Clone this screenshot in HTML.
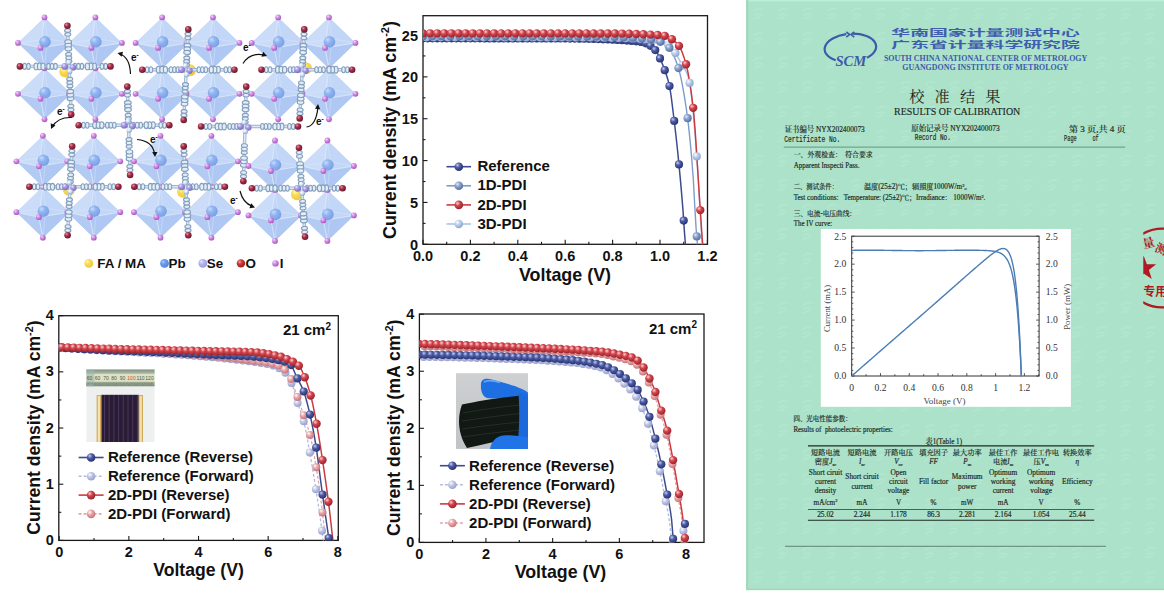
<!DOCTYPE html><html><head><meta charset="utf-8"><title>Figure</title><style>html,body{margin:0;padding:0;background:#fff;width:1164px;height:601px;overflow:hidden}svg{display:block}</style></head><body><svg width="1164" height="601" viewBox="0 0 1164 601"><defs><radialGradient id="gNavy" cx="0.38" cy="0.36" r="0.62" fx="0.34" fy="0.3"><stop offset="0" stop-color="#c9cff0"/><stop offset="0.45" stop-color="#4d5ca6"/><stop offset="1" stop-color="#2a3572"/></radialGradient><radialGradient id="g1D" cx="0.38" cy="0.36" r="0.62" fx="0.34" fy="0.3"><stop offset="0" stop-color="#e6ecf8"/><stop offset="0.45" stop-color="#8aa2cc"/><stop offset="1" stop-color="#5a73a2"/></radialGradient><radialGradient id="gRed" cx="0.38" cy="0.36" r="0.62" fx="0.34" fy="0.3"><stop offset="0" stop-color="#ffd6d6"/><stop offset="0.45" stop-color="#d4454c"/><stop offset="1" stop-color="#9c2630"/></radialGradient><radialGradient id="g3D" cx="0.38" cy="0.36" r="0.62" fx="0.34" fy="0.3"><stop offset="0" stop-color="#ffffff"/><stop offset="0.45" stop-color="#bcd0ec"/><stop offset="1" stop-color="#8fa9d2"/></radialGradient><radialGradient id="gRefF" cx="0.38" cy="0.36" r="0.62" fx="0.34" fy="0.3"><stop offset="0" stop-color="#ffffff"/><stop offset="0.45" stop-color="#c3c8e6"/><stop offset="1" stop-color="#9aa2cf"/></radialGradient><radialGradient id="g2DF" cx="0.38" cy="0.36" r="0.62" fx="0.34" fy="0.3"><stop offset="0" stop-color="#ffffff"/><stop offset="0.45" stop-color="#e7a9ab"/><stop offset="1" stop-color="#c9777c"/></radialGradient><radialGradient id="sPb" cx="0.38" cy="0.36" r="0.62" fx="0.34" fy="0.3"><stop offset="0" stop-color="#c8dcfa"/><stop offset="0.45" stop-color="#86aef0"/><stop offset="1" stop-color="#6e98e2"/></radialGradient><radialGradient id="sI" cx="0.38" cy="0.36" r="0.62" fx="0.34" fy="0.3"><stop offset="0" stop-color="#f7d8fb"/><stop offset="0.45" stop-color="#d58be6"/><stop offset="1" stop-color="#a95cc0"/></radialGradient><radialGradient id="sO" cx="0.38" cy="0.36" r="0.62" fx="0.34" fy="0.3"><stop offset="0" stop-color="#e495a8"/><stop offset="0.45" stop-color="#a8304a"/><stop offset="1" stop-color="#6c1a32"/></radialGradient><radialGradient id="sSe" cx="0.38" cy="0.36" r="0.62" fx="0.34" fy="0.3"><stop offset="0" stop-color="#ebe6fb"/><stop offset="0.45" stop-color="#a89ce4"/><stop offset="1" stop-color="#7d70c4"/></radialGradient><radialGradient id="sFA" cx="0.38" cy="0.36" r="0.62" fx="0.34" fy="0.3"><stop offset="0" stop-color="#fff8c0"/><stop offset="0.45" stop-color="#f8dc50"/><stop offset="1" stop-color="#f0c840"/></radialGradient><radialGradient id="sPbL" cx="0.38" cy="0.36" r="0.62" fx="0.34" fy="0.3"><stop offset="0" stop-color="#a8c8fa"/><stop offset="0.45" stop-color="#6a9cec"/><stop offset="1" stop-color="#4f86e0"/></radialGradient><radialGradient id="sOL" cx="0.38" cy="0.36" r="0.62" fx="0.34" fy="0.3"><stop offset="0" stop-color="#f0a0a0"/><stop offset="0.45" stop-color="#c83a3a"/><stop offset="1" stop-color="#a02020"/></radialGradient><radialGradient id="sSeL" cx="0.38" cy="0.36" r="0.62" fx="0.34" fy="0.3"><stop offset="0" stop-color="#e4e4fc"/><stop offset="0.45" stop-color="#b4b4f0"/><stop offset="1" stop-color="#9c9ce4"/></radialGradient><radialGradient id="sC" cx="0.38" cy="0.36" r="0.62" fx="0.34" fy="0.3"><stop offset="0" stop-color="#ffffff"/><stop offset="0.45" stop-color="#d9e7f6"/><stop offset="1" stop-color="#8eaacb"/></radialGradient><clipPath id="clip1"><rect x="423" y="15.7" width="284.5" height="228.6"/></clipPath><clipPath id="clip2"><rect x="58.8" y="315.7" width="279.5" height="224.7"/></clipPath><clipPath id="clip3"><rect x="419.4" y="314" width="284.6" height="228.4"/></clipPath></defs><g stroke="#1a1a1a" stroke-width="1.1"><line x1="423" y1="244.3" x2="423" y2="239.8"/><line x1="470.4" y1="244.3" x2="470.4" y2="239.8"/><line x1="517.8" y1="244.3" x2="517.8" y2="239.8"/><line x1="565.2" y1="244.3" x2="565.2" y2="239.8"/><line x1="612.6" y1="244.3" x2="612.6" y2="239.8"/><line x1="660" y1="244.3" x2="660" y2="239.8"/><line x1="707.4" y1="244.3" x2="707.4" y2="239.8"/><line x1="446.7" y1="244.3" x2="446.7" y2="241.8"/><line x1="494.1" y1="244.3" x2="494.1" y2="241.8"/><line x1="541.5" y1="244.3" x2="541.5" y2="241.8"/><line x1="588.9" y1="244.3" x2="588.9" y2="241.8"/><line x1="636.3" y1="244.3" x2="636.3" y2="241.8"/><line x1="683.7" y1="244.3" x2="683.7" y2="241.8"/><line x1="423" y1="244.3" x2="427.5" y2="244.3"/><line x1="423" y1="202.44" x2="427.5" y2="202.44"/><line x1="423" y1="160.58" x2="427.5" y2="160.58"/><line x1="423" y1="118.72" x2="427.5" y2="118.72"/><line x1="423" y1="76.86" x2="427.5" y2="76.86"/><line x1="423" y1="35" x2="427.5" y2="35"/><line x1="423" y1="223.37" x2="425.5" y2="223.37"/><line x1="423" y1="181.51" x2="425.5" y2="181.51"/><line x1="423" y1="139.65" x2="425.5" y2="139.65"/><line x1="423" y1="97.79" x2="425.5" y2="97.79"/><line x1="423" y1="55.93" x2="425.5" y2="55.93"/></g>
<rect x="423" y="15.7" width="284.5" height="228.6" fill="none" stroke="#1a1a1a" stroke-width="1.3"/>
<g font-family='"Liberation Sans", sans-serif' font-weight="bold" font-size="14.5" fill="#111"><text x="423" y="260.7" text-anchor="middle">0.0</text><text x="470.4" y="260.7" text-anchor="middle">0.2</text><text x="517.8" y="260.7" text-anchor="middle">0.4</text><text x="565.2" y="260.7" text-anchor="middle">0.6</text><text x="612.6" y="260.7" text-anchor="middle">0.8</text><text x="660" y="260.7" text-anchor="middle">1.0</text><text x="707.4" y="260.7" text-anchor="middle">1.2</text><text x="418" y="249.9" text-anchor="end">0</text><text x="418" y="208.04" text-anchor="end">5</text><text x="418" y="166.18" text-anchor="end">10</text><text x="418" y="124.32" text-anchor="end">15</text><text x="418" y="82.46" text-anchor="end">20</text><text x="418" y="40.6" text-anchor="end">25</text></g>
<text x="565" y="280.5" text-anchor="middle" font-family='"Liberation Sans", sans-serif' font-weight="bold" font-size="17.9" fill="#111">Voltage (V)</text>
<text transform="translate(395.6,130) rotate(-90)" text-anchor="middle" font-family='"Liberation Sans", sans-serif' font-weight="bold" font-size="17.9" fill="#111">Current density (mA cm<tspan dy="-6.8" font-size="11.1">-2</tspan><tspan dy="6.8">)</tspan></text>
<polyline points="423,37.34 424.42,37.34 425.83,37.34 427.25,37.34 428.67,37.34 430.09,37.34 431.5,37.34 432.92,37.34 434.34,37.34 435.76,37.34 437.17,37.35 438.59,37.35 440.01,37.35 441.42,37.35 442.84,37.35 444.26,37.35 445.68,37.35 447.09,37.35 448.51,37.35 449.93,37.35 451.34,37.35 452.76,37.35 454.18,37.35 455.6,37.35 457.01,37.35 458.43,37.35 459.85,37.35 461.27,37.35 462.68,37.35 464.1,37.35 465.52,37.35 466.93,37.35 468.35,37.35 469.77,37.35 471.19,37.36 472.6,37.36 474.02,37.36 475.44,37.36 476.85,37.36 478.27,37.36 479.69,37.36 481.11,37.36 482.52,37.36 483.94,37.36 485.36,37.36 486.78,37.36 488.19,37.37 489.61,37.37 491.03,37.37 492.44,37.37 493.86,37.37 495.28,37.37 496.7,37.37 498.11,37.37 499.53,37.37 500.95,37.38 502.37,37.38 503.78,37.38 505.2,37.38 506.62,37.38 508.03,37.38 509.45,37.38 510.87,37.39 512.29,37.39 513.7,37.39 515.12,37.39 516.54,37.39 517.95,37.39 519.37,37.39 520.79,37.4 522.21,37.4 523.62,37.4 525.04,37.4 526.46,37.4 527.88,37.4 529.29,37.41 530.71,37.41 532.13,37.41 533.54,37.41 534.96,37.41 536.38,37.42 537.8,37.42 539.21,37.42 540.63,37.42 542.05,37.42 543.47,37.43 544.88,37.43 546.3,37.43 547.72,37.43 549.13,37.43 550.55,37.44 551.97,37.44 553.39,37.44 554.8,37.44 556.22,37.45 557.64,37.45 559.05,37.45 560.47,37.45 561.89,37.46 563.31,37.46 564.72,37.46 566.14,37.46 567.56,37.47 568.98,37.47 570.39,37.47 571.81,37.48 573.23,37.48 574.64,37.48 576.06,37.48 577.48,37.49 578.9,37.49 580.31,37.49 581.73,37.5 583.15,37.5 584.56,37.5 585.98,37.51 587.4,37.51 588.82,37.51 590.23,37.52 591.65,37.52 593.07,37.53 594.49,37.54 595.9,37.55 597.32,37.56 598.74,37.58 600.15,37.59 601.57,37.61 602.99,37.63 604.41,37.65 605.82,37.67 607.24,37.7 608.66,37.72 610.08,37.75 611.49,37.78 612.91,37.81 614.33,37.85 615.74,37.88 617.16,37.92 618.58,37.96 620,38 621.41,38.04 622.83,38.09 624.25,38.13 625.66,38.18 627.08,38.23 628.5,38.28 629.92,38.33 631.33,38.39 632.75,38.45 634.17,38.5 635.59,38.57 637,38.63 638.42,38.69 639.84,38.76 641.25,38.83 642.67,38.9 644.09,38.97 645.51,39.04 646.92,39.12 648.34,39.2 649.76,39.29 651.18,39.42 652.59,39.57 654.01,39.75 655.43,39.97 656.84,40.21 658.26,40.48 659.68,40.79 661.1,41.17 662.51,41.71 663.93,42.4 665.35,43.23 666.76,44.18 668.18,45.24 669.6,46.4 671.02,47.64 672.43,48.97 673.85,50.68 675.27,52.75 676.69,55.08 678.1,57.58 679.52,60.17 680.94,62.76 682.35,65.19 683.77,67.44 685.19,69.83 686.61,72.7 688.02,76.4 689.44,81.96 690.86,91.22 692.27,103.66 693.69,118.64 695.11,135.53 696.53,153.67 697.94,172.64 699.36,197.81 700.78,223.6 702.2,244.41 703.61,259.19 705.03,269.42" fill="none" stroke="#a9c3e6" stroke-width="1.4" clip-path="url(#clip1)"/>
<polyline points="423,36.26 424.39,36.26 425.79,36.26 427.18,36.26 428.57,36.26 429.97,36.26 431.36,36.26 432.75,36.26 434.15,36.26 435.54,36.26 436.93,36.26 438.33,36.26 439.72,36.26 441.11,36.26 442.51,36.26 443.9,36.26 445.29,36.26 446.69,36.26 448.08,36.26 449.47,36.26 450.87,36.26 452.26,36.26 453.66,36.26 455.05,36.26 456.44,36.26 457.84,36.26 459.23,36.27 460.62,36.27 462.02,36.27 463.41,36.27 464.8,36.27 466.2,36.27 467.59,36.27 468.98,36.27 470.38,36.27 471.77,36.27 473.16,36.27 474.56,36.28 475.95,36.28 477.34,36.28 478.74,36.28 480.13,36.28 481.52,36.28 482.92,36.28 484.31,36.28 485.7,36.29 487.1,36.29 488.49,36.29 489.88,36.29 491.28,36.29 492.67,36.29 494.06,36.3 495.46,36.3 496.85,36.3 498.24,36.3 499.64,36.3 501.03,36.3 502.42,36.31 503.82,36.31 505.21,36.31 506.61,36.31 508,36.31 509.39,36.32 510.79,36.32 512.18,36.32 513.57,36.32 514.97,36.32 516.36,36.33 517.75,36.33 519.15,36.33 520.54,36.33 521.93,36.34 523.33,36.34 524.72,36.34 526.11,36.34 527.51,36.35 528.9,36.35 530.29,36.35 531.69,36.35 533.08,36.36 534.47,36.36 535.87,36.36 537.26,36.37 538.65,36.37 540.05,36.37 541.44,36.37 542.83,36.38 544.23,36.38 545.62,36.38 547.01,36.39 548.41,36.39 549.8,36.39 551.19,36.4 552.59,36.4 553.98,36.4 555.37,36.41 556.77,36.41 558.16,36.41 559.55,36.42 560.95,36.42 562.34,36.43 563.74,36.43 565.13,36.43 566.52,36.44 567.92,36.44 569.31,36.45 570.7,36.45 572.1,36.45 573.49,36.46 574.88,36.46 576.28,36.47 577.67,36.47 579.06,36.47 580.46,36.48 581.85,36.48 583.24,36.49 584.64,36.49 586.03,36.5 587.42,36.5 588.82,36.51 590.21,36.51 591.6,36.52 593,36.53 594.39,36.54 595.78,36.55 597.18,36.57 598.57,36.59 599.96,36.61 601.36,36.63 602.75,36.65 604.14,36.68 605.54,36.71 606.93,36.74 608.32,36.77 609.72,36.8 611.11,36.84 612.5,36.88 613.9,36.92 615.29,36.97 616.68,37.01 618.08,37.06 619.47,37.11 620.87,37.17 622.26,37.22 623.65,37.28 625.05,37.34 626.44,37.41 627.83,37.48 629.23,37.54 630.62,37.62 632.01,37.69 633.41,37.77 634.8,37.85 636.19,37.93 637.59,38.02 638.98,38.11 640.37,38.2 641.77,38.3 643.16,38.39 644.55,38.49 645.95,38.6 647.34,38.7 648.73,38.82 650.13,38.99 651.52,39.23 652.91,39.53 654.31,39.88 655.7,40.27 657.09,40.7 658.49,41.17 659.88,41.65 661.27,42.19 662.67,42.83 664.06,43.58 665.45,44.46 666.85,45.48 668.24,46.67 669.63,48.2 671.03,50.22 672.42,52.7 673.82,55.61 675.21,58.9 676.6,62.53 678,66.5 679.39,71.36 680.78,77.21 682.18,83.97 683.57,91.59 684.96,99.98 686.36,109.07 687.75,119.26 689.14,131.33 690.54,145.32 691.93,161.29 693.32,179.35 694.72,205.17 696.11,228.66 697.5,244.89 698.9,258.39 700.29,269.42" fill="none" stroke="#7f9bc9" stroke-width="1.4" clip-path="url(#clip1)"/>
<polyline points="423,38.35 424.33,38.35 425.67,38.35 427,38.35 428.34,38.35 429.67,38.35 431,38.35 432.34,38.35 433.67,38.35 435,38.35 436.34,38.35 437.67,38.35 439.01,38.35 440.34,38.35 441.67,38.35 443.01,38.35 444.34,38.35 445.68,38.35 447.01,38.35 448.34,38.35 449.68,38.35 451.01,38.35 452.35,38.35 453.68,38.36 455.01,38.36 456.35,38.36 457.68,38.36 459.01,38.36 460.35,38.36 461.68,38.36 463.02,38.36 464.35,38.36 465.68,38.36 467.02,38.36 468.35,38.36 469.69,38.36 471.02,38.37 472.35,38.37 473.69,38.37 475.02,38.37 476.35,38.37 477.69,38.37 479.02,38.37 480.36,38.37 481.69,38.37 483.02,38.38 484.36,38.38 485.69,38.38 487.03,38.38 488.36,38.38 489.69,38.38 491.03,38.38 492.36,38.39 493.7,38.39 495.03,38.39 496.36,38.39 497.7,38.39 499.03,38.39 500.36,38.39 501.7,38.4 503.03,38.4 504.37,38.4 505.7,38.4 507.03,38.4 508.37,38.41 509.7,38.41 511.04,38.41 512.37,38.41 513.7,38.41 515.04,38.41 516.37,38.42 517.7,38.42 519.04,38.42 520.37,38.42 521.71,38.43 523.04,38.43 524.37,38.43 525.71,38.43 527.04,38.43 528.38,38.44 529.71,38.44 531.04,38.44 532.38,38.44 533.71,38.45 535.05,38.45 536.38,38.45 537.71,38.45 539.05,38.46 540.38,38.46 541.71,38.46 543.05,38.47 544.38,38.47 545.72,38.47 547.05,38.47 548.38,38.48 549.72,38.48 551.05,38.48 552.39,38.49 553.72,38.49 555.05,38.49 556.39,38.49 557.72,38.5 559.05,38.5 560.39,38.5 561.72,38.51 563.06,38.51 564.39,38.51 565.72,38.52 567.06,38.52 568.39,38.53 569.73,38.54 571.06,38.55 572.39,38.56 573.73,38.57 575.06,38.58 576.39,38.6 577.73,38.62 579.06,38.64 580.4,38.66 581.73,38.68 583.06,38.71 584.4,38.73 585.73,38.76 587.07,38.79 588.4,38.82 589.73,38.86 591.07,38.89 592.4,38.93 593.74,38.97 595.07,39.01 596.4,39.05 597.74,39.1 599.07,39.14 600.4,39.19 601.74,39.24 603.07,39.3 604.41,39.35 605.74,39.41 607.07,39.46 608.41,39.53 609.74,39.59 611.08,39.65 612.41,39.72 613.74,39.79 615.08,39.86 616.41,39.93 617.74,40.01 619.08,40.08 620.41,40.16 621.75,40.24 623.08,40.33 624.41,40.41 625.75,40.5 627.08,40.59 628.42,40.69 629.75,40.78 631.08,40.88 632.42,40.98 633.75,41.08 635.09,41.18 636.42,41.29 637.75,41.43 639.09,41.63 640.42,41.89 641.75,42.19 643.09,42.54 644.42,42.93 645.76,43.36 647.09,43.88 648.42,44.54 649.76,45.34 651.09,46.28 652.43,47.36 653.76,48.56 655.09,49.89 656.43,51.6 657.76,53.91 659.09,56.57 660.43,59.34 661.76,62.36 663.1,65.68 664.43,69.29 665.76,73.06 667.1,77.03 668.43,81.66 669.77,87.47 671.1,95.9 672.43,106.31 673.77,117.22 675.1,128.24 676.44,139.99 677.77,152.52 679.1,165.88 680.44,180.12 681.77,195.4 683.1,211.9 684.44,232.09 685.77,248.57 687.11,260.81 688.44,269.42" fill="none" stroke="#3d4b8e" stroke-width="1.5" clip-path="url(#clip1)"/>
<polyline points="423,33.33 424.42,33.33 425.83,33.33 427.25,33.33 428.67,33.33 430.09,33.33 431.5,33.33 432.92,33.33 434.34,33.33 435.76,33.33 437.17,33.33 438.59,33.33 440.01,33.33 441.42,33.33 442.84,33.33 444.26,33.33 445.68,33.33 447.09,33.33 448.51,33.33 449.93,33.33 451.34,33.33 452.76,33.33 454.18,33.33 455.6,33.33 457.01,33.33 458.43,33.33 459.85,33.33 461.27,33.33 462.68,33.33 464.1,33.33 465.52,33.33 466.93,33.33 468.35,33.33 469.77,33.33 471.19,33.33 472.6,33.33 474.02,33.33 475.44,33.33 476.85,33.34 478.27,33.34 479.69,33.34 481.11,33.34 482.52,33.34 483.94,33.34 485.36,33.34 486.78,33.34 488.19,33.34 489.61,33.34 491.03,33.34 492.44,33.34 493.86,33.34 495.28,33.34 496.7,33.34 498.11,33.35 499.53,33.35 500.95,33.35 502.37,33.35 503.78,33.35 505.2,33.35 506.62,33.35 508.03,33.35 509.45,33.35 510.87,33.35 512.29,33.35 513.7,33.36 515.12,33.36 516.54,33.36 517.95,33.36 519.37,33.36 520.79,33.36 522.21,33.36 523.62,33.36 525.04,33.36 526.46,33.37 527.88,33.37 529.29,33.37 530.71,33.37 532.13,33.37 533.54,33.37 534.96,33.37 536.38,33.38 537.8,33.38 539.21,33.38 540.63,33.38 542.05,33.38 543.47,33.38 544.88,33.38 546.3,33.39 547.72,33.39 549.13,33.39 550.55,33.39 551.97,33.39 553.39,33.39 554.8,33.4 556.22,33.4 557.64,33.4 559.05,33.4 560.47,33.4 561.89,33.41 563.31,33.41 564.72,33.41 566.14,33.41 567.56,33.41 568.98,33.42 570.39,33.42 571.81,33.42 573.23,33.42 574.64,33.42 576.06,33.43 577.48,33.43 578.9,33.43 580.31,33.43 581.73,33.43 583.15,33.44 584.56,33.44 585.98,33.44 587.4,33.44 588.82,33.45 590.23,33.45 591.65,33.45 593.07,33.45 594.49,33.46 595.9,33.46 597.32,33.46 598.74,33.47 600.15,33.47 601.57,33.47 602.99,33.47 604.41,33.48 605.82,33.48 607.24,33.48 608.66,33.48 610.08,33.49 611.49,33.49 612.91,33.49 614.33,33.5 615.74,33.51 617.16,33.52 618.58,33.53 620,33.55 621.41,33.57 622.83,33.6 624.25,33.62 625.66,33.65 627.08,33.68 628.5,33.72 629.92,33.76 631.33,33.8 632.75,33.84 634.17,33.89 635.59,33.94 637,33.99 638.42,34.04 639.84,34.1 641.25,34.16 642.67,34.22 644.09,34.28 645.51,34.35 646.92,34.41 648.34,34.48 649.76,34.56 651.18,34.63 652.59,34.71 654.01,34.79 655.43,34.87 656.84,34.95 658.26,35.04 659.68,35.15 661.1,35.29 662.51,35.47 663.93,35.69 665.35,35.97 666.76,36.43 668.18,37.06 669.6,37.82 671.02,38.67 672.43,39.56 673.85,40.57 675.27,41.74 676.69,43.12 678.1,44.76 679.52,46.72 680.94,49.34 682.35,52.67 683.77,56.63 685.19,61.19 686.61,66.35 688.02,72.73 689.44,80.51 690.86,89.7 692.27,100.31 693.69,112.7 695.11,130.08 696.53,151.35 697.94,174.21 699.36,196.32 700.78,217.58 702.2,238.33 703.61,255.33 705.03,269.42" fill="none" stroke="#cc3a40" stroke-width="1.5" clip-path="url(#clip1)"/>
<g clip-path="url(#clip1)"><circle cx="423" cy="38.35" r="4.1" fill="url(#gNavy)"/><circle cx="427.74" cy="38.35" r="4.1" fill="url(#gNavy)"/><circle cx="432.48" cy="38.35" r="4.1" fill="url(#gNavy)"/><circle cx="437.22" cy="38.35" r="4.1" fill="url(#gNavy)"/><circle cx="441.96" cy="38.35" r="4.1" fill="url(#gNavy)"/><circle cx="446.7" cy="38.35" r="4.1" fill="url(#gNavy)"/><circle cx="451.44" cy="38.35" r="4.1" fill="url(#gNavy)"/><circle cx="456.18" cy="38.36" r="4.1" fill="url(#gNavy)"/><circle cx="460.92" cy="38.36" r="4.1" fill="url(#gNavy)"/><circle cx="465.66" cy="38.36" r="4.1" fill="url(#gNavy)"/><circle cx="470.4" cy="38.37" r="4.1" fill="url(#gNavy)"/><circle cx="475.14" cy="38.37" r="4.1" fill="url(#gNavy)"/><circle cx="479.88" cy="38.37" r="4.1" fill="url(#gNavy)"/><circle cx="484.62" cy="38.38" r="4.1" fill="url(#gNavy)"/><circle cx="489.36" cy="38.38" r="4.1" fill="url(#gNavy)"/><circle cx="494.1" cy="38.39" r="4.1" fill="url(#gNavy)"/><circle cx="498.84" cy="38.39" r="4.1" fill="url(#gNavy)"/><circle cx="503.58" cy="38.4" r="4.1" fill="url(#gNavy)"/><circle cx="508.32" cy="38.41" r="4.1" fill="url(#gNavy)"/><circle cx="513.06" cy="38.41" r="4.1" fill="url(#gNavy)"/><circle cx="517.8" cy="38.42" r="4.1" fill="url(#gNavy)"/><circle cx="522.54" cy="38.43" r="4.1" fill="url(#gNavy)"/><circle cx="527.28" cy="38.43" r="4.1" fill="url(#gNavy)"/><circle cx="532.02" cy="38.44" r="4.1" fill="url(#gNavy)"/><circle cx="536.76" cy="38.45" r="4.1" fill="url(#gNavy)"/><circle cx="541.5" cy="38.46" r="4.1" fill="url(#gNavy)"/><circle cx="546.24" cy="38.47" r="4.1" fill="url(#gNavy)"/><circle cx="550.98" cy="38.48" r="4.1" fill="url(#gNavy)"/><circle cx="555.72" cy="38.49" r="4.1" fill="url(#gNavy)"/><circle cx="560.46" cy="38.5" r="4.1" fill="url(#gNavy)"/><circle cx="565.2" cy="38.52" r="4.1" fill="url(#gNavy)"/><circle cx="569.94" cy="38.54" r="4.1" fill="url(#gNavy)"/><circle cx="574.68" cy="38.58" r="4.1" fill="url(#gNavy)"/><circle cx="579.42" cy="38.64" r="4.1" fill="url(#gNavy)"/><circle cx="584.16" cy="38.73" r="4.1" fill="url(#gNavy)"/><circle cx="588.9" cy="38.84" r="4.1" fill="url(#gNavy)"/><circle cx="593.64" cy="38.97" r="4.1" fill="url(#gNavy)"/><circle cx="598.38" cy="39.12" r="4.1" fill="url(#gNavy)"/><circle cx="603.12" cy="39.3" r="4.1" fill="url(#gNavy)"/><circle cx="607.86" cy="39.5" r="4.1" fill="url(#gNavy)"/><circle cx="612.6" cy="39.73" r="4.1" fill="url(#gNavy)"/><circle cx="617.34" cy="39.98" r="4.1" fill="url(#gNavy)"/><circle cx="622.08" cy="40.27" r="4.1" fill="url(#gNavy)"/><circle cx="626.82" cy="40.57" r="4.1" fill="url(#gNavy)"/><circle cx="631.56" cy="40.91" r="4.1" fill="url(#gNavy)"/><circle cx="636.3" cy="41.28" r="4.1" fill="url(#gNavy)"/><circle cx="641.04" cy="42.02" r="4.1" fill="url(#gNavy)"/><circle cx="645.78" cy="43.37" r="4.1" fill="url(#gNavy)"/><circle cx="650.52" cy="45.86" r="4.1" fill="url(#gNavy)"/><circle cx="655.26" cy="50.07" r="4.1" fill="url(#gNavy)"/><circle cx="660" cy="58.44" r="4.1" fill="url(#gNavy)"/><circle cx="664.74" cy="70.16" r="4.1" fill="url(#gNavy)"/><circle cx="669.48" cy="86.07" r="4.1" fill="url(#gNavy)"/><circle cx="674.22" cy="120.88" r="4.1" fill="url(#gNavy)"/><circle cx="678.96" cy="164.41" r="4.1" fill="url(#gNavy)"/><circle cx="683.7" cy="220.59" r="4.1" fill="url(#gNavy)"/></g>
<g clip-path="url(#clip1)"><circle cx="426.56" cy="37.34" r="4.1" fill="url(#g3D)"/><circle cx="433.67" cy="37.34" r="4.1" fill="url(#g3D)"/><circle cx="440.77" cy="37.35" r="4.1" fill="url(#g3D)"/><circle cx="447.88" cy="37.35" r="4.1" fill="url(#g3D)"/><circle cx="455" cy="37.35" r="4.1" fill="url(#g3D)"/><circle cx="462.11" cy="37.35" r="4.1" fill="url(#g3D)"/><circle cx="469.22" cy="37.35" r="4.1" fill="url(#g3D)"/><circle cx="476.32" cy="37.36" r="4.1" fill="url(#g3D)"/><circle cx="483.44" cy="37.36" r="4.1" fill="url(#g3D)"/><circle cx="490.55" cy="37.37" r="4.1" fill="url(#g3D)"/><circle cx="497.65" cy="37.37" r="4.1" fill="url(#g3D)"/><circle cx="504.76" cy="37.38" r="4.1" fill="url(#g3D)"/><circle cx="511.88" cy="37.39" r="4.1" fill="url(#g3D)"/><circle cx="518.99" cy="37.39" r="4.1" fill="url(#g3D)"/><circle cx="526.1" cy="37.4" r="4.1" fill="url(#g3D)"/><circle cx="533.21" cy="37.41" r="4.1" fill="url(#g3D)"/><circle cx="540.32" cy="37.42" r="4.1" fill="url(#g3D)"/><circle cx="547.42" cy="37.43" r="4.1" fill="url(#g3D)"/><circle cx="554.54" cy="37.44" r="4.1" fill="url(#g3D)"/><circle cx="561.64" cy="37.46" r="4.1" fill="url(#g3D)"/><circle cx="568.75" cy="37.47" r="4.1" fill="url(#g3D)"/><circle cx="575.87" cy="37.48" r="4.1" fill="url(#g3D)"/><circle cx="582.98" cy="37.5" r="4.1" fill="url(#g3D)"/><circle cx="590.09" cy="37.51" r="4.1" fill="url(#g3D)"/><circle cx="597.19" cy="37.56" r="4.1" fill="url(#g3D)"/><circle cx="604.31" cy="37.65" r="4.1" fill="url(#g3D)"/><circle cx="611.41" cy="37.78" r="4.1" fill="url(#g3D)"/><circle cx="618.52" cy="37.96" r="4.1" fill="url(#g3D)"/><circle cx="625.63" cy="38.18" r="4.1" fill="url(#g3D)"/><circle cx="632.75" cy="38.45" r="4.1" fill="url(#g3D)"/><circle cx="639.86" cy="38.76" r="4.1" fill="url(#g3D)"/><circle cx="646.96" cy="39.12" r="4.1" fill="url(#g3D)"/><circle cx="654.08" cy="39.76" r="4.1" fill="url(#g3D)"/><circle cx="661.18" cy="41.19" r="4.1" fill="url(#g3D)"/><circle cx="668.29" cy="45.33" r="4.1" fill="url(#g3D)"/><circle cx="675.4" cy="52.96" r="4.1" fill="url(#g3D)"/><circle cx="682.51" cy="65.45" r="4.1" fill="url(#g3D)"/><circle cx="689.62" cy="82.97" r="4.1" fill="url(#g3D)"/><circle cx="696.73" cy="156.4" r="4.1" fill="url(#g3D)"/><circle cx="703.85" cy="261.26" r="4.1" fill="url(#g3D)"/></g>
<g clip-path="url(#clip1)"><circle cx="423" cy="36.26" r="4.1" fill="url(#g1D)"/><circle cx="432.12" cy="36.26" r="4.1" fill="url(#g1D)"/><circle cx="441.25" cy="36.26" r="4.1" fill="url(#g1D)"/><circle cx="450.37" cy="36.26" r="4.1" fill="url(#g1D)"/><circle cx="459.5" cy="36.27" r="4.1" fill="url(#g1D)"/><circle cx="468.62" cy="36.27" r="4.1" fill="url(#g1D)"/><circle cx="477.75" cy="36.28" r="4.1" fill="url(#g1D)"/><circle cx="486.87" cy="36.29" r="4.1" fill="url(#g1D)"/><circle cx="496" cy="36.3" r="4.1" fill="url(#g1D)"/><circle cx="505.12" cy="36.31" r="4.1" fill="url(#g1D)"/><circle cx="514.25" cy="36.32" r="4.1" fill="url(#g1D)"/><circle cx="523.37" cy="36.34" r="4.1" fill="url(#g1D)"/><circle cx="532.49" cy="36.36" r="4.1" fill="url(#g1D)"/><circle cx="541.62" cy="36.37" r="4.1" fill="url(#g1D)"/><circle cx="550.74" cy="36.4" r="4.1" fill="url(#g1D)"/><circle cx="559.87" cy="36.42" r="4.1" fill="url(#g1D)"/><circle cx="568.99" cy="36.44" r="4.1" fill="url(#g1D)"/><circle cx="578.12" cy="36.47" r="4.1" fill="url(#g1D)"/><circle cx="587.24" cy="36.5" r="4.1" fill="url(#g1D)"/><circle cx="596.37" cy="36.56" r="4.1" fill="url(#g1D)"/><circle cx="605.49" cy="36.7" r="4.1" fill="url(#g1D)"/><circle cx="614.61" cy="36.94" r="4.1" fill="url(#g1D)"/><circle cx="623.74" cy="37.29" r="4.1" fill="url(#g1D)"/><circle cx="632.86" cy="37.74" r="4.1" fill="url(#g1D)"/><circle cx="641.99" cy="38.31" r="4.1" fill="url(#g1D)"/><circle cx="651.11" cy="39.16" r="4.1" fill="url(#g1D)"/><circle cx="660.24" cy="41.78" r="4.1" fill="url(#g1D)"/><circle cx="669.36" cy="47.86" r="4.1" fill="url(#g1D)"/><circle cx="678.49" cy="68.1" r="4.1" fill="url(#g1D)"/><circle cx="687.61" cy="118.17" r="4.1" fill="url(#g1D)"/><circle cx="696.74" cy="236.47" r="4.1" fill="url(#g1D)"/></g>
<g clip-path="url(#clip1)"><circle cx="423" cy="33.33" r="4.2" fill="url(#gRed)"/><circle cx="430.11" cy="33.33" r="4.2" fill="url(#gRed)"/><circle cx="437.22" cy="33.33" r="4.2" fill="url(#gRed)"/><circle cx="444.33" cy="33.33" r="4.2" fill="url(#gRed)"/><circle cx="451.44" cy="33.33" r="4.2" fill="url(#gRed)"/><circle cx="458.55" cy="33.33" r="4.2" fill="url(#gRed)"/><circle cx="465.66" cy="33.33" r="4.2" fill="url(#gRed)"/><circle cx="472.77" cy="33.33" r="4.2" fill="url(#gRed)"/><circle cx="479.88" cy="33.34" r="4.2" fill="url(#gRed)"/><circle cx="486.99" cy="33.34" r="4.2" fill="url(#gRed)"/><circle cx="494.1" cy="33.34" r="4.2" fill="url(#gRed)"/><circle cx="501.21" cy="33.35" r="4.2" fill="url(#gRed)"/><circle cx="508.32" cy="33.35" r="4.2" fill="url(#gRed)"/><circle cx="515.43" cy="33.36" r="4.2" fill="url(#gRed)"/><circle cx="522.54" cy="33.36" r="4.2" fill="url(#gRed)"/><circle cx="529.65" cy="33.37" r="4.2" fill="url(#gRed)"/><circle cx="536.76" cy="33.38" r="4.2" fill="url(#gRed)"/><circle cx="543.87" cy="33.38" r="4.2" fill="url(#gRed)"/><circle cx="550.98" cy="33.39" r="4.2" fill="url(#gRed)"/><circle cx="558.09" cy="33.4" r="4.2" fill="url(#gRed)"/><circle cx="565.2" cy="33.41" r="4.2" fill="url(#gRed)"/><circle cx="572.31" cy="33.42" r="4.2" fill="url(#gRed)"/><circle cx="579.42" cy="33.43" r="4.2" fill="url(#gRed)"/><circle cx="586.53" cy="33.44" r="4.2" fill="url(#gRed)"/><circle cx="593.64" cy="33.46" r="4.2" fill="url(#gRed)"/><circle cx="600.75" cy="33.47" r="4.2" fill="url(#gRed)"/><circle cx="607.86" cy="33.48" r="4.2" fill="url(#gRed)"/><circle cx="614.97" cy="33.5" r="4.2" fill="url(#gRed)"/><circle cx="622.08" cy="33.58" r="4.2" fill="url(#gRed)"/><circle cx="629.19" cy="33.74" r="4.2" fill="url(#gRed)"/><circle cx="636.3" cy="33.96" r="4.2" fill="url(#gRed)"/><circle cx="643.41" cy="34.25" r="4.2" fill="url(#gRed)"/><circle cx="650.52" cy="34.6" r="4.2" fill="url(#gRed)"/><circle cx="657.63" cy="35" r="4.2" fill="url(#gRed)"/><circle cx="664.74" cy="35.84" r="4.2" fill="url(#gRed)"/><circle cx="671.85" cy="39.19" r="4.2" fill="url(#gRed)"/><circle cx="678.96" cy="45.88" r="4.2" fill="url(#gRed)"/><circle cx="686.07" cy="64.3" r="4.2" fill="url(#gRed)"/><circle cx="693.18" cy="107.84" r="4.2" fill="url(#gRed)"/><circle cx="700.29" cy="210.1" r="4.2" fill="url(#gRed)"/></g>
<line x1="446.5" y1="166.7" x2="471" y2="166.7" stroke="#3d4b8e" stroke-width="1.6"/>
<circle cx="458.8" cy="166.7" r="4.3" fill="url(#gNavy)"/>
<text x="477.4" y="171.3" font-family='"Liberation Sans", sans-serif' font-weight="bold" font-size="15" fill="#111">Reference</text>
<line x1="446.5" y1="185.8" x2="471" y2="185.8" stroke="#7f9bc9" stroke-width="1.6"/>
<circle cx="458.8" cy="185.8" r="4.3" fill="url(#g1D)"/>
<text x="477.4" y="190.4" font-family='"Liberation Sans", sans-serif' font-weight="bold" font-size="15" fill="#111">1D-PDI</text>
<line x1="446.5" y1="204.9" x2="471" y2="204.9" stroke="#cc3a40" stroke-width="1.6"/>
<circle cx="458.8" cy="204.9" r="4.3" fill="url(#gRed)"/>
<text x="477.4" y="209.5" font-family='"Liberation Sans", sans-serif' font-weight="bold" font-size="15" fill="#111">2D-PDI</text>
<line x1="446.5" y1="224" x2="471" y2="224" stroke="#a9c3e6" stroke-width="1.6"/>
<circle cx="458.8" cy="224" r="4.3" fill="url(#g3D)"/>
<text x="477.4" y="228.6" font-family='"Liberation Sans", sans-serif' font-weight="bold" font-size="15" fill="#111">3D-PDI</text>
<g stroke="#1a1a1a" stroke-width="1.1"><line x1="59.2" y1="540.4" x2="59.2" y2="535.9"/><line x1="128.86" y1="540.4" x2="128.86" y2="535.9"/><line x1="198.52" y1="540.4" x2="198.52" y2="535.9"/><line x1="268.18" y1="540.4" x2="268.18" y2="535.9"/><line x1="337.84" y1="540.4" x2="337.84" y2="535.9"/><line x1="94.03" y1="540.4" x2="94.03" y2="537.9"/><line x1="163.69" y1="540.4" x2="163.69" y2="537.9"/><line x1="233.35" y1="540.4" x2="233.35" y2="537.9"/><line x1="303.01" y1="540.4" x2="303.01" y2="537.9"/><line x1="58.8" y1="540.4" x2="63.3" y2="540.4"/><line x1="58.8" y1="484.22" x2="63.3" y2="484.22"/><line x1="58.8" y1="428.04" x2="63.3" y2="428.04"/><line x1="58.8" y1="371.86" x2="63.3" y2="371.86"/><line x1="58.8" y1="315.68" x2="63.3" y2="315.68"/><line x1="58.8" y1="512.31" x2="61.3" y2="512.31"/><line x1="58.8" y1="456.13" x2="61.3" y2="456.13"/><line x1="58.8" y1="399.95" x2="61.3" y2="399.95"/><line x1="58.8" y1="343.77" x2="61.3" y2="343.77"/></g>
<rect x="58.8" y="315.7" width="279.5" height="224.7" fill="none" stroke="#1a1a1a" stroke-width="1.3"/>
<g font-family='"Liberation Sans", sans-serif' font-weight="bold" font-size="14.5" fill="#111"><text x="59.2" y="556.8" text-anchor="middle">0</text><text x="128.86" y="556.8" text-anchor="middle">2</text><text x="198.52" y="556.8" text-anchor="middle">4</text><text x="268.18" y="556.8" text-anchor="middle">6</text><text x="337.84" y="556.8" text-anchor="middle">8</text><text x="53.8" y="544.9" text-anchor="end">0</text><text x="53.8" y="488.72" text-anchor="end">1</text><text x="53.8" y="432.54" text-anchor="end">2</text><text x="53.8" y="376.36" text-anchor="end">3</text><text x="53.8" y="320.18" text-anchor="end">4</text></g>
<text x="198.5" y="576" text-anchor="middle" font-family='"Liberation Sans", sans-serif' font-weight="bold" font-size="17.6" fill="#111">Voltage (V)</text>
<text transform="translate(39.5,427.5) rotate(-90)" text-anchor="middle" font-family='"Liberation Sans", sans-serif' font-weight="bold" font-size="17.6" fill="#111">Current density (mA cm<tspan dy="-6.69" font-size="10.91">-2</tspan><tspan dy="6.69">)</tspan></text>
<text x="331" y="335" text-anchor="end" font-family='"Liberation Sans", sans-serif' font-weight="bold" font-size="15" fill="#111">21 cm<tspan dy="-5.5" font-size="10">2</tspan></text>
<polyline points="59.2,347.7 60.55,347.8 61.9,347.9 63.24,348 64.59,348.09 65.94,348.19 67.29,348.28 68.63,348.38 69.98,348.47 71.33,348.57 72.68,348.66 74.02,348.75 75.37,348.85 76.72,348.94 78.07,349.03 79.42,349.12 80.76,349.21 82.11,349.3 83.46,349.39 84.81,349.47 86.15,349.56 87.5,349.65 88.85,349.73 90.2,349.82 91.54,349.9 92.89,349.99 94.24,350.07 95.59,350.15 96.94,350.23 98.28,350.32 99.63,350.4 100.98,350.48 102.33,350.56 103.67,350.63 105.02,350.71 106.37,350.79 107.72,350.87 109.06,350.94 110.41,351.02 111.76,351.09 113.11,351.16 114.46,351.23 115.8,351.3 117.15,351.37 118.5,351.44 119.85,351.51 121.19,351.57 122.54,351.63 123.89,351.7 125.24,351.76 126.58,351.82 127.93,351.88 129.28,351.94 130.63,352 131.98,352.06 133.32,352.12 134.67,352.18 136.02,352.24 137.37,352.3 138.71,352.36 140.06,352.42 141.41,352.48 142.76,352.54 144.1,352.6 145.45,352.67 146.8,352.73 148.15,352.79 149.5,352.86 150.84,352.93 152.19,353 153.54,353.07 154.89,353.14 156.23,353.21 157.58,353.29 158.93,353.37 160.28,353.45 161.62,353.53 162.97,353.61 164.32,353.69 165.67,353.77 167.02,353.85 168.36,353.94 169.71,354.02 171.06,354.11 172.41,354.2 173.75,354.29 175.1,354.38 176.45,354.47 177.8,354.56 179.14,354.65 180.49,354.75 181.84,354.84 183.19,354.94 184.54,355.03 185.88,355.13 187.23,355.23 188.58,355.33 189.93,355.44 191.27,355.54 192.62,355.64 193.97,355.75 195.32,355.85 196.66,355.96 198.01,356.07 199.36,356.18 200.71,356.29 202.06,356.4 203.4,356.51 204.75,356.63 206.1,356.74 207.45,356.86 208.79,356.98 210.14,357.1 211.49,357.22 212.84,357.34 214.18,357.46 215.53,357.58 216.88,357.71 218.23,357.84 219.58,357.96 220.92,358.09 222.27,358.23 223.62,358.36 224.97,358.5 226.31,358.63 227.66,358.77 229.01,358.91 230.36,359.06 231.7,359.2 233.05,359.35 234.4,359.5 235.75,359.65 237.1,359.8 238.44,359.96 239.79,360.12 241.14,360.28 242.49,360.44 243.83,360.61 245.18,360.78 246.53,360.95 247.88,361.13 249.22,361.3 250.57,361.48 251.92,361.67 253.27,361.85 254.62,362.04 255.96,362.22 257.31,362.4 258.66,362.59 260.01,362.79 261.35,363 262.7,363.21 264.05,363.44 265.4,363.69 266.74,363.96 268.09,364.24 269.44,364.55 270.79,364.89 272.14,365.25 273.48,365.67 274.83,366.14 276.18,366.69 277.53,367.3 278.87,368 280.22,368.77 281.57,369.63 282.92,370.58 284.26,371.63 285.61,372.88 286.96,374.55 288.31,376.61 289.66,379.02 291,381.76 292.35,384.89 293.7,389.35 295.05,394.53 296.39,399.39 297.74,403.48 299.09,407.21 300.44,410.88 301.78,414.77 303.13,419.19 304.48,424.46 305.83,430.83 307.18,437.96 308.52,445.47 309.87,452.98 311.22,460.64 312.57,468.58 313.91,476.79 315.26,485.21 316.61,493.8 317.96,502.54 319.3,511.55 320.65,520.91 322,530.73 323.35,541.42 324.7,551.2 326.04,560.32 327.39,568.49" fill="none" stroke="#b3bce0" stroke-width="1.3" stroke-dasharray="3,2" clip-path="url(#clip2)"/>
<polyline points="59.2,347.7 60.56,347.76 61.91,347.81 63.27,347.87 64.63,347.92 65.98,347.98 67.34,348.03 68.7,348.09 70.05,348.15 71.41,348.2 72.76,348.26 74.12,348.32 75.48,348.37 76.83,348.43 78.19,348.49 79.55,348.55 80.9,348.6 82.26,348.66 83.62,348.72 84.97,348.78 86.33,348.84 87.69,348.89 89.04,348.95 90.4,349.01 91.75,349.07 93.11,349.13 94.47,349.19 95.82,349.25 97.18,349.31 98.54,349.37 99.89,349.43 101.25,349.49 102.61,349.55 103.96,349.61 105.32,349.67 106.68,349.73 108.03,349.8 109.39,349.86 110.74,349.92 112.1,349.98 113.46,350.04 114.81,350.1 116.17,350.16 117.53,350.22 118.88,350.28 120.24,350.35 121.6,350.41 122.95,350.47 124.31,350.53 125.67,350.59 127.02,350.65 128.38,350.71 129.74,350.77 131.09,350.83 132.45,350.9 133.8,350.96 135.16,351.02 136.52,351.08 137.87,351.15 139.23,351.21 140.59,351.28 141.94,351.34 143.3,351.41 144.66,351.48 146.01,351.55 147.37,351.62 148.73,351.69 150.08,351.76 151.44,351.83 152.79,351.9 154.15,351.97 155.51,352.05 156.86,352.13 158.22,352.2 159.58,352.28 160.93,352.36 162.29,352.44 163.65,352.52 165,352.61 166.36,352.69 167.72,352.77 169.07,352.86 170.43,352.95 171.78,353.03 173.14,353.12 174.5,353.21 175.85,353.3 177.21,353.4 178.57,353.49 179.92,353.58 181.28,353.68 182.64,353.77 183.99,353.87 185.35,353.97 186.71,354.07 188.06,354.17 189.42,354.27 190.78,354.38 192.13,354.48 193.49,354.59 194.84,354.69 196.2,354.8 197.56,354.91 198.91,355.02 200.27,355.13 201.63,355.24 202.98,355.36 204.34,355.47 205.7,355.59 207.05,355.7 208.41,355.82 209.77,355.94 211.12,356.06 212.48,356.18 213.83,356.31 215.19,356.43 216.55,356.56 217.9,356.69 219.26,356.82 220.62,356.95 221.97,357.09 223.33,357.22 224.69,357.36 226.04,357.5 227.4,357.64 228.76,357.78 230.11,357.93 231.47,358.07 232.82,358.22 234.18,358.37 235.54,358.53 236.89,358.68 238.25,358.84 239.61,359 240.96,359.16 242.32,359.32 243.68,359.49 245.03,359.66 246.39,359.83 247.75,360 249.1,360.17 250.46,360.35 251.82,360.53 253.17,360.71 254.53,360.89 255.88,361.06 257.24,361.23 258.6,361.4 259.95,361.57 261.31,361.75 262.67,361.94 264.02,362.13 265.38,362.33 266.74,362.55 268.09,362.79 269.45,363.04 270.81,363.32 272.16,363.62 273.52,363.94 274.87,364.29 276.23,364.67 277.59,365.14 278.94,365.71 280.3,366.39 281.66,367.18 283.01,368.1 284.37,369.13 285.73,370.3 287.08,371.6 288.44,373.31 289.8,375.86 291.15,379.07 292.51,382.74 293.86,386.69 295.22,390.71 296.58,394.62 297.93,398.32 299.29,402.15 300.65,406.1 302,410.13 303.36,414.21 304.72,418.3 306.07,422.24 307.43,426.22 308.79,430.6 310.14,435.7 311.5,441.65 312.86,448.33 314.21,455.62 315.57,463.37 316.92,471.52 318.28,480.44 319.64,490.07 320.99,500.29 322.35,511 323.71,523.52 325.06,535.96 326.42,545.54 327.78,553.98 329.13,561.3" fill="none" stroke="#e6a4a8" stroke-width="1.3" stroke-dasharray="3,2" clip-path="url(#clip2)"/>
<polyline points="59.2,347.7 60.58,347.79 61.97,347.88 63.35,347.96 64.73,348.05 66.11,348.13 67.5,348.22 68.88,348.3 70.26,348.38 71.64,348.46 73.03,348.54 74.41,348.63 75.79,348.71 77.18,348.78 78.56,348.86 79.94,348.94 81.32,349.02 82.71,349.1 84.09,349.17 85.47,349.25 86.85,349.32 88.24,349.39 89.62,349.47 91,349.54 92.38,349.61 93.77,349.68 95.15,349.75 96.53,349.82 97.92,349.89 99.3,349.96 100.68,350.02 102.06,350.09 103.45,350.15 104.83,350.22 106.21,350.28 107.59,350.34 108.98,350.4 110.36,350.46 111.74,350.52 113.13,350.58 114.51,350.64 115.89,350.7 117.27,350.75 118.66,350.8 120.04,350.86 121.42,350.91 122.8,350.96 124.19,351.01 125.57,351.05 126.95,351.1 128.33,351.15 129.72,351.2 131.1,351.24 132.48,351.29 133.87,351.34 135.25,351.38 136.63,351.43 138.01,351.47 139.4,351.52 140.78,351.57 142.16,351.61 143.54,351.66 144.93,351.71 146.31,351.75 147.69,351.8 149.08,351.85 150.46,351.9 151.84,351.95 153.22,352 154.61,352.06 155.99,352.11 157.37,352.17 158.75,352.22 160.14,352.28 161.52,352.34 162.9,352.4 164.29,352.46 165.67,352.52 167.05,352.58 168.43,352.65 169.82,352.71 171.2,352.77 172.58,352.84 173.96,352.9 175.35,352.97 176.73,353.03 178.11,353.1 179.49,353.17 180.88,353.24 182.26,353.3 183.64,353.37 185.03,353.44 186.41,353.51 187.79,353.58 189.17,353.65 190.56,353.71 191.94,353.78 193.32,353.85 194.7,353.92 196.09,353.99 197.47,354.06 198.85,354.12 200.24,354.19 201.62,354.26 203,354.33 204.38,354.39 205.77,354.46 207.15,354.52 208.53,354.58 209.91,354.65 211.3,354.71 212.68,354.76 214.06,354.82 215.44,354.88 216.83,354.93 218.21,354.99 219.59,355.04 220.98,355.1 222.36,355.15 223.74,355.21 225.12,355.26 226.51,355.32 227.89,355.37 229.27,355.43 230.65,355.49 232.04,355.55 233.42,355.61 234.8,355.67 236.19,355.74 237.57,355.8 238.95,355.87 240.33,355.94 241.72,356.02 243.1,356.09 244.48,356.17 245.86,356.25 247.25,356.34 248.63,356.42 250.01,356.52 251.4,356.61 252.78,356.71 254.16,356.82 255.54,356.93 256.93,357.05 258.31,357.18 259.69,357.32 261.07,357.47 262.46,357.63 263.84,357.79 265.22,357.97 266.6,358.15 267.99,358.34 269.37,358.55 270.75,358.76 272.14,358.98 273.52,359.21 274.9,359.46 276.28,359.7 277.67,359.95 279.05,360.21 280.43,360.49 281.81,360.8 283.2,361.15 284.58,361.56 285.96,362.04 287.35,362.6 288.73,363.24 290.11,363.99 291.49,365.52 292.88,368.18 294.26,371.44 295.64,374.74 297.02,377.61 298.41,380.24 299.79,382.84 301.17,385.59 302.55,388.64 303.94,392.15 305.32,396.36 306.7,401.23 308.09,406.62 309.47,412.38 310.85,418.45 312.23,425.06 313.62,432.26 315,440.06 316.38,448.55 317.76,458.41 319.15,469.16 320.53,480 321.91,490.22 323.3,500.1 324.68,509.87 326.06,519.5 327.44,529 328.83,538.35 330.21,547.54 331.59,556.55 332.97,565.4 334.36,574.11" fill="none" stroke="#3d4b8e" stroke-width="1.5" clip-path="url(#clip2)"/>
<polyline points="59.2,347.14 60.6,347.19 62,347.24 63.4,347.29 64.8,347.34 66.2,347.39 67.6,347.44 69,347.49 70.4,347.54 71.8,347.59 73.2,347.64 74.6,347.69 76,347.73 77.4,347.78 78.8,347.83 80.2,347.87 81.6,347.92 83,347.97 84.4,348.01 85.8,348.06 87.2,348.1 88.6,348.15 90,348.19 91.4,348.24 92.8,348.28 94.21,348.32 95.61,348.37 97.01,348.41 98.41,348.45 99.81,348.49 101.21,348.53 102.61,348.58 104.01,348.62 105.41,348.66 106.81,348.7 108.21,348.74 109.61,348.78 111.01,348.81 112.41,348.85 113.81,348.89 115.21,348.93 116.61,348.96 118.01,349 119.41,349.04 120.81,349.07 122.21,349.11 123.61,349.14 125.01,349.18 126.41,349.21 127.81,349.24 129.21,349.28 130.61,349.31 132.01,349.34 133.41,349.38 134.81,349.41 136.21,349.44 137.61,349.47 139.01,349.51 140.41,349.54 141.81,349.57 143.21,349.6 144.61,349.64 146.01,349.67 147.41,349.7 148.81,349.73 150.21,349.76 151.61,349.8 153.01,349.83 154.41,349.86 155.81,349.9 157.21,349.93 158.61,349.96 160.01,350 161.41,350.03 162.81,350.06 164.22,350.1 165.62,350.13 167.02,350.16 168.42,350.2 169.82,350.23 171.22,350.26 172.62,350.29 174.02,350.33 175.42,350.36 176.82,350.39 178.22,350.43 179.62,350.46 181.02,350.49 182.42,350.53 183.82,350.56 185.22,350.59 186.62,350.63 188.02,350.66 189.42,350.69 190.82,350.73 192.22,350.76 193.62,350.79 195.02,350.82 196.42,350.86 197.82,350.89 199.22,350.92 200.62,350.96 202.02,350.99 203.42,351.02 204.82,351.06 206.22,351.09 207.62,351.12 209.02,351.15 210.42,351.18 211.82,351.21 213.22,351.24 214.62,351.26 216.02,351.29 217.42,351.31 218.82,351.34 220.22,351.36 221.62,351.38 223.02,351.41 224.42,351.43 225.82,351.46 227.22,351.48 228.62,351.51 230.02,351.53 231.42,351.56 232.82,351.59 234.23,351.62 235.63,351.65 237.03,351.68 238.43,351.72 239.83,351.76 241.23,351.79 242.63,351.83 244.03,351.88 245.43,351.92 246.83,351.97 248.23,352.02 249.63,352.08 251.03,352.13 252.43,352.19 253.83,352.26 255.23,352.35 256.63,352.46 258.03,352.59 259.43,352.74 260.83,352.9 262.23,353.08 263.63,353.27 265.03,353.48 266.43,353.7 267.83,353.93 269.23,354.18 270.63,354.44 272.03,354.71 273.43,355 274.83,355.29 276.23,355.59 277.63,355.9 279.03,356.23 280.43,356.61 281.83,357.05 283.23,357.56 284.63,358.11 286.03,358.7 287.43,359.32 288.83,359.95 290.23,360.58 291.63,361.19 293.03,361.83 294.43,362.55 295.83,363.37 297.23,364.34 298.63,365.5 300.03,367.17 301.43,369.67 302.83,372.69 304.24,375.96 305.64,379.42 307.04,383.32 308.44,387.65 309.84,392.41 311.24,397.63 312.64,403.67 314.04,410.39 315.44,417.59 316.84,425.07 318.24,433.1 319.64,441.62 321.04,450.5 322.44,459.59 323.84,468.86 325.24,478.41 326.64,488.33 328.04,498.71 329.44,509.78 330.84,522.17 332.24,534.54 333.64,545.53 335.04,555.74 336.44,565.3 337.84,574.11" fill="none" stroke="#cc3a40" stroke-width="1.5" clip-path="url(#clip2)"/>
<g clip-path="url(#clip2)"><circle cx="59.9" cy="347.75" r="4" fill="url(#gRefF)"/><circle cx="65.99" cy="348.19" r="4" fill="url(#gRefF)"/><circle cx="72.09" cy="348.62" r="4" fill="url(#gRefF)"/><circle cx="78.18" cy="349.04" r="4" fill="url(#gRefF)"/><circle cx="84.28" cy="349.44" r="4" fill="url(#gRefF)"/><circle cx="90.37" cy="349.83" r="4" fill="url(#gRefF)"/><circle cx="96.47" cy="350.21" r="4" fill="url(#gRefF)"/><circle cx="102.56" cy="350.57" r="4" fill="url(#gRefF)"/><circle cx="108.66" cy="350.92" r="4" fill="url(#gRefF)"/><circle cx="114.75" cy="351.25" r="4" fill="url(#gRefF)"/><circle cx="120.85" cy="351.55" r="4" fill="url(#gRefF)"/><circle cx="126.94" cy="351.84" r="4" fill="url(#gRefF)"/><circle cx="133.04" cy="352.11" r="4" fill="url(#gRefF)"/><circle cx="139.13" cy="352.38" r="4" fill="url(#gRefF)"/><circle cx="145.23" cy="352.66" r="4" fill="url(#gRefF)"/><circle cx="151.33" cy="352.95" r="4" fill="url(#gRefF)"/><circle cx="157.42" cy="353.28" r="4" fill="url(#gRefF)"/><circle cx="163.52" cy="353.64" r="4" fill="url(#gRefF)"/><circle cx="169.61" cy="354.02" r="4" fill="url(#gRefF)"/><circle cx="175.71" cy="354.42" r="4" fill="url(#gRefF)"/><circle cx="181.8" cy="354.84" r="4" fill="url(#gRefF)"/><circle cx="187.9" cy="355.28" r="4" fill="url(#gRefF)"/><circle cx="193.99" cy="355.75" r="4" fill="url(#gRefF)"/><circle cx="200.09" cy="356.24" r="4" fill="url(#gRefF)"/><circle cx="206.18" cy="356.75" r="4" fill="url(#gRefF)"/><circle cx="212.28" cy="357.29" r="4" fill="url(#gRefF)"/><circle cx="218.37" cy="357.85" r="4" fill="url(#gRefF)"/><circle cx="224.47" cy="358.45" r="4" fill="url(#gRefF)"/><circle cx="230.56" cy="359.08" r="4" fill="url(#gRefF)"/><circle cx="236.66" cy="359.75" r="4" fill="url(#gRefF)"/><circle cx="242.75" cy="360.48" r="4" fill="url(#gRefF)"/><circle cx="248.85" cy="361.25" r="4" fill="url(#gRefF)"/><circle cx="254.94" cy="362.08" r="4" fill="url(#gRefF)"/><circle cx="261.04" cy="362.95" r="4" fill="url(#gRefF)"/><circle cx="267.14" cy="364.04" r="4" fill="url(#gRefF)"/><circle cx="273.23" cy="365.58" r="4" fill="url(#gRefF)"/><circle cx="279.33" cy="368.25" r="4" fill="url(#gRefF)"/><circle cx="285.42" cy="372.67" r="4" fill="url(#gRefF)"/><circle cx="291.52" cy="382.88" r="4" fill="url(#gRefF)"/><circle cx="297.61" cy="403.1" r="4" fill="url(#gRefF)"/><circle cx="303.71" cy="421.3" r="4" fill="url(#gRefF)"/><circle cx="309.8" cy="452.6" r="4" fill="url(#gRefF)"/><circle cx="315.9" cy="489.24" r="4" fill="url(#gRefF)"/><circle cx="321.99" cy="530.67" r="4" fill="url(#gRefF)"/><circle cx="328.09" cy="572.25" r="4" fill="url(#gRefF)"/></g>
<g clip-path="url(#clip2)"><circle cx="59.2" cy="347.7" r="4" fill="url(#g2DF)"/><circle cx="65.47" cy="347.96" r="4" fill="url(#g2DF)"/><circle cx="71.74" cy="348.22" r="4" fill="url(#g2DF)"/><circle cx="78.01" cy="348.48" r="4" fill="url(#g2DF)"/><circle cx="84.28" cy="348.75" r="4" fill="url(#g2DF)"/><circle cx="90.55" cy="349.02" r="4" fill="url(#g2DF)"/><circle cx="96.82" cy="349.29" r="4" fill="url(#g2DF)"/><circle cx="103.09" cy="349.57" r="4" fill="url(#g2DF)"/><circle cx="109.36" cy="349.85" r="4" fill="url(#g2DF)"/><circle cx="115.62" cy="350.14" r="4" fill="url(#g2DF)"/><circle cx="121.89" cy="350.42" r="4" fill="url(#g2DF)"/><circle cx="128.16" cy="350.7" r="4" fill="url(#g2DF)"/><circle cx="134.43" cy="350.99" r="4" fill="url(#g2DF)"/><circle cx="140.7" cy="351.28" r="4" fill="url(#g2DF)"/><circle cx="146.97" cy="351.6" r="4" fill="url(#g2DF)"/><circle cx="153.24" cy="351.92" r="4" fill="url(#g2DF)"/><circle cx="159.51" cy="352.28" r="4" fill="url(#g2DF)"/><circle cx="165.78" cy="352.65" r="4" fill="url(#g2DF)"/><circle cx="172.05" cy="353.05" r="4" fill="url(#g2DF)"/><circle cx="178.32" cy="353.47" r="4" fill="url(#g2DF)"/><circle cx="184.59" cy="353.92" r="4" fill="url(#g2DF)"/><circle cx="190.86" cy="354.38" r="4" fill="url(#g2DF)"/><circle cx="197.13" cy="354.87" r="4" fill="url(#g2DF)"/><circle cx="203.4" cy="355.39" r="4" fill="url(#g2DF)"/><circle cx="209.67" cy="355.93" r="4" fill="url(#g2DF)"/><circle cx="215.94" cy="356.5" r="4" fill="url(#g2DF)"/><circle cx="222.2" cy="357.11" r="4" fill="url(#g2DF)"/><circle cx="228.47" cy="357.75" r="4" fill="url(#g2DF)"/><circle cx="234.74" cy="358.44" r="4" fill="url(#g2DF)"/><circle cx="241.01" cy="359.16" r="4" fill="url(#g2DF)"/><circle cx="247.28" cy="359.94" r="4" fill="url(#g2DF)"/><circle cx="253.55" cy="360.76" r="4" fill="url(#g2DF)"/><circle cx="259.82" cy="361.56" r="4" fill="url(#g2DF)"/><circle cx="266.09" cy="362.45" r="4" fill="url(#g2DF)"/><circle cx="272.36" cy="363.66" r="4" fill="url(#g2DF)"/><circle cx="278.63" cy="365.57" r="4" fill="url(#g2DF)"/><circle cx="284.9" cy="369.57" r="4" fill="url(#g2DF)"/><circle cx="291.17" cy="379.11" r="4" fill="url(#g2DF)"/><circle cx="297.44" cy="396.96" r="4" fill="url(#g2DF)"/><circle cx="303.71" cy="415.26" r="4" fill="url(#g2DF)"/><circle cx="309.98" cy="435.02" r="4" fill="url(#g2DF)"/><circle cx="316.25" cy="467.37" r="4" fill="url(#g2DF)"/><circle cx="322.51" cy="512.4" r="4" fill="url(#g2DF)"/><circle cx="328.78" cy="559.55" r="4" fill="url(#g2DF)"/></g>
<g clip-path="url(#clip2)"><circle cx="59.2" cy="347.7" r="4.1" fill="url(#gNavy)"/><circle cx="65.47" cy="348.09" r="4.1" fill="url(#gNavy)"/><circle cx="71.74" cy="348.47" r="4.1" fill="url(#gNavy)"/><circle cx="78.01" cy="348.83" r="4.1" fill="url(#gNavy)"/><circle cx="84.28" cy="349.18" r="4.1" fill="url(#gNavy)"/><circle cx="90.55" cy="349.52" r="4.1" fill="url(#gNavy)"/><circle cx="96.82" cy="349.83" r="4.1" fill="url(#gNavy)"/><circle cx="103.09" cy="350.14" r="4.1" fill="url(#gNavy)"/><circle cx="109.36" cy="350.42" r="4.1" fill="url(#gNavy)"/><circle cx="115.62" cy="350.68" r="4.1" fill="url(#gNavy)"/><circle cx="121.89" cy="350.92" r="4.1" fill="url(#gNavy)"/><circle cx="128.16" cy="351.14" r="4.1" fill="url(#gNavy)"/><circle cx="134.43" cy="351.35" r="4.1" fill="url(#gNavy)"/><circle cx="140.7" cy="351.56" r="4.1" fill="url(#gNavy)"/><circle cx="146.97" cy="351.78" r="4.1" fill="url(#gNavy)"/><circle cx="153.24" cy="352" r="4.1" fill="url(#gNavy)"/><circle cx="159.51" cy="352.25" r="4.1" fill="url(#gNavy)"/><circle cx="165.78" cy="352.53" r="4.1" fill="url(#gNavy)"/><circle cx="172.05" cy="352.81" r="4.1" fill="url(#gNavy)"/><circle cx="178.32" cy="353.11" r="4.1" fill="url(#gNavy)"/><circle cx="184.59" cy="353.42" r="4.1" fill="url(#gNavy)"/><circle cx="190.86" cy="353.73" r="4.1" fill="url(#gNavy)"/><circle cx="197.13" cy="354.04" r="4.1" fill="url(#gNavy)"/><circle cx="203.4" cy="354.34" r="4.1" fill="url(#gNavy)"/><circle cx="209.67" cy="354.63" r="4.1" fill="url(#gNavy)"/><circle cx="215.94" cy="354.9" r="4.1" fill="url(#gNavy)"/><circle cx="222.2" cy="355.15" r="4.1" fill="url(#gNavy)"/><circle cx="228.47" cy="355.4" r="4.1" fill="url(#gNavy)"/><circle cx="234.74" cy="355.67" r="4.1" fill="url(#gNavy)"/><circle cx="241.01" cy="355.98" r="4.1" fill="url(#gNavy)"/><circle cx="247.28" cy="356.34" r="4.1" fill="url(#gNavy)"/><circle cx="253.55" cy="356.77" r="4.1" fill="url(#gNavy)"/><circle cx="259.82" cy="357.34" r="4.1" fill="url(#gNavy)"/><circle cx="266.09" cy="358.08" r="4.1" fill="url(#gNavy)"/><circle cx="272.36" cy="359.02" r="4.1" fill="url(#gNavy)"/><circle cx="278.63" cy="360.13" r="4.1" fill="url(#gNavy)"/><circle cx="284.9" cy="361.67" r="4.1" fill="url(#gNavy)"/><circle cx="291.17" cy="365.04" r="4.1" fill="url(#gNavy)"/><circle cx="297.44" cy="378.4" r="4.1" fill="url(#gNavy)"/><circle cx="303.71" cy="391.52" r="4.1" fill="url(#gNavy)"/><circle cx="309.98" cy="414.56" r="4.1" fill="url(#gNavy)"/><circle cx="316.25" cy="447.66" r="4.1" fill="url(#gNavy)"/><circle cx="322.51" cy="494.54" r="4.1" fill="url(#gNavy)"/><circle cx="328.78" cy="538.07" r="4.1" fill="url(#gNavy)"/></g>
<g clip-path="url(#clip2)"><circle cx="61.99" cy="347.24" r="4.2" fill="url(#gRed)"/><circle cx="67.91" cy="347.45" r="4.2" fill="url(#gRed)"/><circle cx="73.83" cy="347.66" r="4.2" fill="url(#gRed)"/><circle cx="79.75" cy="347.86" r="4.2" fill="url(#gRed)"/><circle cx="85.67" cy="348.05" r="4.2" fill="url(#gRed)"/><circle cx="91.59" cy="348.24" r="4.2" fill="url(#gRed)"/><circle cx="97.51" cy="348.42" r="4.2" fill="url(#gRed)"/><circle cx="103.43" cy="348.6" r="4.2" fill="url(#gRed)"/><circle cx="109.36" cy="348.77" r="4.2" fill="url(#gRed)"/><circle cx="115.28" cy="348.93" r="4.2" fill="url(#gRed)"/><circle cx="121.2" cy="349.08" r="4.2" fill="url(#gRed)"/><circle cx="127.12" cy="349.23" r="4.2" fill="url(#gRed)"/><circle cx="133.04" cy="349.37" r="4.2" fill="url(#gRed)"/><circle cx="138.96" cy="349.51" r="4.2" fill="url(#gRed)"/><circle cx="144.88" cy="349.64" r="4.2" fill="url(#gRed)"/><circle cx="150.8" cy="349.78" r="4.2" fill="url(#gRed)"/><circle cx="156.72" cy="349.92" r="4.2" fill="url(#gRed)"/><circle cx="162.65" cy="350.06" r="4.2" fill="url(#gRed)"/><circle cx="168.57" cy="350.2" r="4.2" fill="url(#gRed)"/><circle cx="174.49" cy="350.34" r="4.2" fill="url(#gRed)"/><circle cx="180.41" cy="350.48" r="4.2" fill="url(#gRed)"/><circle cx="186.33" cy="350.62" r="4.2" fill="url(#gRed)"/><circle cx="192.25" cy="350.76" r="4.2" fill="url(#gRed)"/><circle cx="198.17" cy="350.9" r="4.2" fill="url(#gRed)"/><circle cx="204.09" cy="351.04" r="4.2" fill="url(#gRed)"/><circle cx="210.01" cy="351.17" r="4.2" fill="url(#gRed)"/><circle cx="215.94" cy="351.29" r="4.2" fill="url(#gRed)"/><circle cx="221.86" cy="351.39" r="4.2" fill="url(#gRed)"/><circle cx="227.78" cy="351.49" r="4.2" fill="url(#gRed)"/><circle cx="233.7" cy="351.61" r="4.2" fill="url(#gRed)"/><circle cx="239.62" cy="351.75" r="4.2" fill="url(#gRed)"/><circle cx="245.54" cy="351.93" r="4.2" fill="url(#gRed)"/><circle cx="251.46" cy="352.15" r="4.2" fill="url(#gRed)"/><circle cx="257.38" cy="352.53" r="4.2" fill="url(#gRed)"/><circle cx="263.3" cy="353.22" r="4.2" fill="url(#gRed)"/><circle cx="269.22" cy="354.18" r="4.2" fill="url(#gRed)"/><circle cx="275.15" cy="355.36" r="4.2" fill="url(#gRed)"/><circle cx="281.07" cy="356.8" r="4.2" fill="url(#gRed)"/><circle cx="286.99" cy="359.12" r="4.2" fill="url(#gRed)"/><circle cx="292.91" cy="361.78" r="4.2" fill="url(#gRed)"/><circle cx="298.83" cy="365.68" r="4.2" fill="url(#gRed)"/><circle cx="304.75" cy="377.18" r="4.2" fill="url(#gRed)"/><circle cx="310.67" cy="395.46" r="4.2" fill="url(#gRed)"/><circle cx="316.59" cy="423.73" r="4.2" fill="url(#gRed)"/><circle cx="322.51" cy="460.09" r="4.2" fill="url(#gRed)"/><circle cx="328.44" cy="501.74" r="4.2" fill="url(#gRed)"/><circle cx="334.36" cy="550.84" r="4.2" fill="url(#gRed)"/></g>
<line x1="78.6" y1="457.5" x2="103.6" y2="457.5" stroke="#3d4b8e" stroke-width="1.6"/>
<circle cx="91.1" cy="457.5" r="4.3" fill="url(#gNavy)"/>
<text x="107.9" y="462.3" font-family='"Liberation Sans", sans-serif' font-weight="bold" font-size="15" fill="#111">Reference (Reverse)</text>
<line x1="78.6" y1="476.3" x2="103.6" y2="476.3" stroke="#b3bce0" stroke-width="1.6" stroke-dasharray="3,2"/>
<circle cx="91.1" cy="476.3" r="4.3" fill="url(#gRefF)"/>
<text x="107.9" y="481.1" font-family='"Liberation Sans", sans-serif' font-weight="bold" font-size="15" fill="#111">Reference (Forward)</text>
<line x1="78.6" y1="495.1" x2="103.6" y2="495.1" stroke="#cc3a40" stroke-width="1.6"/>
<circle cx="91.1" cy="495.1" r="4.3" fill="url(#gRed)"/>
<text x="107.9" y="499.9" font-family='"Liberation Sans", sans-serif' font-weight="bold" font-size="15" fill="#111">2D-PDI (Reverse)</text>
<line x1="78.6" y1="513.9" x2="103.6" y2="513.9" stroke="#e6a4a8" stroke-width="1.6" stroke-dasharray="3,2"/>
<circle cx="91.1" cy="513.9" r="4.3" fill="url(#g2DF)"/>
<text x="107.9" y="518.7" font-family='"Liberation Sans", sans-serif' font-weight="bold" font-size="15" fill="#111">2D-PDI (Forward)</text>
<g stroke="#1a1a1a" stroke-width="1.1"><line x1="419.2" y1="542.4" x2="419.2" y2="537.9"/><line x1="485.92" y1="542.4" x2="485.92" y2="537.9"/><line x1="552.64" y1="542.4" x2="552.64" y2="537.9"/><line x1="619.36" y1="542.4" x2="619.36" y2="537.9"/><line x1="686.08" y1="542.4" x2="686.08" y2="537.9"/><line x1="452.56" y1="542.4" x2="452.56" y2="539.9"/><line x1="519.28" y1="542.4" x2="519.28" y2="539.9"/><line x1="586" y1="542.4" x2="586" y2="539.9"/><line x1="652.72" y1="542.4" x2="652.72" y2="539.9"/><line x1="419.4" y1="542.4" x2="423.9" y2="542.4"/><line x1="419.4" y1="485.35" x2="423.9" y2="485.35"/><line x1="419.4" y1="428.3" x2="423.9" y2="428.3"/><line x1="419.4" y1="371.25" x2="423.9" y2="371.25"/><line x1="419.4" y1="314.2" x2="423.9" y2="314.2"/><line x1="419.4" y1="513.88" x2="421.9" y2="513.88"/><line x1="419.4" y1="456.82" x2="421.9" y2="456.82"/><line x1="419.4" y1="399.77" x2="421.9" y2="399.77"/><line x1="419.4" y1="342.73" x2="421.9" y2="342.73"/></g>
<rect x="419.4" y="314" width="284.6" height="228.4" fill="none" stroke="#1a1a1a" stroke-width="1.3"/>
<g font-family='"Liberation Sans", sans-serif' font-weight="bold" font-size="14.5" fill="#111"><text x="419.2" y="558.8" text-anchor="middle">0</text><text x="485.92" y="558.8" text-anchor="middle">2</text><text x="552.64" y="558.8" text-anchor="middle">4</text><text x="619.36" y="558.8" text-anchor="middle">6</text><text x="686.08" y="558.8" text-anchor="middle">8</text><text x="414.4" y="546.9" text-anchor="end">0</text><text x="414.4" y="489.85" text-anchor="end">1</text><text x="414.4" y="432.8" text-anchor="end">2</text><text x="414.4" y="375.75" text-anchor="end">3</text><text x="414.4" y="318.7" text-anchor="end">4</text></g>
<text x="560.5" y="577.5" text-anchor="middle" font-family='"Liberation Sans", sans-serif' font-weight="bold" font-size="17.8" fill="#111">Voltage (V)</text>
<text transform="translate(399.8,427.8) rotate(-90)" text-anchor="middle" font-family='"Liberation Sans", sans-serif' font-weight="bold" font-size="17.8" fill="#111">Current density (mA cm<tspan dy="-6.76" font-size="11.04">-2</tspan><tspan dy="6.76">)</tspan></text>
<text x="697" y="333.5" text-anchor="end" font-family='"Liberation Sans", sans-serif' font-weight="bold" font-size="15" fill="#111">21 cm<tspan dy="-5.5" font-size="10">2</tspan></text>
<polyline points="419.2,356.99 420.49,356.99 421.78,356.99 423.07,357 424.36,357 425.65,357.01 426.94,357.02 428.24,357.02 429.53,357.03 430.82,357.04 432.11,357.06 433.4,357.07 434.69,357.08 435.98,357.09 437.27,357.11 438.56,357.13 439.85,357.14 441.14,357.16 442.43,357.18 443.73,357.2 445.02,357.22 446.31,357.24 447.6,357.26 448.89,357.29 450.18,357.31 451.47,357.33 452.76,357.36 454.05,357.38 455.34,357.41 456.63,357.44 457.92,357.47 459.22,357.5 460.51,357.52 461.8,357.55 463.09,357.59 464.38,357.62 465.67,357.65 466.96,357.68 468.25,357.71 469.54,357.75 470.83,357.78 472.12,357.82 473.41,357.85 474.71,357.89 476,357.92 477.29,357.96 478.58,358 479.87,358.03 481.16,358.07 482.45,358.11 483.74,358.15 485.03,358.19 486.32,358.23 487.61,358.27 488.9,358.31 490.19,358.35 491.49,358.39 492.78,358.43 494.07,358.47 495.36,358.52 496.65,358.56 497.94,358.6 499.23,358.64 500.52,358.69 501.81,358.73 503.1,358.77 504.39,358.81 505.68,358.86 506.98,358.9 508.27,358.95 509.56,358.99 510.85,359.03 512.14,359.08 513.43,359.12 514.72,359.16 516.01,359.21 517.3,359.25 518.59,359.3 519.88,359.34 521.17,359.39 522.47,359.44 523.76,359.49 525.05,359.54 526.34,359.59 527.63,359.64 528.92,359.69 530.21,359.75 531.5,359.81 532.79,359.86 534.08,359.92 535.37,359.98 536.66,360.05 537.95,360.11 539.25,360.18 540.54,360.24 541.83,360.31 543.12,360.38 544.41,360.46 545.7,360.53 546.99,360.61 548.28,360.69 549.57,360.77 550.86,360.85 552.15,360.93 553.44,361.02 554.74,361.11 556.03,361.2 557.32,361.29 558.61,361.38 559.9,361.48 561.19,361.58 562.48,361.68 563.77,361.78 565.06,361.89 566.35,362 567.64,362.11 568.93,362.22 570.23,362.34 571.52,362.47 572.81,362.6 574.1,362.74 575.39,362.88 576.68,363.04 577.97,363.19 579.26,363.36 580.55,363.54 581.84,363.72 583.13,363.91 584.42,364.1 585.72,364.31 587.01,364.53 588.3,364.75 589.59,364.98 590.88,365.22 592.17,365.47 593.46,365.74 594.75,366.01 596.04,366.29 597.33,366.58 598.62,366.88 599.91,367.19 601.2,367.53 602.5,367.94 603.79,368.56 605.08,369.25 606.37,369.99 607.66,370.76 608.95,371.56 610.24,372.38 611.53,373.21 612.82,374.08 614.11,375.01 615.4,375.98 616.69,376.99 617.99,378.05 619.28,379.13 620.57,380.25 621.86,381.4 623.15,382.57 624.44,383.75 625.73,384.93 627.02,386.14 628.31,387.38 629.6,388.68 630.89,390.05 632.18,391.51 633.48,393.08 634.77,394.77 636.06,396.6 637.35,398.63 638.64,401.04 639.93,403.71 641.22,406.49 642.51,409.31 643.8,412.27 645.09,415.45 646.38,418.9 647.67,422.7 648.96,426.98 650.26,431.6 651.55,436.44 652.84,441.37 654.13,446.44 655.42,451.7 656.71,457.17 658,462.86 659.29,468.78 660.58,475 661.87,481.47 663.16,488.17 664.45,495.04 665.75,501.56 667.04,507.68 668.33,514.39 669.62,522.7 670.91,534.61 672.2,551.89 673.49,562.83 674.78,572.27 676.07,579.32" fill="none" stroke="#b3bce0" stroke-width="1.3" stroke-dasharray="3,2" clip-path="url(#clip3)"/>
<polyline points="419.2,346.16 420.56,346.2 421.92,346.23 423.27,346.26 424.63,346.29 425.99,346.33 427.35,346.36 428.71,346.4 430.06,346.43 431.42,346.47 432.78,346.5 434.14,346.54 435.49,346.58 436.85,346.62 438.21,346.65 439.57,346.69 440.93,346.73 442.28,346.77 443.64,346.81 445,346.85 446.36,346.89 447.72,346.93 449.07,346.97 450.43,347.02 451.79,347.06 453.15,347.1 454.5,347.15 455.86,347.19 457.22,347.23 458.58,347.28 459.94,347.32 461.29,347.37 462.65,347.41 464.01,347.46 465.37,347.51 466.73,347.55 468.08,347.6 469.44,347.65 470.8,347.7 472.16,347.74 473.51,347.79 474.87,347.84 476.23,347.89 477.59,347.94 478.95,347.99 480.3,348.04 481.66,348.09 483.02,348.14 484.38,348.19 485.74,348.24 487.09,348.3 488.45,348.35 489.81,348.4 491.17,348.45 492.52,348.51 493.88,348.56 495.24,348.61 496.6,348.67 497.96,348.72 499.31,348.77 500.67,348.83 502.03,348.88 503.39,348.94 504.75,348.99 506.1,349.05 507.46,349.11 508.82,349.16 510.18,349.22 511.54,349.27 512.89,349.33 514.25,349.39 515.61,349.44 516.97,349.5 518.32,349.56 519.68,349.62 521.04,349.67 522.4,349.73 523.76,349.79 525.11,349.84 526.47,349.9 527.83,349.95 529.19,350.01 530.55,350.06 531.9,350.12 533.26,350.17 534.62,350.22 535.98,350.28 537.33,350.33 538.69,350.39 540.05,350.44 541.41,350.5 542.77,350.56 544.12,350.61 545.48,350.67 546.84,350.73 548.2,350.78 549.56,350.84 550.91,350.9 552.27,350.96 553.63,351.02 554.99,351.08 556.34,351.15 557.7,351.21 559.06,351.27 560.42,351.34 561.78,351.41 563.13,351.47 564.49,351.54 565.85,351.61 567.21,351.68 568.57,351.76 569.92,351.83 571.28,351.91 572.64,351.98 574,352.06 575.35,352.14 576.71,352.22 578.07,352.31 579.43,352.39 580.79,352.48 582.14,352.57 583.5,352.66 584.86,352.76 586.22,352.85 587.58,352.95 588.93,353.05 590.29,353.15 591.65,353.26 593.01,353.36 594.37,353.47 595.72,353.58 597.08,353.7 598.44,353.81 599.8,353.93 601.15,354.06 602.51,354.18 603.87,354.39 605.23,354.62 606.59,354.88 607.94,355.15 609.3,355.44 610.66,355.74 612.02,356.05 613.38,356.37 614.73,356.7 616.09,357.03 617.45,357.37 618.81,357.71 620.16,358.04 621.52,358.37 622.88,358.71 624.24,359.05 625.6,359.42 626.95,359.8 628.31,360.22 629.67,360.68 631.03,361.18 632.39,361.75 633.74,362.46 635.1,363.29 636.46,364.23 637.82,365.31 639.17,366.66 640.53,368.25 641.89,370.01 643.25,371.98 644.61,374.32 645.96,376.92 647.32,379.6 648.68,382.25 650.04,384.93 651.4,387.74 652.75,390.81 654.11,394.29 655.47,398.35 656.83,402.74 658.19,407.19 659.54,411.41 660.9,415.44 662.26,419.49 663.62,423.75 664.97,428.43 666.33,433.79 667.69,439.9 669.05,446.54 670.41,453.43 671.76,460.48 673.12,467.88 674.48,475.57 675.84,483.46 677.2,491.44 678.55,499.17 679.91,507.04 681.27,515.62 682.63,525.49 683.98,539.18 685.34,550.82 686.7,560.51 688.06,569.35 689.42,576.9" fill="none" stroke="#e6a4a8" stroke-width="1.3" stroke-dasharray="3,2" clip-path="url(#clip3)"/>
<polyline points="419.2,354.71 420.51,354.71 421.82,354.71 423.12,354.71 424.43,354.71 425.74,354.72 427.05,354.73 428.35,354.73 429.66,354.74 430.97,354.75 432.28,354.76 433.58,354.77 434.89,354.79 436.2,354.8 437.51,354.81 438.81,354.83 440.12,354.84 441.43,354.86 442.74,354.88 444.04,354.9 445.35,354.92 446.66,354.94 447.97,354.96 449.27,354.98 450.58,355.01 451.89,355.03 453.2,355.06 454.5,355.08 455.81,355.11 457.12,355.13 458.43,355.16 459.73,355.19 461.04,355.22 462.35,355.25 463.66,355.28 464.97,355.31 466.27,355.34 467.58,355.38 468.89,355.41 470.2,355.44 471.5,355.48 472.81,355.51 474.12,355.55 475.43,355.58 476.73,355.62 478.04,355.66 479.35,355.69 480.66,355.73 481.96,355.77 483.27,355.81 484.58,355.85 485.89,355.89 487.19,355.93 488.5,355.97 489.81,356.01 491.12,356.05 492.42,356.09 493.73,356.13 495.04,356.17 496.35,356.22 497.65,356.26 498.96,356.3 500.27,356.35 501.58,356.39 502.88,356.43 504.19,356.48 505.5,356.52 506.81,356.56 508.12,356.61 509.42,356.65 510.73,356.7 512.04,356.74 513.35,356.78 514.65,356.83 515.96,356.87 517.27,356.92 518.58,356.96 519.88,357.01 521.19,357.05 522.5,357.1 523.81,357.15 525.11,357.2 526.42,357.25 527.73,357.3 529.04,357.35 530.34,357.41 531.65,357.46 532.96,357.52 534.27,357.58 535.57,357.64 536.88,357.7 538.19,357.77 539.5,357.83 540.8,357.9 542.11,357.97 543.42,358.04 544.73,358.11 546.04,358.18 547.34,358.26 548.65,358.34 549.96,358.41 551.27,358.5 552.57,358.58 553.88,358.66 555.19,358.75 556.5,358.84 557.8,358.93 559.11,359.03 560.42,359.12 561.73,359.22 563.03,359.32 564.34,359.43 565.65,359.53 566.96,359.64 568.26,359.75 569.57,359.86 570.88,359.98 572.19,360.1 573.49,360.23 574.8,360.37 576.11,360.51 577.42,360.66 578.72,360.82 580.03,360.98 581.34,361.16 582.65,361.34 583.95,361.52 585.26,361.72 586.57,361.92 587.88,362.14 589.19,362.36 590.49,362.59 591.8,362.83 593.11,363.08 594.42,363.34 595.72,363.61 597.03,363.89 598.34,364.18 599.65,364.48 600.95,364.8 602.26,365.13 603.57,365.52 604.88,365.97 606.18,366.48 607.49,367.03 608.8,367.62 610.11,368.25 611.41,368.89 612.72,369.56 614.03,370.25 615.34,371 616.64,371.79 617.95,372.63 619.26,373.51 620.57,374.43 621.87,375.38 623.18,376.36 624.49,377.36 625.8,378.38 627.1,379.4 628.41,380.44 629.72,381.52 631.03,382.65 632.34,383.85 633.64,385.15 634.95,386.56 636.26,388.09 637.57,389.76 638.87,391.82 640.18,394.28 641.49,396.99 642.8,399.81 644.1,402.67 645.41,405.68 646.72,408.93 648.03,412.45 649.33,416.36 650.64,420.74 651.95,425.46 653.26,430.39 654.56,435.4 655.87,440.56 657.18,445.94 658.49,451.52 659.79,457.33 661.1,463.4 662.41,469.77 663.72,476.39 665.02,483.22 666.33,490.19 667.64,496.57 668.95,502.85 670.25,510.06 671.56,519.26 672.87,535.22 674.18,549.2 675.49,559.82 676.79,568.54 678.1,574.46 679.41,576.63" fill="none" stroke="#3d4b8e" stroke-width="1.5" clip-path="url(#clip3)"/>
<polyline points="419.2,343.87 420.57,343.9 421.95,343.93 423.32,343.96 424.7,344 426.07,344.03 427.45,344.07 428.82,344.1 430.2,344.14 431.57,344.17 432.95,344.21 434.32,344.25 435.7,344.28 437.07,344.32 438.44,344.36 439.82,344.4 441.19,344.44 442.57,344.48 443.94,344.52 445.32,344.56 446.69,344.6 448.07,344.64 449.44,344.68 450.82,344.73 452.19,344.77 453.57,344.81 454.94,344.86 456.32,344.9 457.69,344.94 459.06,344.99 460.44,345.04 461.81,345.08 463.19,345.13 464.56,345.17 465.94,345.22 467.31,345.27 468.69,345.32 470.06,345.36 471.44,345.41 472.81,345.46 474.19,345.51 475.56,345.56 476.93,345.61 478.31,345.66 479.68,345.71 481.06,345.76 482.43,345.81 483.81,345.86 485.18,345.92 486.56,345.97 487.93,346.02 489.31,346.07 490.68,346.13 492.06,346.18 493.43,346.23 494.8,346.29 496.18,346.34 497.55,346.4 498.93,346.45 500.3,346.51 501.68,346.56 503.05,346.62 504.43,346.67 505.8,346.73 507.18,346.78 508.55,346.84 509.93,346.9 511.3,346.95 512.68,347.01 514.05,347.07 515.42,347.13 516.8,347.18 518.17,347.24 519.55,347.3 520.92,347.36 522.3,347.42 523.67,347.47 525.05,347.53 526.42,347.59 527.8,347.64 529.17,347.7 530.55,347.75 531.92,347.81 533.29,347.86 534.67,347.92 536.04,347.97 537.42,348.03 538.79,348.08 540.17,348.14 541.54,348.2 542.92,348.25 544.29,348.31 545.67,348.37 547.04,348.42 548.42,348.48 549.79,348.54 551.16,348.6 552.54,348.66 553.91,348.72 555.29,348.79 556.66,348.85 558.04,348.91 559.41,348.98 560.79,349.04 562.16,349.11 563.54,349.18 564.91,349.25 566.29,349.32 567.66,349.39 569.04,349.46 570.41,349.54 571.78,349.61 573.16,349.69 574.53,349.77 575.91,349.85 577.28,349.94 578.66,350.02 580.03,350.11 581.41,350.2 582.78,350.29 584.16,350.38 585.53,350.47 586.91,350.57 588.28,350.67 589.65,350.77 591.03,350.87 592.4,350.98 593.78,351.09 595.15,351.2 596.53,351.31 597.9,351.43 599.28,351.55 600.65,351.67 602.03,351.79 603.4,351.92 604.78,352.07 606.15,352.25 607.52,352.44 608.9,352.64 610.27,352.87 611.65,353.1 613.02,353.35 614.4,353.61 615.77,353.87 617.15,354.14 618.52,354.41 619.9,354.68 621.27,354.95 622.65,355.21 624.02,355.48 625.39,355.77 626.77,356.07 628.14,356.41 629.52,356.77 630.89,357.18 632.27,357.64 633.64,358.21 635.02,358.91 636.39,359.74 637.77,360.71 639.14,361.94 640.52,363.43 641.89,365.14 643.27,367 644.64,369.19 646.01,371.73 647.39,374.42 648.76,377.13 650.14,379.81 651.51,382.58 652.89,385.57 654.26,388.9 655.64,392.8 657.01,397.17 658.39,401.68 659.76,406.05 661.14,410.18 662.51,414.24 663.88,418.47 665.26,423.07 666.63,428.27 668.01,434.28 669.38,440.89 670.76,447.83 672.13,454.91 673.51,462.33 674.88,470.05 676.26,478.01 677.63,486.1 679.01,493.96 680.38,501.87 681.75,510.42 683.13,520.22 684.5,533.57 685.88,545.86 687.25,555.73 688.63,564.76 690,572.51 691.38,578.51 692.75,582.33" fill="none" stroke="#cc3a40" stroke-width="1.5" clip-path="url(#clip3)"/>
<g clip-path="url(#clip3)"><circle cx="423.6" cy="357" r="4" fill="url(#gRefF)"/><circle cx="429.51" cy="357.03" r="4" fill="url(#gRefF)"/><circle cx="435.41" cy="357.09" r="4" fill="url(#gRefF)"/><circle cx="441.32" cy="357.16" r="4" fill="url(#gRefF)"/><circle cx="447.22" cy="357.26" r="4" fill="url(#gRefF)"/><circle cx="453.13" cy="357.37" r="4" fill="url(#gRefF)"/><circle cx="459.03" cy="357.49" r="4" fill="url(#gRefF)"/><circle cx="464.94" cy="357.63" r="4" fill="url(#gRefF)"/><circle cx="470.84" cy="357.78" r="4" fill="url(#gRefF)"/><circle cx="476.75" cy="357.94" r="4" fill="url(#gRefF)"/><circle cx="482.65" cy="358.12" r="4" fill="url(#gRefF)"/><circle cx="488.56" cy="358.3" r="4" fill="url(#gRefF)"/><circle cx="494.46" cy="358.49" r="4" fill="url(#gRefF)"/><circle cx="500.36" cy="358.68" r="4" fill="url(#gRefF)"/><circle cx="506.27" cy="358.88" r="4" fill="url(#gRefF)"/><circle cx="512.17" cy="359.08" r="4" fill="url(#gRefF)"/><circle cx="518.08" cy="359.28" r="4" fill="url(#gRefF)"/><circle cx="523.98" cy="359.49" r="4" fill="url(#gRefF)"/><circle cx="529.89" cy="359.73" r="4" fill="url(#gRefF)"/><circle cx="535.79" cy="360" r="4" fill="url(#gRefF)"/><circle cx="541.7" cy="360.31" r="4" fill="url(#gRefF)"/><circle cx="547.6" cy="360.64" r="4" fill="url(#gRefF)"/><circle cx="553.51" cy="361.02" r="4" fill="url(#gRefF)"/><circle cx="559.41" cy="361.44" r="4" fill="url(#gRefF)"/><circle cx="565.32" cy="361.91" r="4" fill="url(#gRefF)"/><circle cx="571.22" cy="362.44" r="4" fill="url(#gRefF)"/><circle cx="577.13" cy="363.09" r="4" fill="url(#gRefF)"/><circle cx="583.03" cy="363.89" r="4" fill="url(#gRefF)"/><circle cx="588.94" cy="364.86" r="4" fill="url(#gRefF)"/><circle cx="594.84" cy="366.03" r="4" fill="url(#gRefF)"/><circle cx="600.75" cy="367.4" r="4" fill="url(#gRefF)"/><circle cx="606.65" cy="370.15" r="4" fill="url(#gRefF)"/><circle cx="612.55" cy="373.9" r="4" fill="url(#gRefF)"/><circle cx="618.46" cy="378.44" r="4" fill="url(#gRefF)"/><circle cx="624.36" cy="383.68" r="4" fill="url(#gRefF)"/><circle cx="630.27" cy="389.38" r="4" fill="url(#gRefF)"/><circle cx="636.17" cy="396.76" r="4" fill="url(#gRefF)"/><circle cx="642.08" cy="408.35" r="4" fill="url(#gRefF)"/><circle cx="647.98" cy="423.69" r="4" fill="url(#gRefF)"/><circle cx="653.89" cy="445.48" r="4" fill="url(#gRefF)"/><circle cx="659.79" cy="471.16" r="4" fill="url(#gRefF)"/><circle cx="665.7" cy="501.33" r="4" fill="url(#gRefF)"/><circle cx="671.6" cy="545.68" r="4" fill="url(#gRefF)"/><circle cx="677.51" cy="583.26" r="4" fill="url(#gRefF)"/><circle cx="683.41" cy="530.75" r="4" fill="url(#gRefF)"/></g>
<g clip-path="url(#clip3)"><circle cx="424.44" cy="346.29" r="4" fill="url(#g2DF)"/><circle cx="430.34" cy="346.44" r="4" fill="url(#g2DF)"/><circle cx="436.25" cy="346.6" r="4" fill="url(#g2DF)"/><circle cx="442.15" cy="346.77" r="4" fill="url(#g2DF)"/><circle cx="448.06" cy="346.94" r="4" fill="url(#g2DF)"/><circle cx="453.96" cy="347.13" r="4" fill="url(#g2DF)"/><circle cx="459.87" cy="347.32" r="4" fill="url(#g2DF)"/><circle cx="465.77" cy="347.52" r="4" fill="url(#g2DF)"/><circle cx="471.68" cy="347.73" r="4" fill="url(#g2DF)"/><circle cx="477.58" cy="347.94" r="4" fill="url(#g2DF)"/><circle cx="483.48" cy="348.16" r="4" fill="url(#g2DF)"/><circle cx="489.39" cy="348.38" r="4" fill="url(#g2DF)"/><circle cx="495.29" cy="348.61" r="4" fill="url(#g2DF)"/><circle cx="501.2" cy="348.85" r="4" fill="url(#g2DF)"/><circle cx="507.1" cy="349.09" r="4" fill="url(#g2DF)"/><circle cx="513.01" cy="349.34" r="4" fill="url(#g2DF)"/><circle cx="518.91" cy="349.58" r="4" fill="url(#g2DF)"/><circle cx="524.82" cy="349.83" r="4" fill="url(#g2DF)"/><circle cx="530.72" cy="350.07" r="4" fill="url(#g2DF)"/><circle cx="536.63" cy="350.31" r="4" fill="url(#g2DF)"/><circle cx="542.53" cy="350.55" r="4" fill="url(#g2DF)"/><circle cx="548.44" cy="350.79" r="4" fill="url(#g2DF)"/><circle cx="554.34" cy="351.05" r="4" fill="url(#g2DF)"/><circle cx="560.25" cy="351.33" r="4" fill="url(#g2DF)"/><circle cx="566.15" cy="351.63" r="4" fill="url(#g2DF)"/><circle cx="572.06" cy="351.95" r="4" fill="url(#g2DF)"/><circle cx="577.96" cy="352.3" r="4" fill="url(#g2DF)"/><circle cx="583.86" cy="352.69" r="4" fill="url(#g2DF)"/><circle cx="589.77" cy="353.11" r="4" fill="url(#g2DF)"/><circle cx="595.67" cy="353.58" r="4" fill="url(#g2DF)"/><circle cx="601.58" cy="354.1" r="4" fill="url(#g2DF)"/><circle cx="607.48" cy="355.06" r="4" fill="url(#g2DF)"/><circle cx="613.39" cy="356.38" r="4" fill="url(#g2DF)"/><circle cx="619.29" cy="357.83" r="4" fill="url(#g2DF)"/><circle cx="625.2" cy="359.31" r="4" fill="url(#g2DF)"/><circle cx="631.1" cy="361.21" r="4" fill="url(#g2DF)"/><circle cx="637.01" cy="364.63" r="4" fill="url(#g2DF)"/><circle cx="642.91" cy="371.45" r="4" fill="url(#g2DF)"/><circle cx="648.82" cy="382.52" r="4" fill="url(#g2DF)"/><circle cx="654.72" cy="396.05" r="4" fill="url(#g2DF)"/><circle cx="660.63" cy="414.64" r="4" fill="url(#g2DF)"/><circle cx="666.53" cy="434.64" r="4" fill="url(#g2DF)"/><circle cx="672.44" cy="464.11" r="4" fill="url(#g2DF)"/><circle cx="678.34" cy="497.97" r="4" fill="url(#g2DF)"/><circle cx="684.25" cy="541.92" r="4" fill="url(#g2DF)"/><circle cx="690.15" cy="580.3" r="4" fill="url(#g2DF)"/><circle cx="696.05" cy="581.03" r="4" fill="url(#g2DF)"/></g>
<g clip-path="url(#clip3)"><circle cx="419.2" cy="354.71" r="4.1" fill="url(#gNavy)"/><circle cx="425.1" cy="354.72" r="4.1" fill="url(#gNavy)"/><circle cx="431.01" cy="354.75" r="4.1" fill="url(#gNavy)"/><circle cx="436.91" cy="354.81" r="4.1" fill="url(#gNavy)"/><circle cx="442.82" cy="354.88" r="4.1" fill="url(#gNavy)"/><circle cx="448.72" cy="354.97" r="4.1" fill="url(#gNavy)"/><circle cx="454.63" cy="355.08" r="4.1" fill="url(#gNavy)"/><circle cx="460.53" cy="355.21" r="4.1" fill="url(#gNavy)"/><circle cx="466.44" cy="355.35" r="4.1" fill="url(#gNavy)"/><circle cx="472.34" cy="355.5" r="4.1" fill="url(#gNavy)"/><circle cx="478.25" cy="355.66" r="4.1" fill="url(#gNavy)"/><circle cx="484.15" cy="355.84" r="4.1" fill="url(#gNavy)"/><circle cx="490.06" cy="356.02" r="4.1" fill="url(#gNavy)"/><circle cx="495.96" cy="356.2" r="4.1" fill="url(#gNavy)"/><circle cx="501.87" cy="356.4" r="4.1" fill="url(#gNavy)"/><circle cx="507.77" cy="356.6" r="4.1" fill="url(#gNavy)"/><circle cx="513.68" cy="356.8" r="4.1" fill="url(#gNavy)"/><circle cx="519.58" cy="357" r="4.1" fill="url(#gNavy)"/><circle cx="525.48" cy="357.21" r="4.1" fill="url(#gNavy)"/><circle cx="531.39" cy="357.45" r="4.1" fill="url(#gNavy)"/><circle cx="537.29" cy="357.72" r="4.1" fill="url(#gNavy)"/><circle cx="543.2" cy="358.02" r="4.1" fill="url(#gNavy)"/><circle cx="549.1" cy="358.36" r="4.1" fill="url(#gNavy)"/><circle cx="555.01" cy="358.74" r="4.1" fill="url(#gNavy)"/><circle cx="560.91" cy="359.16" r="4.1" fill="url(#gNavy)"/><circle cx="566.82" cy="359.63" r="4.1" fill="url(#gNavy)"/><circle cx="572.72" cy="360.16" r="4.1" fill="url(#gNavy)"/><circle cx="578.63" cy="360.81" r="4.1" fill="url(#gNavy)"/><circle cx="584.53" cy="361.61" r="4.1" fill="url(#gNavy)"/><circle cx="590.44" cy="362.58" r="4.1" fill="url(#gNavy)"/><circle cx="596.34" cy="363.74" r="4.1" fill="url(#gNavy)"/><circle cx="602.25" cy="365.12" r="4.1" fill="url(#gNavy)"/><circle cx="608.15" cy="367.33" r="4.1" fill="url(#gNavy)"/><circle cx="614.06" cy="370.26" r="4.1" fill="url(#gNavy)"/><circle cx="619.96" cy="374" r="4.1" fill="url(#gNavy)"/><circle cx="625.87" cy="378.43" r="4.1" fill="url(#gNavy)"/><circle cx="631.77" cy="383.32" r="4.1" fill="url(#gNavy)"/><circle cx="637.67" cy="389.92" r="4.1" fill="url(#gNavy)"/><circle cx="643.58" cy="401.51" r="4.1" fill="url(#gNavy)"/><circle cx="649.48" cy="416.84" r="4.1" fill="url(#gNavy)"/><circle cx="655.39" cy="438.63" r="4.1" fill="url(#gNavy)"/><circle cx="661.29" cy="464.32" r="4.1" fill="url(#gNavy)"/><circle cx="667.2" cy="494.48" r="4.1" fill="url(#gNavy)"/><circle cx="673.1" cy="538.83" r="4.1" fill="url(#gNavy)"/><circle cx="679.01" cy="576.42" r="4.1" fill="url(#gNavy)"/><circle cx="684.91" cy="523.91" r="4.1" fill="url(#gNavy)"/></g>
<g clip-path="url(#clip3)"><circle cx="419.2" cy="343.87" r="4.2" fill="url(#gRed)"/><circle cx="425.1" cy="344.01" r="4.2" fill="url(#gRed)"/><circle cx="431.01" cy="344.16" r="4.2" fill="url(#gRed)"/><circle cx="436.91" cy="344.32" r="4.2" fill="url(#gRed)"/><circle cx="442.82" cy="344.48" r="4.2" fill="url(#gRed)"/><circle cx="448.72" cy="344.66" r="4.2" fill="url(#gRed)"/><circle cx="454.63" cy="344.85" r="4.2" fill="url(#gRed)"/><circle cx="460.53" cy="345.04" r="4.2" fill="url(#gRed)"/><circle cx="466.44" cy="345.24" r="4.2" fill="url(#gRed)"/><circle cx="472.34" cy="345.44" r="4.2" fill="url(#gRed)"/><circle cx="478.25" cy="345.66" r="4.2" fill="url(#gRed)"/><circle cx="484.15" cy="345.88" r="4.2" fill="url(#gRed)"/><circle cx="490.06" cy="346.1" r="4.2" fill="url(#gRed)"/><circle cx="495.96" cy="346.33" r="4.2" fill="url(#gRed)"/><circle cx="501.87" cy="346.57" r="4.2" fill="url(#gRed)"/><circle cx="507.77" cy="346.81" r="4.2" fill="url(#gRed)"/><circle cx="513.68" cy="347.05" r="4.2" fill="url(#gRed)"/><circle cx="519.58" cy="347.3" r="4.2" fill="url(#gRed)"/><circle cx="525.48" cy="347.55" r="4.2" fill="url(#gRed)"/><circle cx="531.39" cy="347.79" r="4.2" fill="url(#gRed)"/><circle cx="537.29" cy="348.02" r="4.2" fill="url(#gRed)"/><circle cx="543.2" cy="348.26" r="4.2" fill="url(#gRed)"/><circle cx="549.1" cy="348.51" r="4.2" fill="url(#gRed)"/><circle cx="555.01" cy="348.77" r="4.2" fill="url(#gRed)"/><circle cx="560.91" cy="349.05" r="4.2" fill="url(#gRed)"/><circle cx="566.82" cy="349.35" r="4.2" fill="url(#gRed)"/><circle cx="572.72" cy="349.67" r="4.2" fill="url(#gRed)"/><circle cx="578.63" cy="350.02" r="4.2" fill="url(#gRed)"/><circle cx="584.53" cy="350.41" r="4.2" fill="url(#gRed)"/><circle cx="590.44" cy="350.83" r="4.2" fill="url(#gRed)"/><circle cx="596.34" cy="351.3" r="4.2" fill="url(#gRed)"/><circle cx="602.25" cy="351.81" r="4.2" fill="url(#gRed)"/><circle cx="608.15" cy="352.53" r="4.2" fill="url(#gRed)"/><circle cx="614.06" cy="353.54" r="4.2" fill="url(#gRed)"/><circle cx="619.96" cy="354.69" r="4.2" fill="url(#gRed)"/><circle cx="625.87" cy="355.87" r="4.2" fill="url(#gRed)"/><circle cx="631.77" cy="357.47" r="4.2" fill="url(#gRed)"/><circle cx="637.67" cy="360.63" r="4.2" fill="url(#gRed)"/><circle cx="643.58" cy="367.46" r="4.2" fill="url(#gRed)"/><circle cx="649.48" cy="378.53" r="4.2" fill="url(#gRed)"/><circle cx="655.39" cy="392.06" r="4.2" fill="url(#gRed)"/><circle cx="661.29" cy="410.64" r="4.2" fill="url(#gRed)"/><circle cx="667.2" cy="430.65" r="4.2" fill="url(#gRed)"/><circle cx="673.1" cy="460.11" r="4.2" fill="url(#gRed)"/><circle cx="679.01" cy="493.97" r="4.2" fill="url(#gRed)"/><circle cx="684.91" cy="537.93" r="4.2" fill="url(#gRed)"/><circle cx="690.82" cy="576.3" r="4.2" fill="url(#gRed)"/><circle cx="696.72" cy="577.03" r="4.2" fill="url(#gRed)"/></g>
<line x1="439.9" y1="465.7" x2="464.9" y2="465.7" stroke="#3d4b8e" stroke-width="1.6"/>
<circle cx="452.4" cy="465.7" r="4.3" fill="url(#gNavy)"/>
<text x="469.1" y="470.5" font-family='"Liberation Sans", sans-serif' font-weight="bold" font-size="15" fill="#111">Reference (Reverse)</text>
<line x1="439.9" y1="484.8" x2="464.9" y2="484.8" stroke="#b3bce0" stroke-width="1.6" stroke-dasharray="3,2"/>
<circle cx="452.4" cy="484.8" r="4.3" fill="url(#gRefF)"/>
<text x="469.1" y="489.6" font-family='"Liberation Sans", sans-serif' font-weight="bold" font-size="15" fill="#111">Reference (Forward)</text>
<line x1="439.9" y1="503.9" x2="464.9" y2="503.9" stroke="#cc3a40" stroke-width="1.6"/>
<circle cx="452.4" cy="503.9" r="4.3" fill="url(#gRed)"/>
<text x="469.1" y="508.7" font-family='"Liberation Sans", sans-serif' font-weight="bold" font-size="15" fill="#111">2D-PDI (Reverse)</text>
<line x1="439.9" y1="523" x2="464.9" y2="523" stroke="#e6a4a8" stroke-width="1.6" stroke-dasharray="3,2"/>
<circle cx="452.4" cy="523" r="4.3" fill="url(#g2DF)"/>
<text x="469.1" y="527.8" font-family='"Liberation Sans", sans-serif' font-weight="bold" font-size="15" fill="#111">2D-PDI (Forward)</text>
<g>
<rect x="86.4" y="369.5" width="68.2" height="72.6" fill="#eef0ef"/>
<linearGradient id="rulerg" x1="0" y1="0" x2="0" y2="1"><stop offset="0" stop-color="#7e8f80"/><stop offset="0.22" stop-color="#a9b5a0"/><stop offset="0.3" stop-color="#dfe2c6"/><stop offset="0.7" stop-color="#dcdfc0"/><stop offset="0.78" stop-color="#a3ae98"/><stop offset="1" stop-color="#7f8c7c"/></linearGradient>
<rect x="86.4" y="369.5" width="68.2" height="16.8" fill="url(#rulerg)"/>
<rect x="86.4" y="369.5" width="8" height="16.8" fill="#9fb8b0" opacity="0.6"/>
<text x="89.6" y="380" text-anchor="middle" font-family='"Liberation Sans", sans-serif' font-size="5" fill="#4d5a44">60</text>
<text x="97.5" y="380" text-anchor="middle" font-family='"Liberation Sans", sans-serif' font-size="5" fill="#4d5a44">60</text>
<text x="106" y="380" text-anchor="middle" font-family='"Liberation Sans", sans-serif' font-size="5" fill="#4d5a44">70</text>
<text x="114" y="380" text-anchor="middle" font-family='"Liberation Sans", sans-serif' font-size="5" fill="#4d5a44">80</text>
<text x="122.5" y="380" text-anchor="middle" font-family='"Liberation Sans", sans-serif' font-size="5" fill="#4d5a44">90</text>
<text x="131.5" y="380" text-anchor="middle" font-family='"Liberation Sans", sans-serif' font-size="5" fill="#c0542a">100</text>
<text x="140.5" y="380" text-anchor="middle" font-family='"Liberation Sans", sans-serif' font-size="5" fill="#4d5a44">110</text>
<text x="149.5" y="380" text-anchor="middle" font-family='"Liberation Sans", sans-serif' font-size="5" fill="#4d5a44">120</text>
<g stroke="#6a7868" stroke-width="0.5"><line x1="87.0" y1="382.5" x2="87.0" y2="386.0"/><line x1="88.4" y1="382.5" x2="88.4" y2="384.5"/><line x1="89.8" y1="382.5" x2="89.8" y2="384.5"/><line x1="91.2" y1="382.5" x2="91.2" y2="384.5"/><line x1="92.6" y1="382.5" x2="92.6" y2="384.5"/><line x1="94.0" y1="382.5" x2="94.0" y2="386.0"/><line x1="95.4" y1="382.5" x2="95.4" y2="384.5"/><line x1="96.8" y1="382.5" x2="96.8" y2="384.5"/><line x1="98.2" y1="382.5" x2="98.2" y2="384.5"/><line x1="99.6" y1="382.5" x2="99.6" y2="384.5"/><line x1="101.0" y1="382.5" x2="101.0" y2="386.0"/><line x1="102.4" y1="382.5" x2="102.4" y2="384.5"/><line x1="103.8" y1="382.5" x2="103.8" y2="384.5"/><line x1="105.2" y1="382.5" x2="105.2" y2="384.5"/><line x1="106.6" y1="382.5" x2="106.6" y2="384.5"/><line x1="108.0" y1="382.5" x2="108.0" y2="386.0"/><line x1="109.4" y1="382.5" x2="109.4" y2="384.5"/><line x1="110.8" y1="382.5" x2="110.8" y2="384.5"/><line x1="112.2" y1="382.5" x2="112.2" y2="384.5"/><line x1="113.6" y1="382.5" x2="113.6" y2="384.5"/><line x1="115.0" y1="382.5" x2="115.0" y2="386.0"/><line x1="116.4" y1="382.5" x2="116.4" y2="384.5"/><line x1="117.8" y1="382.5" x2="117.8" y2="384.5"/><line x1="119.2" y1="382.5" x2="119.2" y2="384.5"/><line x1="120.6" y1="382.5" x2="120.6" y2="384.5"/><line x1="122.0" y1="382.5" x2="122.0" y2="386.0"/><line x1="123.4" y1="382.5" x2="123.4" y2="384.5"/><line x1="124.8" y1="382.5" x2="124.8" y2="384.5"/><line x1="126.2" y1="382.5" x2="126.2" y2="384.5"/><line x1="127.6" y1="382.5" x2="127.6" y2="384.5"/><line x1="129.0" y1="382.5" x2="129.0" y2="386.0"/><line x1="130.4" y1="382.5" x2="130.4" y2="384.5"/><line x1="131.8" y1="382.5" x2="131.8" y2="384.5"/><line x1="133.2" y1="382.5" x2="133.2" y2="384.5"/><line x1="134.6" y1="382.5" x2="134.6" y2="384.5"/><line x1="136.0" y1="382.5" x2="136.0" y2="386.0"/><line x1="137.4" y1="382.5" x2="137.4" y2="384.5"/><line x1="138.8" y1="382.5" x2="138.8" y2="384.5"/><line x1="140.2" y1="382.5" x2="140.2" y2="384.5"/><line x1="141.6" y1="382.5" x2="141.6" y2="384.5"/><line x1="143.0" y1="382.5" x2="143.0" y2="386.0"/><line x1="144.4" y1="382.5" x2="144.4" y2="384.5"/><line x1="145.8" y1="382.5" x2="145.8" y2="384.5"/><line x1="147.2" y1="382.5" x2="147.2" y2="384.5"/><line x1="148.6" y1="382.5" x2="148.6" y2="384.5"/><line x1="150.0" y1="382.5" x2="150.0" y2="386.0"/><line x1="151.4" y1="382.5" x2="151.4" y2="384.5"/><line x1="152.8" y1="382.5" x2="152.8" y2="384.5"/></g>
<rect x="96.6" y="395" width="4.6" height="47" fill="#d4ac5c"/>
<rect x="138.4" y="395" width="4.6" height="47" fill="#d4ac5c"/>
<rect x="97.8" y="396" width="2.2" height="46" fill="#f3e2b0"/>
<rect x="139.6" y="396" width="2.2" height="46" fill="#f3e2b0"/>
<rect x="101.4" y="394.8" width="37.2" height="47.2" fill="#2b1c36"/>
<g stroke="#6b5a8a" stroke-width="0.45"><line x1="104.5" y1="395" x2="104.5" y2="442"/><line x1="109.2" y1="395" x2="109.2" y2="442"/><line x1="113.9" y1="395" x2="113.9" y2="442"/><line x1="118.6" y1="395" x2="118.6" y2="442"/><line x1="123.3" y1="395" x2="123.3" y2="442"/><line x1="128.0" y1="395" x2="128.0" y2="442"/><line x1="132.7" y1="395" x2="132.7" y2="442"/><line x1="137.4" y1="395" x2="137.4" y2="442"/></g>
</g>
<g>
<linearGradient id="bg2" x1="0" y1="0" x2="0" y2="1"><stop offset="0" stop-color="#cfd0d2"/><stop offset="1" stop-color="#c2c3c6"/></linearGradient>
<rect x="456" y="373.2" width="72" height="75.7" fill="url(#bg2)"/>
<clipPath id="clipin2"><rect x="456" y="373.2" width="72" height="75.7"/></clipPath>
<g clip-path="url(#clipin2)">
<path d="M481,384 C481,379 486,377.5 492,379.5 C502,382.5 514,385 522,389 C526,391 528,392 528,393 L528,404 L512,400 C503,398.5 493,399 487,398 C482,396 480.5,390 481,384 Z" fill="#1e6fe2"/>
<path d="M484,382 C488,379.5 494,380.5 500,382.5" fill="none" stroke="#69a6f4" stroke-width="1.8"/>
<path d="M462,404.5 C478,401 500,397.5 521,395.5 L521,436 C503,440 484,444 467,448 C458,434 457,418 462,404.5 Z" fill="#121814"/>
<g stroke="#34423d" stroke-width="0.55" fill="none"><path d="M463,413 C482,409.5 500,407 520,405"/><path d="M462,421 C482,418 501,415.5 520,413.5"/><path d="M462,429 C482,426 501,424 520,422"/><path d="M463,437 C482,434 501,432 520,430"/></g>
<path d="M518.5,393 C523,393 528,395 528,398 L528,449 L517,449 C519,435 520,415 518.5,393 Z" fill="#1b69da"/>
<path d="M490,449 C491,442 496,436.5 503,435.5 C511,434.5 520,436 528,437 L528,449 Z" fill="#2074e6"/>
</g></g>
<line x1="76.3" y1="125.2" x2="171.7" y2="125.2" stroke="#9fb5cf" stroke-width="3.4"/><line x1="76.3" y1="125.2" x2="171.7" y2="125.2" stroke="#dbe7f4" stroke-width="1.6"/><ellipse cx="83.5" cy="125.2" rx="1.8" ry="3.0" transform="rotate(0 83.5 125.2)" fill="#e3eef9" stroke="#839fbd" stroke-width="1.1"/><ellipse cx="87.3" cy="125.2" rx="1.8" ry="3.0" transform="rotate(0 87.3 125.2)" fill="#e3eef9" stroke="#839fbd" stroke-width="1.1"/><ellipse cx="94.8" cy="125.2" rx="2.1" ry="3.4" transform="rotate(0 94.8 125.2)" fill="#e3eef9" stroke="#839fbd" stroke-width="1.1"/><ellipse cx="98.3" cy="125.2" rx="2.1" ry="3.4" transform="rotate(0 98.3 125.2)" fill="#e3eef9" stroke="#839fbd" stroke-width="1.1"/><ellipse cx="101.8" cy="125.2" rx="2.1" ry="3.4" transform="rotate(0 101.8 125.2)" fill="#e3eef9" stroke="#839fbd" stroke-width="1.1"/><ellipse cx="107.3" cy="125.2" rx="1.8" ry="3.0" transform="rotate(0 107.3 125.2)" fill="#e3eef9" stroke="#839fbd" stroke-width="1.1"/><ellipse cx="110.8" cy="125.2" rx="1.8" ry="3.0" transform="rotate(0 110.8 125.2)" fill="#e3eef9" stroke="#839fbd" stroke-width="1.1"/><ellipse cx="114.3" cy="125.2" rx="1.8" ry="3.0" transform="rotate(0 114.3 125.2)" fill="#e3eef9" stroke="#839fbd" stroke-width="1.1"/><circle cx="78.7" cy="125.2" r="3.3" fill="url(#sO)"/><ellipse cx="164.5" cy="125.2" rx="1.8" ry="3.0" transform="rotate(-180 164.5 125.2)" fill="#e3eef9" stroke="#839fbd" stroke-width="1.1"/><ellipse cx="160.7" cy="125.2" rx="1.8" ry="3.0" transform="rotate(-180 160.7 125.2)" fill="#e3eef9" stroke="#839fbd" stroke-width="1.1"/><ellipse cx="153.2" cy="125.2" rx="2.1" ry="3.4" transform="rotate(-180 153.2 125.2)" fill="#e3eef9" stroke="#839fbd" stroke-width="1.1"/><ellipse cx="149.7" cy="125.2" rx="2.1" ry="3.4" transform="rotate(-180 149.7 125.2)" fill="#e3eef9" stroke="#839fbd" stroke-width="1.1"/><ellipse cx="146.2" cy="125.2" rx="2.1" ry="3.4" transform="rotate(-180 146.2 125.2)" fill="#e3eef9" stroke="#839fbd" stroke-width="1.1"/><ellipse cx="140.7" cy="125.2" rx="1.8" ry="3.0" transform="rotate(-180 140.7 125.2)" fill="#e3eef9" stroke="#839fbd" stroke-width="1.1"/><ellipse cx="137.2" cy="125.2" rx="1.8" ry="3.0" transform="rotate(-180 137.2 125.2)" fill="#e3eef9" stroke="#839fbd" stroke-width="1.1"/><ellipse cx="133.7" cy="125.2" rx="1.8" ry="3.0" transform="rotate(-180 133.7 125.2)" fill="#e3eef9" stroke="#839fbd" stroke-width="1.1"/><circle cx="169.3" cy="125.2" r="3.3" fill="url(#sO)"/><line x1="127.2" y1="84.2" x2="130.2" y2="177.4" stroke="#9fb5cf" stroke-width="3.4"/><line x1="127.2" y1="84.2" x2="130.2" y2="177.4" stroke="#dbe7f4" stroke-width="1.6"/><ellipse cx="127.43" cy="91.4" rx="1.8" ry="3.0" transform="rotate(88.16 127.43 91.4)" fill="#e3eef9" stroke="#839fbd" stroke-width="1.1"/><ellipse cx="127.55" cy="95.19" rx="1.8" ry="3.0" transform="rotate(88.16 127.55 95.19)" fill="#e3eef9" stroke="#839fbd" stroke-width="1.1"/><ellipse cx="127.8" cy="102.69" rx="2.1" ry="3.4" transform="rotate(88.16 127.8 102.69)" fill="#e3eef9" stroke="#839fbd" stroke-width="1.1"/><ellipse cx="127.91" cy="106.19" rx="2.1" ry="3.4" transform="rotate(88.16 127.91 106.19)" fill="#e3eef9" stroke="#839fbd" stroke-width="1.1"/><ellipse cx="128.02" cy="109.69" rx="2.1" ry="3.4" transform="rotate(88.16 128.02 109.69)" fill="#e3eef9" stroke="#839fbd" stroke-width="1.1"/><ellipse cx="128.2" cy="115.18" rx="1.8" ry="3.0" transform="rotate(88.16 128.2 115.18)" fill="#e3eef9" stroke="#839fbd" stroke-width="1.1"/><ellipse cx="128.31" cy="118.68" rx="1.8" ry="3.0" transform="rotate(88.16 128.31 118.68)" fill="#e3eef9" stroke="#839fbd" stroke-width="1.1"/><ellipse cx="128.42" cy="122.18" rx="1.8" ry="3.0" transform="rotate(88.16 128.42 122.18)" fill="#e3eef9" stroke="#839fbd" stroke-width="1.1"/><circle cx="127.28" cy="86.6" r="3.3" fill="url(#sO)"/><ellipse cx="129.97" cy="170.2" rx="1.8" ry="3.0" transform="rotate(-91.84 129.97 170.2)" fill="#e3eef9" stroke="#839fbd" stroke-width="1.1"/><ellipse cx="129.85" cy="166.41" rx="1.8" ry="3.0" transform="rotate(-91.84 129.85 166.41)" fill="#e3eef9" stroke="#839fbd" stroke-width="1.1"/><ellipse cx="129.6" cy="158.91" rx="2.1" ry="3.4" transform="rotate(-91.84 129.6 158.91)" fill="#e3eef9" stroke="#839fbd" stroke-width="1.1"/><ellipse cx="129.49" cy="155.41" rx="2.1" ry="3.4" transform="rotate(-91.84 129.49 155.41)" fill="#e3eef9" stroke="#839fbd" stroke-width="1.1"/><ellipse cx="129.38" cy="151.91" rx="2.1" ry="3.4" transform="rotate(-91.84 129.38 151.91)" fill="#e3eef9" stroke="#839fbd" stroke-width="1.1"/><ellipse cx="129.2" cy="146.42" rx="1.8" ry="3.0" transform="rotate(-91.84 129.2 146.42)" fill="#e3eef9" stroke="#839fbd" stroke-width="1.1"/><ellipse cx="129.09" cy="142.92" rx="1.8" ry="3.0" transform="rotate(-91.84 129.09 142.92)" fill="#e3eef9" stroke="#839fbd" stroke-width="1.1"/><ellipse cx="128.98" cy="139.42" rx="1.8" ry="3.0" transform="rotate(-91.84 128.98 139.42)" fill="#e3eef9" stroke="#839fbd" stroke-width="1.1"/><circle cx="130.12" cy="175" r="3.3" fill="url(#sO)"/><circle cx="124.2" cy="125.2" r="3.4" fill="url(#sSe)"/><circle cx="132.2" cy="126.2" r="3.2" fill="url(#sSe)"/><circle cx="128.2" cy="121.2" r="2.6" fill="url(#sC)"/><circle cx="129.2" cy="130.2" r="2.6" fill="url(#sC)"/>
<line x1="198.7" y1="126.5" x2="300.4" y2="126.5" stroke="#9fb5cf" stroke-width="3.4"/><line x1="198.7" y1="126.5" x2="300.4" y2="126.5" stroke="#dbe7f4" stroke-width="1.6"/><ellipse cx="205.9" cy="126.5" rx="1.8" ry="3.0" transform="rotate(0 205.9 126.5)" fill="#e3eef9" stroke="#839fbd" stroke-width="1.1"/><ellipse cx="209.7" cy="126.5" rx="1.8" ry="3.0" transform="rotate(0 209.7 126.5)" fill="#e3eef9" stroke="#839fbd" stroke-width="1.1"/><ellipse cx="217.2" cy="126.5" rx="2.1" ry="3.4" transform="rotate(0 217.2 126.5)" fill="#e3eef9" stroke="#839fbd" stroke-width="1.1"/><ellipse cx="220.7" cy="126.5" rx="2.1" ry="3.4" transform="rotate(0 220.7 126.5)" fill="#e3eef9" stroke="#839fbd" stroke-width="1.1"/><ellipse cx="224.2" cy="126.5" rx="2.1" ry="3.4" transform="rotate(0 224.2 126.5)" fill="#e3eef9" stroke="#839fbd" stroke-width="1.1"/><ellipse cx="229.7" cy="126.5" rx="1.8" ry="3.0" transform="rotate(0 229.7 126.5)" fill="#e3eef9" stroke="#839fbd" stroke-width="1.1"/><ellipse cx="233.2" cy="126.5" rx="1.8" ry="3.0" transform="rotate(0 233.2 126.5)" fill="#e3eef9" stroke="#839fbd" stroke-width="1.1"/><ellipse cx="236.7" cy="126.5" rx="1.8" ry="3.0" transform="rotate(0 236.7 126.5)" fill="#e3eef9" stroke="#839fbd" stroke-width="1.1"/><circle cx="201.1" cy="126.5" r="3.3" fill="url(#sO)"/><ellipse cx="293.2" cy="126.5" rx="1.8" ry="3.0" transform="rotate(-180 293.2 126.5)" fill="#e3eef9" stroke="#839fbd" stroke-width="1.1"/><ellipse cx="289.4" cy="126.5" rx="1.8" ry="3.0" transform="rotate(-180 289.4 126.5)" fill="#e3eef9" stroke="#839fbd" stroke-width="1.1"/><ellipse cx="281.9" cy="126.5" rx="2.1" ry="3.4" transform="rotate(-180 281.9 126.5)" fill="#e3eef9" stroke="#839fbd" stroke-width="1.1"/><ellipse cx="278.4" cy="126.5" rx="2.1" ry="3.4" transform="rotate(-180 278.4 126.5)" fill="#e3eef9" stroke="#839fbd" stroke-width="1.1"/><ellipse cx="274.9" cy="126.5" rx="2.1" ry="3.4" transform="rotate(-180 274.9 126.5)" fill="#e3eef9" stroke="#839fbd" stroke-width="1.1"/><ellipse cx="269.4" cy="126.5" rx="1.8" ry="3.0" transform="rotate(-180 269.4 126.5)" fill="#e3eef9" stroke="#839fbd" stroke-width="1.1"/><ellipse cx="265.9" cy="126.5" rx="1.8" ry="3.0" transform="rotate(-180 265.9 126.5)" fill="#e3eef9" stroke="#839fbd" stroke-width="1.1"/><ellipse cx="262.4" cy="126.5" rx="1.8" ry="3.0" transform="rotate(-180 262.4 126.5)" fill="#e3eef9" stroke="#839fbd" stroke-width="1.1"/><circle cx="298" cy="126.5" r="3.3" fill="url(#sO)"/><line x1="246.3" y1="84.2" x2="243.3" y2="183.6" stroke="#9fb5cf" stroke-width="3.4"/><line x1="246.3" y1="84.2" x2="243.3" y2="183.6" stroke="#dbe7f4" stroke-width="1.6"/><ellipse cx="246.08" cy="91.4" rx="1.8" ry="3.0" transform="rotate(91.73 246.08 91.4)" fill="#e3eef9" stroke="#839fbd" stroke-width="1.1"/><ellipse cx="245.97" cy="95.19" rx="1.8" ry="3.0" transform="rotate(91.73 245.97 95.19)" fill="#e3eef9" stroke="#839fbd" stroke-width="1.1"/><ellipse cx="245.74" cy="102.69" rx="2.1" ry="3.4" transform="rotate(91.73 245.74 102.69)" fill="#e3eef9" stroke="#839fbd" stroke-width="1.1"/><ellipse cx="245.64" cy="106.19" rx="2.1" ry="3.4" transform="rotate(91.73 245.64 106.19)" fill="#e3eef9" stroke="#839fbd" stroke-width="1.1"/><ellipse cx="245.53" cy="109.69" rx="2.1" ry="3.4" transform="rotate(91.73 245.53 109.69)" fill="#e3eef9" stroke="#839fbd" stroke-width="1.1"/><ellipse cx="245.36" cy="115.19" rx="1.8" ry="3.0" transform="rotate(91.73 245.36 115.19)" fill="#e3eef9" stroke="#839fbd" stroke-width="1.1"/><ellipse cx="245.26" cy="118.68" rx="1.8" ry="3.0" transform="rotate(91.73 245.26 118.68)" fill="#e3eef9" stroke="#839fbd" stroke-width="1.1"/><ellipse cx="245.15" cy="122.18" rx="1.8" ry="3.0" transform="rotate(91.73 245.15 122.18)" fill="#e3eef9" stroke="#839fbd" stroke-width="1.1"/><circle cx="246.23" cy="86.6" r="3.3" fill="url(#sO)"/><ellipse cx="243.52" cy="176.4" rx="1.8" ry="3.0" transform="rotate(-88.27 243.52 176.4)" fill="#e3eef9" stroke="#839fbd" stroke-width="1.1"/><ellipse cx="243.63" cy="172.61" rx="1.8" ry="3.0" transform="rotate(-88.27 243.63 172.61)" fill="#e3eef9" stroke="#839fbd" stroke-width="1.1"/><ellipse cx="243.86" cy="165.11" rx="2.1" ry="3.4" transform="rotate(-88.27 243.86 165.11)" fill="#e3eef9" stroke="#839fbd" stroke-width="1.1"/><ellipse cx="243.96" cy="161.61" rx="2.1" ry="3.4" transform="rotate(-88.27 243.96 161.61)" fill="#e3eef9" stroke="#839fbd" stroke-width="1.1"/><ellipse cx="244.07" cy="158.11" rx="2.1" ry="3.4" transform="rotate(-88.27 244.07 158.11)" fill="#e3eef9" stroke="#839fbd" stroke-width="1.1"/><ellipse cx="244.24" cy="152.61" rx="1.8" ry="3.0" transform="rotate(-88.27 244.24 152.61)" fill="#e3eef9" stroke="#839fbd" stroke-width="1.1"/><ellipse cx="244.34" cy="149.12" rx="1.8" ry="3.0" transform="rotate(-88.27 244.34 149.12)" fill="#e3eef9" stroke="#839fbd" stroke-width="1.1"/><ellipse cx="244.45" cy="145.62" rx="1.8" ry="3.0" transform="rotate(-88.27 244.45 145.62)" fill="#e3eef9" stroke="#839fbd" stroke-width="1.1"/><circle cx="243.37" cy="181.2" r="3.3" fill="url(#sO)"/><circle cx="240.3" cy="126.5" r="3.4" fill="url(#sSe)"/><circle cx="248.3" cy="127.5" r="3.2" fill="url(#sSe)"/><circle cx="244.3" cy="122.5" r="2.6" fill="url(#sC)"/><circle cx="245.3" cy="131.5" r="2.6" fill="url(#sC)"/>
<polygon points="44.5,17.4 18,42.9 44.5,68.4 71,42.9" fill="#bcd2f6"/><polygon points="44.5,17.4 18,42.9 40.5,47.9" fill="#cadcf8"/><polygon points="44.5,17.4 40.5,47.9 71,42.9" fill="#c2d6f7"/><polygon points="18,42.9 40.5,47.9 44.5,68.4" fill="#b3cbf3"/><polygon points="40.5,47.9 71,42.9 44.5,68.4" fill="#afc8f3"/><g stroke="#e6eefc" stroke-width="0.7" fill="none"><polyline points="44.5,17.4 40.5,47.9 44.5,68.4"/><polyline points="18,42.9 40.5,47.9 71,42.9"/><polyline points="44.5,17.4 47.5,38.9 44.5,68.4" stroke-opacity="0.5"/><polyline points="18,42.9 47.5,38.9 71,42.9" stroke-opacity="0.5"/></g><circle cx="45" cy="41.9" r="5.8" fill="url(#sPb)" fill-opacity="0.85"/><circle cx="44.5" cy="17.4" r="2.9" fill="url(#sI)"/><circle cx="18" cy="42.9" r="2.9" fill="url(#sI)"/><circle cx="71" cy="42.9" r="2.9" fill="url(#sI)"/><circle cx="44.5" cy="68.4" r="2.9" fill="url(#sI)"/><circle cx="40.5" cy="47.9" r="2.9" fill="url(#sI)"/>
<polygon points="95.4,17.4 68.9,42.9 95.4,68.4 121.9,42.9" fill="#bcd2f6"/><polygon points="95.4,17.4 68.9,42.9 91.4,47.9" fill="#cadcf8"/><polygon points="95.4,17.4 91.4,47.9 121.9,42.9" fill="#c2d6f7"/><polygon points="68.9,42.9 91.4,47.9 95.4,68.4" fill="#b3cbf3"/><polygon points="91.4,47.9 121.9,42.9 95.4,68.4" fill="#afc8f3"/><g stroke="#e6eefc" stroke-width="0.7" fill="none"><polyline points="95.4,17.4 91.4,47.9 95.4,68.4"/><polyline points="68.9,42.9 91.4,47.9 121.9,42.9"/><polyline points="95.4,17.4 98.4,38.9 95.4,68.4" stroke-opacity="0.5"/><polyline points="68.9,42.9 98.4,38.9 121.9,42.9" stroke-opacity="0.5"/></g><circle cx="95.9" cy="41.9" r="5.8" fill="url(#sPb)" fill-opacity="0.85"/><circle cx="95.4" cy="17.4" r="2.9" fill="url(#sI)"/><circle cx="68.9" cy="42.9" r="2.9" fill="url(#sI)"/><circle cx="121.9" cy="42.9" r="2.9" fill="url(#sI)"/><circle cx="95.4" cy="68.4" r="2.9" fill="url(#sI)"/><circle cx="91.4" cy="47.9" r="2.9" fill="url(#sI)"/>
<polygon points="44.5,68.3 18,93.8 44.5,119.3 71,93.8" fill="#bcd2f6"/><polygon points="44.5,68.3 18,93.8 40.5,98.8" fill="#cadcf8"/><polygon points="44.5,68.3 40.5,98.8 71,93.8" fill="#c2d6f7"/><polygon points="18,93.8 40.5,98.8 44.5,119.3" fill="#b3cbf3"/><polygon points="40.5,98.8 71,93.8 44.5,119.3" fill="#afc8f3"/><g stroke="#e6eefc" stroke-width="0.7" fill="none"><polyline points="44.5,68.3 40.5,98.8 44.5,119.3"/><polyline points="18,93.8 40.5,98.8 71,93.8"/><polyline points="44.5,68.3 47.5,89.8 44.5,119.3" stroke-opacity="0.5"/><polyline points="18,93.8 47.5,89.8 71,93.8" stroke-opacity="0.5"/></g><circle cx="45" cy="92.8" r="5.8" fill="url(#sPb)" fill-opacity="0.85"/><circle cx="44.5" cy="68.3" r="2.9" fill="url(#sI)"/><circle cx="18" cy="93.8" r="2.9" fill="url(#sI)"/><circle cx="71" cy="93.8" r="2.9" fill="url(#sI)"/><circle cx="44.5" cy="119.3" r="2.9" fill="url(#sI)"/><circle cx="40.5" cy="98.8" r="2.9" fill="url(#sI)"/>
<polygon points="95.4,68.3 68.9,93.8 95.4,119.3 121.9,93.8" fill="#bcd2f6"/><polygon points="95.4,68.3 68.9,93.8 91.4,98.8" fill="#cadcf8"/><polygon points="95.4,68.3 91.4,98.8 121.9,93.8" fill="#c2d6f7"/><polygon points="68.9,93.8 91.4,98.8 95.4,119.3" fill="#b3cbf3"/><polygon points="91.4,98.8 121.9,93.8 95.4,119.3" fill="#afc8f3"/><g stroke="#e6eefc" stroke-width="0.7" fill="none"><polyline points="95.4,68.3 91.4,98.8 95.4,119.3"/><polyline points="68.9,93.8 91.4,98.8 121.9,93.8"/><polyline points="95.4,68.3 98.4,89.8 95.4,119.3" stroke-opacity="0.5"/><polyline points="68.9,93.8 98.4,89.8 121.9,93.8" stroke-opacity="0.5"/></g><circle cx="95.9" cy="92.8" r="5.8" fill="url(#sPb)" fill-opacity="0.85"/><circle cx="95.4" cy="68.3" r="2.9" fill="url(#sI)"/><circle cx="68.9" cy="93.8" r="2.9" fill="url(#sI)"/><circle cx="121.9" cy="93.8" r="2.9" fill="url(#sI)"/><circle cx="95.4" cy="119.3" r="2.9" fill="url(#sI)"/><circle cx="91.4" cy="98.8" r="2.9" fill="url(#sI)"/>
<polygon points="162.1,17.4 135.6,42.9 162.1,68.4 188.6,42.9" fill="#bcd2f6"/><polygon points="162.1,17.4 135.6,42.9 158.1,47.9" fill="#cadcf8"/><polygon points="162.1,17.4 158.1,47.9 188.6,42.9" fill="#c2d6f7"/><polygon points="135.6,42.9 158.1,47.9 162.1,68.4" fill="#b3cbf3"/><polygon points="158.1,47.9 188.6,42.9 162.1,68.4" fill="#afc8f3"/><g stroke="#e6eefc" stroke-width="0.7" fill="none"><polyline points="162.1,17.4 158.1,47.9 162.1,68.4"/><polyline points="135.6,42.9 158.1,47.9 188.6,42.9"/><polyline points="162.1,17.4 165.1,38.9 162.1,68.4" stroke-opacity="0.5"/><polyline points="135.6,42.9 165.1,38.9 188.6,42.9" stroke-opacity="0.5"/></g><circle cx="162.6" cy="41.9" r="5.8" fill="url(#sPb)" fill-opacity="0.85"/><circle cx="162.1" cy="17.4" r="2.9" fill="url(#sI)"/><circle cx="135.6" cy="42.9" r="2.9" fill="url(#sI)"/><circle cx="188.6" cy="42.9" r="2.9" fill="url(#sI)"/><circle cx="162.1" cy="68.4" r="2.9" fill="url(#sI)"/><circle cx="158.1" cy="47.9" r="2.9" fill="url(#sI)"/>
<polygon points="213,17.4 186.5,42.9 213,68.4 239.5,42.9" fill="#bcd2f6"/><polygon points="213,17.4 186.5,42.9 209,47.9" fill="#cadcf8"/><polygon points="213,17.4 209,47.9 239.5,42.9" fill="#c2d6f7"/><polygon points="186.5,42.9 209,47.9 213,68.4" fill="#b3cbf3"/><polygon points="209,47.9 239.5,42.9 213,68.4" fill="#afc8f3"/><g stroke="#e6eefc" stroke-width="0.7" fill="none"><polyline points="213,17.4 209,47.9 213,68.4"/><polyline points="186.5,42.9 209,47.9 239.5,42.9"/><polyline points="213,17.4 216,38.9 213,68.4" stroke-opacity="0.5"/><polyline points="186.5,42.9 216,38.9 239.5,42.9" stroke-opacity="0.5"/></g><circle cx="213.5" cy="41.9" r="5.8" fill="url(#sPb)" fill-opacity="0.85"/><circle cx="213" cy="17.4" r="2.9" fill="url(#sI)"/><circle cx="186.5" cy="42.9" r="2.9" fill="url(#sI)"/><circle cx="239.5" cy="42.9" r="2.9" fill="url(#sI)"/><circle cx="213" cy="68.4" r="2.9" fill="url(#sI)"/><circle cx="209" cy="47.9" r="2.9" fill="url(#sI)"/>
<polygon points="162.1,68.3 135.6,93.8 162.1,119.3 188.6,93.8" fill="#bcd2f6"/><polygon points="162.1,68.3 135.6,93.8 158.1,98.8" fill="#cadcf8"/><polygon points="162.1,68.3 158.1,98.8 188.6,93.8" fill="#c2d6f7"/><polygon points="135.6,93.8 158.1,98.8 162.1,119.3" fill="#b3cbf3"/><polygon points="158.1,98.8 188.6,93.8 162.1,119.3" fill="#afc8f3"/><g stroke="#e6eefc" stroke-width="0.7" fill="none"><polyline points="162.1,68.3 158.1,98.8 162.1,119.3"/><polyline points="135.6,93.8 158.1,98.8 188.6,93.8"/><polyline points="162.1,68.3 165.1,89.8 162.1,119.3" stroke-opacity="0.5"/><polyline points="135.6,93.8 165.1,89.8 188.6,93.8" stroke-opacity="0.5"/></g><circle cx="162.6" cy="92.8" r="5.8" fill="url(#sPb)" fill-opacity="0.85"/><circle cx="162.1" cy="68.3" r="2.9" fill="url(#sI)"/><circle cx="135.6" cy="93.8" r="2.9" fill="url(#sI)"/><circle cx="188.6" cy="93.8" r="2.9" fill="url(#sI)"/><circle cx="162.1" cy="119.3" r="2.9" fill="url(#sI)"/><circle cx="158.1" cy="98.8" r="2.9" fill="url(#sI)"/>
<polygon points="213,68.3 186.5,93.8 213,119.3 239.5,93.8" fill="#bcd2f6"/><polygon points="213,68.3 186.5,93.8 209,98.8" fill="#cadcf8"/><polygon points="213,68.3 209,98.8 239.5,93.8" fill="#c2d6f7"/><polygon points="186.5,93.8 209,98.8 213,119.3" fill="#b3cbf3"/><polygon points="209,98.8 239.5,93.8 213,119.3" fill="#afc8f3"/><g stroke="#e6eefc" stroke-width="0.7" fill="none"><polyline points="213,68.3 209,98.8 213,119.3"/><polyline points="186.5,93.8 209,98.8 239.5,93.8"/><polyline points="213,68.3 216,89.8 213,119.3" stroke-opacity="0.5"/><polyline points="186.5,93.8 216,89.8 239.5,93.8" stroke-opacity="0.5"/></g><circle cx="213.5" cy="92.8" r="5.8" fill="url(#sPb)" fill-opacity="0.85"/><circle cx="213" cy="68.3" r="2.9" fill="url(#sI)"/><circle cx="186.5" cy="93.8" r="2.9" fill="url(#sI)"/><circle cx="239.5" cy="93.8" r="2.9" fill="url(#sI)"/><circle cx="213" cy="119.3" r="2.9" fill="url(#sI)"/><circle cx="209" cy="98.8" r="2.9" fill="url(#sI)"/>
<polygon points="278.2,17.4 251.7,42.9 278.2,68.4 304.7,42.9" fill="#bcd2f6"/><polygon points="278.2,17.4 251.7,42.9 274.2,47.9" fill="#cadcf8"/><polygon points="278.2,17.4 274.2,47.9 304.7,42.9" fill="#c2d6f7"/><polygon points="251.7,42.9 274.2,47.9 278.2,68.4" fill="#b3cbf3"/><polygon points="274.2,47.9 304.7,42.9 278.2,68.4" fill="#afc8f3"/><g stroke="#e6eefc" stroke-width="0.7" fill="none"><polyline points="278.2,17.4 274.2,47.9 278.2,68.4"/><polyline points="251.7,42.9 274.2,47.9 304.7,42.9"/><polyline points="278.2,17.4 281.2,38.9 278.2,68.4" stroke-opacity="0.5"/><polyline points="251.7,42.9 281.2,38.9 304.7,42.9" stroke-opacity="0.5"/></g><circle cx="278.7" cy="41.9" r="5.8" fill="url(#sPb)" fill-opacity="0.85"/><circle cx="278.2" cy="17.4" r="2.9" fill="url(#sI)"/><circle cx="251.7" cy="42.9" r="2.9" fill="url(#sI)"/><circle cx="304.7" cy="42.9" r="2.9" fill="url(#sI)"/><circle cx="278.2" cy="68.4" r="2.9" fill="url(#sI)"/><circle cx="274.2" cy="47.9" r="2.9" fill="url(#sI)"/>
<polygon points="329,17.4 302.5,42.9 329,68.4 355.5,42.9" fill="#bcd2f6"/><polygon points="329,17.4 302.5,42.9 325,47.9" fill="#cadcf8"/><polygon points="329,17.4 325,47.9 355.5,42.9" fill="#c2d6f7"/><polygon points="302.5,42.9 325,47.9 329,68.4" fill="#b3cbf3"/><polygon points="325,47.9 355.5,42.9 329,68.4" fill="#afc8f3"/><g stroke="#e6eefc" stroke-width="0.7" fill="none"><polyline points="329,17.4 325,47.9 329,68.4"/><polyline points="302.5,42.9 325,47.9 355.5,42.9"/><polyline points="329,17.4 332,38.9 329,68.4" stroke-opacity="0.5"/><polyline points="302.5,42.9 332,38.9 355.5,42.9" stroke-opacity="0.5"/></g><circle cx="329.5" cy="41.9" r="5.8" fill="url(#sPb)" fill-opacity="0.85"/><circle cx="329" cy="17.4" r="2.9" fill="url(#sI)"/><circle cx="302.5" cy="42.9" r="2.9" fill="url(#sI)"/><circle cx="355.5" cy="42.9" r="2.9" fill="url(#sI)"/><circle cx="329" cy="68.4" r="2.9" fill="url(#sI)"/><circle cx="325" cy="47.9" r="2.9" fill="url(#sI)"/>
<polygon points="278.2,68.3 251.7,93.8 278.2,119.3 304.7,93.8" fill="#bcd2f6"/><polygon points="278.2,68.3 251.7,93.8 274.2,98.8" fill="#cadcf8"/><polygon points="278.2,68.3 274.2,98.8 304.7,93.8" fill="#c2d6f7"/><polygon points="251.7,93.8 274.2,98.8 278.2,119.3" fill="#b3cbf3"/><polygon points="274.2,98.8 304.7,93.8 278.2,119.3" fill="#afc8f3"/><g stroke="#e6eefc" stroke-width="0.7" fill="none"><polyline points="278.2,68.3 274.2,98.8 278.2,119.3"/><polyline points="251.7,93.8 274.2,98.8 304.7,93.8"/><polyline points="278.2,68.3 281.2,89.8 278.2,119.3" stroke-opacity="0.5"/><polyline points="251.7,93.8 281.2,89.8 304.7,93.8" stroke-opacity="0.5"/></g><circle cx="278.7" cy="92.8" r="5.8" fill="url(#sPb)" fill-opacity="0.85"/><circle cx="278.2" cy="68.3" r="2.9" fill="url(#sI)"/><circle cx="251.7" cy="93.8" r="2.9" fill="url(#sI)"/><circle cx="304.7" cy="93.8" r="2.9" fill="url(#sI)"/><circle cx="278.2" cy="119.3" r="2.9" fill="url(#sI)"/><circle cx="274.2" cy="98.8" r="2.9" fill="url(#sI)"/>
<polygon points="329,68.3 302.5,93.8 329,119.3 355.5,93.8" fill="#bcd2f6"/><polygon points="329,68.3 302.5,93.8 325,98.8" fill="#cadcf8"/><polygon points="329,68.3 325,98.8 355.5,93.8" fill="#c2d6f7"/><polygon points="302.5,93.8 325,98.8 329,119.3" fill="#b3cbf3"/><polygon points="325,98.8 355.5,93.8 329,119.3" fill="#afc8f3"/><g stroke="#e6eefc" stroke-width="0.7" fill="none"><polyline points="329,68.3 325,98.8 329,119.3"/><polyline points="302.5,93.8 325,98.8 355.5,93.8"/><polyline points="329,68.3 332,89.8 329,119.3" stroke-opacity="0.5"/><polyline points="302.5,93.8 332,89.8 355.5,93.8" stroke-opacity="0.5"/></g><circle cx="329.5" cy="92.8" r="5.8" fill="url(#sPb)" fill-opacity="0.85"/><circle cx="329" cy="68.3" r="2.9" fill="url(#sI)"/><circle cx="302.5" cy="93.8" r="2.9" fill="url(#sI)"/><circle cx="355.5" cy="93.8" r="2.9" fill="url(#sI)"/><circle cx="329" cy="119.3" r="2.9" fill="url(#sI)"/><circle cx="325" cy="98.8" r="2.9" fill="url(#sI)"/>
<polygon points="42.9,135.8 16.4,161.3 42.9,186.8 69.4,161.3" fill="#bcd2f6"/><polygon points="42.9,135.8 16.4,161.3 38.9,166.3" fill="#cadcf8"/><polygon points="42.9,135.8 38.9,166.3 69.4,161.3" fill="#c2d6f7"/><polygon points="16.4,161.3 38.9,166.3 42.9,186.8" fill="#b3cbf3"/><polygon points="38.9,166.3 69.4,161.3 42.9,186.8" fill="#afc8f3"/><g stroke="#e6eefc" stroke-width="0.7" fill="none"><polyline points="42.9,135.8 38.9,166.3 42.9,186.8"/><polyline points="16.4,161.3 38.9,166.3 69.4,161.3"/><polyline points="42.9,135.8 45.9,157.3 42.9,186.8" stroke-opacity="0.5"/><polyline points="16.4,161.3 45.9,157.3 69.4,161.3" stroke-opacity="0.5"/></g><circle cx="43.4" cy="160.3" r="5.8" fill="url(#sPb)" fill-opacity="0.85"/><circle cx="42.9" cy="135.8" r="2.9" fill="url(#sI)"/><circle cx="16.4" cy="161.3" r="2.9" fill="url(#sI)"/><circle cx="69.4" cy="161.3" r="2.9" fill="url(#sI)"/><circle cx="42.9" cy="186.8" r="2.9" fill="url(#sI)"/><circle cx="38.9" cy="166.3" r="2.9" fill="url(#sI)"/>
<polygon points="93.8,135.8 67.3,161.3 93.8,186.8 120.3,161.3" fill="#bcd2f6"/><polygon points="93.8,135.8 67.3,161.3 89.8,166.3" fill="#cadcf8"/><polygon points="93.8,135.8 89.8,166.3 120.3,161.3" fill="#c2d6f7"/><polygon points="67.3,161.3 89.8,166.3 93.8,186.8" fill="#b3cbf3"/><polygon points="89.8,166.3 120.3,161.3 93.8,186.8" fill="#afc8f3"/><g stroke="#e6eefc" stroke-width="0.7" fill="none"><polyline points="93.8,135.8 89.8,166.3 93.8,186.8"/><polyline points="67.3,161.3 89.8,166.3 120.3,161.3"/><polyline points="93.8,135.8 96.8,157.3 93.8,186.8" stroke-opacity="0.5"/><polyline points="67.3,161.3 96.8,157.3 120.3,161.3" stroke-opacity="0.5"/></g><circle cx="94.3" cy="160.3" r="5.8" fill="url(#sPb)" fill-opacity="0.85"/><circle cx="93.8" cy="135.8" r="2.9" fill="url(#sI)"/><circle cx="67.3" cy="161.3" r="2.9" fill="url(#sI)"/><circle cx="120.3" cy="161.3" r="2.9" fill="url(#sI)"/><circle cx="93.8" cy="186.8" r="2.9" fill="url(#sI)"/><circle cx="89.8" cy="166.3" r="2.9" fill="url(#sI)"/>
<polygon points="42.9,186.7 16.4,212.2 42.9,237.7 69.4,212.2" fill="#bcd2f6"/><polygon points="42.9,186.7 16.4,212.2 38.9,217.2" fill="#cadcf8"/><polygon points="42.9,186.7 38.9,217.2 69.4,212.2" fill="#c2d6f7"/><polygon points="16.4,212.2 38.9,217.2 42.9,237.7" fill="#b3cbf3"/><polygon points="38.9,217.2 69.4,212.2 42.9,237.7" fill="#afc8f3"/><g stroke="#e6eefc" stroke-width="0.7" fill="none"><polyline points="42.9,186.7 38.9,217.2 42.9,237.7"/><polyline points="16.4,212.2 38.9,217.2 69.4,212.2"/><polyline points="42.9,186.7 45.9,208.2 42.9,237.7" stroke-opacity="0.5"/><polyline points="16.4,212.2 45.9,208.2 69.4,212.2" stroke-opacity="0.5"/></g><circle cx="43.4" cy="211.2" r="5.8" fill="url(#sPb)" fill-opacity="0.85"/><circle cx="42.9" cy="186.7" r="2.9" fill="url(#sI)"/><circle cx="16.4" cy="212.2" r="2.9" fill="url(#sI)"/><circle cx="69.4" cy="212.2" r="2.9" fill="url(#sI)"/><circle cx="42.9" cy="237.7" r="2.9" fill="url(#sI)"/><circle cx="38.9" cy="217.2" r="2.9" fill="url(#sI)"/>
<polygon points="93.8,186.7 67.3,212.2 93.8,237.7 120.3,212.2" fill="#bcd2f6"/><polygon points="93.8,186.7 67.3,212.2 89.8,217.2" fill="#cadcf8"/><polygon points="93.8,186.7 89.8,217.2 120.3,212.2" fill="#c2d6f7"/><polygon points="67.3,212.2 89.8,217.2 93.8,237.7" fill="#b3cbf3"/><polygon points="89.8,217.2 120.3,212.2 93.8,237.7" fill="#afc8f3"/><g stroke="#e6eefc" stroke-width="0.7" fill="none"><polyline points="93.8,186.7 89.8,217.2 93.8,237.7"/><polyline points="67.3,212.2 89.8,217.2 120.3,212.2"/><polyline points="93.8,186.7 96.8,208.2 93.8,237.7" stroke-opacity="0.5"/><polyline points="67.3,212.2 96.8,208.2 120.3,212.2" stroke-opacity="0.5"/></g><circle cx="94.3" cy="211.2" r="5.8" fill="url(#sPb)" fill-opacity="0.85"/><circle cx="93.8" cy="186.7" r="2.9" fill="url(#sI)"/><circle cx="67.3" cy="212.2" r="2.9" fill="url(#sI)"/><circle cx="120.3" cy="212.2" r="2.9" fill="url(#sI)"/><circle cx="93.8" cy="237.7" r="2.9" fill="url(#sI)"/><circle cx="89.8" cy="217.2" r="2.9" fill="url(#sI)"/>
<polygon points="160.5,135.8 134,161.3 160.5,186.8 187,161.3" fill="#bcd2f6"/><polygon points="160.5,135.8 134,161.3 156.5,166.3" fill="#cadcf8"/><polygon points="160.5,135.8 156.5,166.3 187,161.3" fill="#c2d6f7"/><polygon points="134,161.3 156.5,166.3 160.5,186.8" fill="#b3cbf3"/><polygon points="156.5,166.3 187,161.3 160.5,186.8" fill="#afc8f3"/><g stroke="#e6eefc" stroke-width="0.7" fill="none"><polyline points="160.5,135.8 156.5,166.3 160.5,186.8"/><polyline points="134,161.3 156.5,166.3 187,161.3"/><polyline points="160.5,135.8 163.5,157.3 160.5,186.8" stroke-opacity="0.5"/><polyline points="134,161.3 163.5,157.3 187,161.3" stroke-opacity="0.5"/></g><circle cx="161" cy="160.3" r="5.8" fill="url(#sPb)" fill-opacity="0.85"/><circle cx="160.5" cy="135.8" r="2.9" fill="url(#sI)"/><circle cx="134" cy="161.3" r="2.9" fill="url(#sI)"/><circle cx="187" cy="161.3" r="2.9" fill="url(#sI)"/><circle cx="160.5" cy="186.8" r="2.9" fill="url(#sI)"/><circle cx="156.5" cy="166.3" r="2.9" fill="url(#sI)"/>
<polygon points="211.4,135.8 184.9,161.3 211.4,186.8 237.9,161.3" fill="#bcd2f6"/><polygon points="211.4,135.8 184.9,161.3 207.4,166.3" fill="#cadcf8"/><polygon points="211.4,135.8 207.4,166.3 237.9,161.3" fill="#c2d6f7"/><polygon points="184.9,161.3 207.4,166.3 211.4,186.8" fill="#b3cbf3"/><polygon points="207.4,166.3 237.9,161.3 211.4,186.8" fill="#afc8f3"/><g stroke="#e6eefc" stroke-width="0.7" fill="none"><polyline points="211.4,135.8 207.4,166.3 211.4,186.8"/><polyline points="184.9,161.3 207.4,166.3 237.9,161.3"/><polyline points="211.4,135.8 214.4,157.3 211.4,186.8" stroke-opacity="0.5"/><polyline points="184.9,161.3 214.4,157.3 237.9,161.3" stroke-opacity="0.5"/></g><circle cx="211.9" cy="160.3" r="5.8" fill="url(#sPb)" fill-opacity="0.85"/><circle cx="211.4" cy="135.8" r="2.9" fill="url(#sI)"/><circle cx="184.9" cy="161.3" r="2.9" fill="url(#sI)"/><circle cx="237.9" cy="161.3" r="2.9" fill="url(#sI)"/><circle cx="211.4" cy="186.8" r="2.9" fill="url(#sI)"/><circle cx="207.4" cy="166.3" r="2.9" fill="url(#sI)"/>
<polygon points="160.5,186.7 134,212.2 160.5,237.7 187,212.2" fill="#bcd2f6"/><polygon points="160.5,186.7 134,212.2 156.5,217.2" fill="#cadcf8"/><polygon points="160.5,186.7 156.5,217.2 187,212.2" fill="#c2d6f7"/><polygon points="134,212.2 156.5,217.2 160.5,237.7" fill="#b3cbf3"/><polygon points="156.5,217.2 187,212.2 160.5,237.7" fill="#afc8f3"/><g stroke="#e6eefc" stroke-width="0.7" fill="none"><polyline points="160.5,186.7 156.5,217.2 160.5,237.7"/><polyline points="134,212.2 156.5,217.2 187,212.2"/><polyline points="160.5,186.7 163.5,208.2 160.5,237.7" stroke-opacity="0.5"/><polyline points="134,212.2 163.5,208.2 187,212.2" stroke-opacity="0.5"/></g><circle cx="161" cy="211.2" r="5.8" fill="url(#sPb)" fill-opacity="0.85"/><circle cx="160.5" cy="186.7" r="2.9" fill="url(#sI)"/><circle cx="134" cy="212.2" r="2.9" fill="url(#sI)"/><circle cx="187" cy="212.2" r="2.9" fill="url(#sI)"/><circle cx="160.5" cy="237.7" r="2.9" fill="url(#sI)"/><circle cx="156.5" cy="217.2" r="2.9" fill="url(#sI)"/>
<polygon points="211.4,186.7 184.9,212.2 211.4,237.7 237.9,212.2" fill="#bcd2f6"/><polygon points="211.4,186.7 184.9,212.2 207.4,217.2" fill="#cadcf8"/><polygon points="211.4,186.7 207.4,217.2 237.9,212.2" fill="#c2d6f7"/><polygon points="184.9,212.2 207.4,217.2 211.4,237.7" fill="#b3cbf3"/><polygon points="207.4,217.2 237.9,212.2 211.4,237.7" fill="#afc8f3"/><g stroke="#e6eefc" stroke-width="0.7" fill="none"><polyline points="211.4,186.7 207.4,217.2 211.4,237.7"/><polyline points="184.9,212.2 207.4,217.2 237.9,212.2"/><polyline points="211.4,186.7 214.4,208.2 211.4,237.7" stroke-opacity="0.5"/><polyline points="184.9,212.2 214.4,208.2 237.9,212.2" stroke-opacity="0.5"/></g><circle cx="211.9" cy="211.2" r="5.8" fill="url(#sPb)" fill-opacity="0.85"/><circle cx="211.4" cy="186.7" r="2.9" fill="url(#sI)"/><circle cx="184.9" cy="212.2" r="2.9" fill="url(#sI)"/><circle cx="237.9" cy="212.2" r="2.9" fill="url(#sI)"/><circle cx="211.4" cy="237.7" r="2.9" fill="url(#sI)"/><circle cx="207.4" cy="217.2" r="2.9" fill="url(#sI)"/>
<polygon points="275,140.5 248.5,166 275,191.5 301.5,166" fill="#bcd2f6"/><polygon points="275,140.5 248.5,166 271,171" fill="#cadcf8"/><polygon points="275,140.5 271,171 301.5,166" fill="#c2d6f7"/><polygon points="248.5,166 271,171 275,191.5" fill="#b3cbf3"/><polygon points="271,171 301.5,166 275,191.5" fill="#afc8f3"/><g stroke="#e6eefc" stroke-width="0.7" fill="none"><polyline points="275,140.5 271,171 275,191.5"/><polyline points="248.5,166 271,171 301.5,166"/><polyline points="275,140.5 278,162 275,191.5" stroke-opacity="0.5"/><polyline points="248.5,166 278,162 301.5,166" stroke-opacity="0.5"/></g><circle cx="275.5" cy="165" r="5.8" fill="url(#sPb)" fill-opacity="0.85"/><circle cx="275" cy="140.5" r="2.9" fill="url(#sI)"/><circle cx="248.5" cy="166" r="2.9" fill="url(#sI)"/><circle cx="301.5" cy="166" r="2.9" fill="url(#sI)"/><circle cx="275" cy="191.5" r="2.9" fill="url(#sI)"/><circle cx="271" cy="171" r="2.9" fill="url(#sI)"/>
<polygon points="327.4,140.5 300.9,166 327.4,191.5 353.9,166" fill="#bcd2f6"/><polygon points="327.4,140.5 300.9,166 323.4,171" fill="#cadcf8"/><polygon points="327.4,140.5 323.4,171 353.9,166" fill="#c2d6f7"/><polygon points="300.9,166 323.4,171 327.4,191.5" fill="#b3cbf3"/><polygon points="323.4,171 353.9,166 327.4,191.5" fill="#afc8f3"/><g stroke="#e6eefc" stroke-width="0.7" fill="none"><polyline points="327.4,140.5 323.4,171 327.4,191.5"/><polyline points="300.9,166 323.4,171 353.9,166"/><polyline points="327.4,140.5 330.4,162 327.4,191.5" stroke-opacity="0.5"/><polyline points="300.9,166 330.4,162 353.9,166" stroke-opacity="0.5"/></g><circle cx="327.9" cy="165" r="5.8" fill="url(#sPb)" fill-opacity="0.85"/><circle cx="327.4" cy="140.5" r="2.9" fill="url(#sI)"/><circle cx="300.9" cy="166" r="2.9" fill="url(#sI)"/><circle cx="353.9" cy="166" r="2.9" fill="url(#sI)"/><circle cx="327.4" cy="191.5" r="2.9" fill="url(#sI)"/><circle cx="323.4" cy="171" r="2.9" fill="url(#sI)"/>
<polygon points="275,189.9 248.5,215.4 275,240.9 301.5,215.4" fill="#bcd2f6"/><polygon points="275,189.9 248.5,215.4 271,220.4" fill="#cadcf8"/><polygon points="275,189.9 271,220.4 301.5,215.4" fill="#c2d6f7"/><polygon points="248.5,215.4 271,220.4 275,240.9" fill="#b3cbf3"/><polygon points="271,220.4 301.5,215.4 275,240.9" fill="#afc8f3"/><g stroke="#e6eefc" stroke-width="0.7" fill="none"><polyline points="275,189.9 271,220.4 275,240.9"/><polyline points="248.5,215.4 271,220.4 301.5,215.4"/><polyline points="275,189.9 278,211.4 275,240.9" stroke-opacity="0.5"/><polyline points="248.5,215.4 278,211.4 301.5,215.4" stroke-opacity="0.5"/></g><circle cx="275.5" cy="214.4" r="5.8" fill="url(#sPb)" fill-opacity="0.85"/><circle cx="275" cy="189.9" r="2.9" fill="url(#sI)"/><circle cx="248.5" cy="215.4" r="2.9" fill="url(#sI)"/><circle cx="301.5" cy="215.4" r="2.9" fill="url(#sI)"/><circle cx="275" cy="240.9" r="2.9" fill="url(#sI)"/><circle cx="271" cy="220.4" r="2.9" fill="url(#sI)"/>
<polygon points="327.4,189.9 300.9,215.4 327.4,240.9 353.9,215.4" fill="#bcd2f6"/><polygon points="327.4,189.9 300.9,215.4 323.4,220.4" fill="#cadcf8"/><polygon points="327.4,189.9 323.4,220.4 353.9,215.4" fill="#c2d6f7"/><polygon points="300.9,215.4 323.4,220.4 327.4,240.9" fill="#b3cbf3"/><polygon points="323.4,220.4 353.9,215.4 327.4,240.9" fill="#afc8f3"/><g stroke="#e6eefc" stroke-width="0.7" fill="none"><polyline points="327.4,189.9 323.4,220.4 327.4,240.9"/><polyline points="300.9,215.4 323.4,220.4 353.9,215.4"/><polyline points="327.4,189.9 330.4,211.4 327.4,240.9" stroke-opacity="0.5"/><polyline points="300.9,215.4 330.4,211.4 353.9,215.4" stroke-opacity="0.5"/></g><circle cx="327.9" cy="214.4" r="5.8" fill="url(#sPb)" fill-opacity="0.85"/><circle cx="327.4" cy="189.9" r="2.9" fill="url(#sI)"/><circle cx="300.9" cy="215.4" r="2.9" fill="url(#sI)"/><circle cx="353.9" cy="215.4" r="2.9" fill="url(#sI)"/><circle cx="327.4" cy="240.9" r="2.9" fill="url(#sI)"/><circle cx="323.4" cy="220.4" r="2.9" fill="url(#sI)"/>
<circle cx="65.3" cy="71.4" r="6" fill="url(#sFA)"/><line x1="17.5" y1="66.4" x2="112.9" y2="66.4" stroke="#9fb5cf" stroke-width="3.4"/><line x1="17.5" y1="66.4" x2="112.9" y2="66.4" stroke="#dbe7f4" stroke-width="1.6"/><ellipse cx="24.7" cy="66.4" rx="1.8" ry="3.0" transform="rotate(0 24.7 66.4)" fill="#e3eef9" stroke="#839fbd" stroke-width="1.1"/><ellipse cx="28.5" cy="66.4" rx="1.8" ry="3.0" transform="rotate(0 28.5 66.4)" fill="#e3eef9" stroke="#839fbd" stroke-width="1.1"/><ellipse cx="36" cy="66.4" rx="2.1" ry="3.4" transform="rotate(0 36 66.4)" fill="#e3eef9" stroke="#839fbd" stroke-width="1.1"/><ellipse cx="39.5" cy="66.4" rx="2.1" ry="3.4" transform="rotate(0 39.5 66.4)" fill="#e3eef9" stroke="#839fbd" stroke-width="1.1"/><ellipse cx="43" cy="66.4" rx="2.1" ry="3.4" transform="rotate(0 43 66.4)" fill="#e3eef9" stroke="#839fbd" stroke-width="1.1"/><ellipse cx="48.5" cy="66.4" rx="1.8" ry="3.0" transform="rotate(0 48.5 66.4)" fill="#e3eef9" stroke="#839fbd" stroke-width="1.1"/><ellipse cx="52" cy="66.4" rx="1.8" ry="3.0" transform="rotate(0 52 66.4)" fill="#e3eef9" stroke="#839fbd" stroke-width="1.1"/><ellipse cx="55.5" cy="66.4" rx="1.8" ry="3.0" transform="rotate(0 55.5 66.4)" fill="#e3eef9" stroke="#839fbd" stroke-width="1.1"/><circle cx="19.9" cy="66.4" r="3.3" fill="url(#sO)"/><ellipse cx="105.7" cy="66.4" rx="1.8" ry="3.0" transform="rotate(-180 105.7 66.4)" fill="#e3eef9" stroke="#839fbd" stroke-width="1.1"/><ellipse cx="101.9" cy="66.4" rx="1.8" ry="3.0" transform="rotate(-180 101.9 66.4)" fill="#e3eef9" stroke="#839fbd" stroke-width="1.1"/><ellipse cx="94.4" cy="66.4" rx="2.1" ry="3.4" transform="rotate(-180 94.4 66.4)" fill="#e3eef9" stroke="#839fbd" stroke-width="1.1"/><ellipse cx="90.9" cy="66.4" rx="2.1" ry="3.4" transform="rotate(-180 90.9 66.4)" fill="#e3eef9" stroke="#839fbd" stroke-width="1.1"/><ellipse cx="87.4" cy="66.4" rx="2.1" ry="3.4" transform="rotate(-180 87.4 66.4)" fill="#e3eef9" stroke="#839fbd" stroke-width="1.1"/><ellipse cx="81.9" cy="66.4" rx="1.8" ry="3.0" transform="rotate(-180 81.9 66.4)" fill="#e3eef9" stroke="#839fbd" stroke-width="1.1"/><ellipse cx="78.4" cy="66.4" rx="1.8" ry="3.0" transform="rotate(-180 78.4 66.4)" fill="#e3eef9" stroke="#839fbd" stroke-width="1.1"/><ellipse cx="74.9" cy="66.4" rx="1.8" ry="3.0" transform="rotate(-180 74.9 66.4)" fill="#e3eef9" stroke="#839fbd" stroke-width="1.1"/><circle cx="110.5" cy="66.4" r="3.3" fill="url(#sO)"/><line x1="67.3" y1="23.4" x2="71.3" y2="117" stroke="#9fb5cf" stroke-width="3.4"/><line x1="67.3" y1="23.4" x2="71.3" y2="117" stroke="#dbe7f4" stroke-width="1.6"/><ellipse cx="67.61" cy="30.59" rx="1.8" ry="3.0" transform="rotate(87.55 67.61 30.59)" fill="#e3eef9" stroke="#839fbd" stroke-width="1.1"/><ellipse cx="67.77" cy="34.39" rx="1.8" ry="3.0" transform="rotate(87.55 67.77 34.39)" fill="#e3eef9" stroke="#839fbd" stroke-width="1.1"/><ellipse cx="68.09" cy="41.88" rx="2.1" ry="3.4" transform="rotate(87.55 68.09 41.88)" fill="#e3eef9" stroke="#839fbd" stroke-width="1.1"/><ellipse cx="68.24" cy="45.38" rx="2.1" ry="3.4" transform="rotate(87.55 68.24 45.38)" fill="#e3eef9" stroke="#839fbd" stroke-width="1.1"/><ellipse cx="68.39" cy="48.88" rx="2.1" ry="3.4" transform="rotate(87.55 68.39 48.88)" fill="#e3eef9" stroke="#839fbd" stroke-width="1.1"/><ellipse cx="68.62" cy="54.37" rx="1.8" ry="3.0" transform="rotate(87.55 68.62 54.37)" fill="#e3eef9" stroke="#839fbd" stroke-width="1.1"/><ellipse cx="68.77" cy="57.87" rx="1.8" ry="3.0" transform="rotate(87.55 68.77 57.87)" fill="#e3eef9" stroke="#839fbd" stroke-width="1.1"/><ellipse cx="68.92" cy="61.37" rx="1.8" ry="3.0" transform="rotate(87.55 68.92 61.37)" fill="#e3eef9" stroke="#839fbd" stroke-width="1.1"/><circle cx="67.4" cy="25.8" r="3.3" fill="url(#sO)"/><ellipse cx="70.99" cy="109.81" rx="1.8" ry="3.0" transform="rotate(-92.45 70.99 109.81)" fill="#e3eef9" stroke="#839fbd" stroke-width="1.1"/><ellipse cx="70.83" cy="106.01" rx="1.8" ry="3.0" transform="rotate(-92.45 70.83 106.01)" fill="#e3eef9" stroke="#839fbd" stroke-width="1.1"/><ellipse cx="70.51" cy="98.52" rx="2.1" ry="3.4" transform="rotate(-92.45 70.51 98.52)" fill="#e3eef9" stroke="#839fbd" stroke-width="1.1"/><ellipse cx="70.36" cy="95.02" rx="2.1" ry="3.4" transform="rotate(-92.45 70.36 95.02)" fill="#e3eef9" stroke="#839fbd" stroke-width="1.1"/><ellipse cx="70.21" cy="91.52" rx="2.1" ry="3.4" transform="rotate(-92.45 70.21 91.52)" fill="#e3eef9" stroke="#839fbd" stroke-width="1.1"/><ellipse cx="69.98" cy="86.03" rx="1.8" ry="3.0" transform="rotate(-92.45 69.98 86.03)" fill="#e3eef9" stroke="#839fbd" stroke-width="1.1"/><ellipse cx="69.83" cy="82.53" rx="1.8" ry="3.0" transform="rotate(-92.45 69.83 82.53)" fill="#e3eef9" stroke="#839fbd" stroke-width="1.1"/><ellipse cx="69.68" cy="79.03" rx="1.8" ry="3.0" transform="rotate(-92.45 69.68 79.03)" fill="#e3eef9" stroke="#839fbd" stroke-width="1.1"/><circle cx="71.2" cy="114.6" r="3.3" fill="url(#sO)"/><circle cx="64.8" cy="66.4" r="3.4" fill="url(#sSe)"/><circle cx="72.8" cy="67.4" r="3.2" fill="url(#sSe)"/><circle cx="68.8" cy="62.4" r="2.6" fill="url(#sC)"/><circle cx="69.8" cy="71.4" r="2.6" fill="url(#sC)"/>
<circle cx="190" cy="70.2" r="6" fill="url(#sFA)"/><line x1="139.9" y1="69.7" x2="236.8" y2="69.7" stroke="#9fb5cf" stroke-width="3.4"/><line x1="139.9" y1="69.7" x2="236.8" y2="69.7" stroke="#dbe7f4" stroke-width="1.6"/><ellipse cx="147.1" cy="69.7" rx="1.8" ry="3.0" transform="rotate(0 147.1 69.7)" fill="#e3eef9" stroke="#839fbd" stroke-width="1.1"/><ellipse cx="150.9" cy="69.7" rx="1.8" ry="3.0" transform="rotate(0 150.9 69.7)" fill="#e3eef9" stroke="#839fbd" stroke-width="1.1"/><ellipse cx="158.4" cy="69.7" rx="2.1" ry="3.4" transform="rotate(0 158.4 69.7)" fill="#e3eef9" stroke="#839fbd" stroke-width="1.1"/><ellipse cx="161.9" cy="69.7" rx="2.1" ry="3.4" transform="rotate(0 161.9 69.7)" fill="#e3eef9" stroke="#839fbd" stroke-width="1.1"/><ellipse cx="165.4" cy="69.7" rx="2.1" ry="3.4" transform="rotate(0 165.4 69.7)" fill="#e3eef9" stroke="#839fbd" stroke-width="1.1"/><ellipse cx="170.9" cy="69.7" rx="1.8" ry="3.0" transform="rotate(0 170.9 69.7)" fill="#e3eef9" stroke="#839fbd" stroke-width="1.1"/><ellipse cx="174.4" cy="69.7" rx="1.8" ry="3.0" transform="rotate(0 174.4 69.7)" fill="#e3eef9" stroke="#839fbd" stroke-width="1.1"/><ellipse cx="177.9" cy="69.7" rx="1.8" ry="3.0" transform="rotate(0 177.9 69.7)" fill="#e3eef9" stroke="#839fbd" stroke-width="1.1"/><circle cx="142.3" cy="69.7" r="3.3" fill="url(#sO)"/><ellipse cx="229.6" cy="69.7" rx="1.8" ry="3.0" transform="rotate(-180 229.6 69.7)" fill="#e3eef9" stroke="#839fbd" stroke-width="1.1"/><ellipse cx="225.8" cy="69.7" rx="1.8" ry="3.0" transform="rotate(-180 225.8 69.7)" fill="#e3eef9" stroke="#839fbd" stroke-width="1.1"/><ellipse cx="218.3" cy="69.7" rx="2.1" ry="3.4" transform="rotate(-180 218.3 69.7)" fill="#e3eef9" stroke="#839fbd" stroke-width="1.1"/><ellipse cx="214.8" cy="69.7" rx="2.1" ry="3.4" transform="rotate(-180 214.8 69.7)" fill="#e3eef9" stroke="#839fbd" stroke-width="1.1"/><ellipse cx="211.3" cy="69.7" rx="2.1" ry="3.4" transform="rotate(-180 211.3 69.7)" fill="#e3eef9" stroke="#839fbd" stroke-width="1.1"/><ellipse cx="205.8" cy="69.7" rx="1.8" ry="3.0" transform="rotate(-180 205.8 69.7)" fill="#e3eef9" stroke="#839fbd" stroke-width="1.1"/><ellipse cx="202.3" cy="69.7" rx="1.8" ry="3.0" transform="rotate(-180 202.3 69.7)" fill="#e3eef9" stroke="#839fbd" stroke-width="1.1"/><ellipse cx="198.8" cy="69.7" rx="1.8" ry="3.0" transform="rotate(-180 198.8 69.7)" fill="#e3eef9" stroke="#839fbd" stroke-width="1.1"/><circle cx="234.4" cy="69.7" r="3.3" fill="url(#sO)"/><line x1="188.4" y1="27" x2="183.6" y2="122.4" stroke="#9fb5cf" stroke-width="3.4"/><line x1="188.4" y1="27" x2="183.6" y2="122.4" stroke="#dbe7f4" stroke-width="1.6"/><ellipse cx="188.04" cy="34.19" rx="1.8" ry="3.0" transform="rotate(92.88 188.04 34.19)" fill="#e3eef9" stroke="#839fbd" stroke-width="1.1"/><ellipse cx="187.85" cy="37.99" rx="1.8" ry="3.0" transform="rotate(92.88 187.85 37.99)" fill="#e3eef9" stroke="#839fbd" stroke-width="1.1"/><ellipse cx="187.47" cy="45.48" rx="2.1" ry="3.4" transform="rotate(92.88 187.47 45.48)" fill="#e3eef9" stroke="#839fbd" stroke-width="1.1"/><ellipse cx="187.29" cy="48.97" rx="2.1" ry="3.4" transform="rotate(92.88 187.29 48.97)" fill="#e3eef9" stroke="#839fbd" stroke-width="1.1"/><ellipse cx="187.12" cy="52.47" rx="2.1" ry="3.4" transform="rotate(92.88 187.12 52.47)" fill="#e3eef9" stroke="#839fbd" stroke-width="1.1"/><ellipse cx="186.84" cy="57.96" rx="1.8" ry="3.0" transform="rotate(92.88 186.84 57.96)" fill="#e3eef9" stroke="#839fbd" stroke-width="1.1"/><ellipse cx="186.67" cy="61.46" rx="1.8" ry="3.0" transform="rotate(92.88 186.67 61.46)" fill="#e3eef9" stroke="#839fbd" stroke-width="1.1"/><ellipse cx="186.49" cy="64.95" rx="1.8" ry="3.0" transform="rotate(92.88 186.49 64.95)" fill="#e3eef9" stroke="#839fbd" stroke-width="1.1"/><circle cx="188.28" cy="29.4" r="3.3" fill="url(#sO)"/><ellipse cx="183.96" cy="115.21" rx="1.8" ry="3.0" transform="rotate(-87.12 183.96 115.21)" fill="#e3eef9" stroke="#839fbd" stroke-width="1.1"/><ellipse cx="184.15" cy="111.41" rx="1.8" ry="3.0" transform="rotate(-87.12 184.15 111.41)" fill="#e3eef9" stroke="#839fbd" stroke-width="1.1"/><ellipse cx="184.53" cy="103.92" rx="2.1" ry="3.4" transform="rotate(-87.12 184.53 103.92)" fill="#e3eef9" stroke="#839fbd" stroke-width="1.1"/><ellipse cx="184.71" cy="100.43" rx="2.1" ry="3.4" transform="rotate(-87.12 184.71 100.43)" fill="#e3eef9" stroke="#839fbd" stroke-width="1.1"/><ellipse cx="184.88" cy="96.93" rx="2.1" ry="3.4" transform="rotate(-87.12 184.88 96.93)" fill="#e3eef9" stroke="#839fbd" stroke-width="1.1"/><ellipse cx="185.16" cy="91.44" rx="1.8" ry="3.0" transform="rotate(-87.12 185.16 91.44)" fill="#e3eef9" stroke="#839fbd" stroke-width="1.1"/><ellipse cx="185.33" cy="87.94" rx="1.8" ry="3.0" transform="rotate(-87.12 185.33 87.94)" fill="#e3eef9" stroke="#839fbd" stroke-width="1.1"/><ellipse cx="185.51" cy="84.45" rx="1.8" ry="3.0" transform="rotate(-87.12 185.51 84.45)" fill="#e3eef9" stroke="#839fbd" stroke-width="1.1"/><circle cx="183.72" cy="120" r="3.3" fill="url(#sO)"/><circle cx="181.5" cy="69.7" r="3.4" fill="url(#sSe)"/><circle cx="189.5" cy="70.7" r="3.2" fill="url(#sSe)"/><circle cx="185.5" cy="65.7" r="2.6" fill="url(#sC)"/><circle cx="186.5" cy="74.7" r="2.6" fill="url(#sC)"/>
<circle cx="306" cy="68.2" r="6" fill="url(#sFA)"/><line x1="259.1" y1="69.7" x2="354.5" y2="69.7" stroke="#9fb5cf" stroke-width="3.4"/><line x1="259.1" y1="69.7" x2="354.5" y2="69.7" stroke="#dbe7f4" stroke-width="1.6"/><ellipse cx="266.3" cy="69.7" rx="1.8" ry="3.0" transform="rotate(0 266.3 69.7)" fill="#e3eef9" stroke="#839fbd" stroke-width="1.1"/><ellipse cx="270.1" cy="69.7" rx="1.8" ry="3.0" transform="rotate(0 270.1 69.7)" fill="#e3eef9" stroke="#839fbd" stroke-width="1.1"/><ellipse cx="277.6" cy="69.7" rx="2.1" ry="3.4" transform="rotate(0 277.6 69.7)" fill="#e3eef9" stroke="#839fbd" stroke-width="1.1"/><ellipse cx="281.1" cy="69.7" rx="2.1" ry="3.4" transform="rotate(0 281.1 69.7)" fill="#e3eef9" stroke="#839fbd" stroke-width="1.1"/><ellipse cx="284.6" cy="69.7" rx="2.1" ry="3.4" transform="rotate(0 284.6 69.7)" fill="#e3eef9" stroke="#839fbd" stroke-width="1.1"/><ellipse cx="290.1" cy="69.7" rx="1.8" ry="3.0" transform="rotate(0 290.1 69.7)" fill="#e3eef9" stroke="#839fbd" stroke-width="1.1"/><ellipse cx="293.6" cy="69.7" rx="1.8" ry="3.0" transform="rotate(0 293.6 69.7)" fill="#e3eef9" stroke="#839fbd" stroke-width="1.1"/><ellipse cx="297.1" cy="69.7" rx="1.8" ry="3.0" transform="rotate(0 297.1 69.7)" fill="#e3eef9" stroke="#839fbd" stroke-width="1.1"/><circle cx="261.5" cy="69.7" r="3.3" fill="url(#sO)"/><ellipse cx="347.3" cy="69.7" rx="1.8" ry="3.0" transform="rotate(-180 347.3 69.7)" fill="#e3eef9" stroke="#839fbd" stroke-width="1.1"/><ellipse cx="343.5" cy="69.7" rx="1.8" ry="3.0" transform="rotate(-180 343.5 69.7)" fill="#e3eef9" stroke="#839fbd" stroke-width="1.1"/><ellipse cx="336" cy="69.7" rx="2.1" ry="3.4" transform="rotate(-180 336 69.7)" fill="#e3eef9" stroke="#839fbd" stroke-width="1.1"/><ellipse cx="332.5" cy="69.7" rx="2.1" ry="3.4" transform="rotate(-180 332.5 69.7)" fill="#e3eef9" stroke="#839fbd" stroke-width="1.1"/><ellipse cx="329" cy="69.7" rx="2.1" ry="3.4" transform="rotate(-180 329 69.7)" fill="#e3eef9" stroke="#839fbd" stroke-width="1.1"/><ellipse cx="323.5" cy="69.7" rx="1.8" ry="3.0" transform="rotate(-180 323.5 69.7)" fill="#e3eef9" stroke="#839fbd" stroke-width="1.1"/><ellipse cx="320" cy="69.7" rx="1.8" ry="3.0" transform="rotate(-180 320 69.7)" fill="#e3eef9" stroke="#839fbd" stroke-width="1.1"/><ellipse cx="316.5" cy="69.7" rx="1.8" ry="3.0" transform="rotate(-180 316.5 69.7)" fill="#e3eef9" stroke="#839fbd" stroke-width="1.1"/><circle cx="352.1" cy="69.7" r="3.3" fill="url(#sO)"/><line x1="304.4" y1="27" x2="299.6" y2="120.8" stroke="#9fb5cf" stroke-width="3.4"/><line x1="304.4" y1="27" x2="299.6" y2="120.8" stroke="#dbe7f4" stroke-width="1.6"/><ellipse cx="304.03" cy="34.19" rx="1.8" ry="3.0" transform="rotate(92.93 304.03 34.19)" fill="#e3eef9" stroke="#839fbd" stroke-width="1.1"/><ellipse cx="303.84" cy="37.99" rx="1.8" ry="3.0" transform="rotate(92.93 303.84 37.99)" fill="#e3eef9" stroke="#839fbd" stroke-width="1.1"/><ellipse cx="303.45" cy="45.48" rx="2.1" ry="3.4" transform="rotate(92.93 303.45 45.48)" fill="#e3eef9" stroke="#839fbd" stroke-width="1.1"/><ellipse cx="303.28" cy="48.97" rx="2.1" ry="3.4" transform="rotate(92.93 303.28 48.97)" fill="#e3eef9" stroke="#839fbd" stroke-width="1.1"/><ellipse cx="303.1" cy="52.47" rx="2.1" ry="3.4" transform="rotate(92.93 303.1 52.47)" fill="#e3eef9" stroke="#839fbd" stroke-width="1.1"/><ellipse cx="302.82" cy="57.96" rx="1.8" ry="3.0" transform="rotate(92.93 302.82 57.96)" fill="#e3eef9" stroke="#839fbd" stroke-width="1.1"/><ellipse cx="302.64" cy="61.45" rx="1.8" ry="3.0" transform="rotate(92.93 302.64 61.45)" fill="#e3eef9" stroke="#839fbd" stroke-width="1.1"/><ellipse cx="302.46" cy="64.95" rx="1.8" ry="3.0" transform="rotate(92.93 302.46 64.95)" fill="#e3eef9" stroke="#839fbd" stroke-width="1.1"/><circle cx="304.28" cy="29.4" r="3.3" fill="url(#sO)"/><ellipse cx="299.97" cy="113.61" rx="1.8" ry="3.0" transform="rotate(-87.07 299.97 113.61)" fill="#e3eef9" stroke="#839fbd" stroke-width="1.1"/><ellipse cx="300.16" cy="109.81" rx="1.8" ry="3.0" transform="rotate(-87.07 300.16 109.81)" fill="#e3eef9" stroke="#839fbd" stroke-width="1.1"/><ellipse cx="300.55" cy="102.32" rx="2.1" ry="3.4" transform="rotate(-87.07 300.55 102.32)" fill="#e3eef9" stroke="#839fbd" stroke-width="1.1"/><ellipse cx="300.72" cy="98.83" rx="2.1" ry="3.4" transform="rotate(-87.07 300.72 98.83)" fill="#e3eef9" stroke="#839fbd" stroke-width="1.1"/><ellipse cx="300.9" cy="95.33" rx="2.1" ry="3.4" transform="rotate(-87.07 300.9 95.33)" fill="#e3eef9" stroke="#839fbd" stroke-width="1.1"/><ellipse cx="301.18" cy="89.84" rx="1.8" ry="3.0" transform="rotate(-87.07 301.18 89.84)" fill="#e3eef9" stroke="#839fbd" stroke-width="1.1"/><ellipse cx="301.36" cy="86.35" rx="1.8" ry="3.0" transform="rotate(-87.07 301.36 86.35)" fill="#e3eef9" stroke="#839fbd" stroke-width="1.1"/><ellipse cx="301.54" cy="82.85" rx="1.8" ry="3.0" transform="rotate(-87.07 301.54 82.85)" fill="#e3eef9" stroke="#839fbd" stroke-width="1.1"/><circle cx="299.72" cy="118.4" r="3.3" fill="url(#sO)"/><circle cx="297.5" cy="69.7" r="3.4" fill="url(#sSe)"/><circle cx="305.5" cy="70.7" r="3.2" fill="url(#sSe)"/><circle cx="301.5" cy="65.7" r="2.6" fill="url(#sC)"/><circle cx="302.5" cy="74.7" r="2.6" fill="url(#sC)"/>
<circle cx="68.9" cy="189.8" r="6" fill="url(#sFA)"/><line x1="27" y1="186.8" x2="120.8" y2="186.8" stroke="#9fb5cf" stroke-width="3.4"/><line x1="27" y1="186.8" x2="120.8" y2="186.8" stroke="#dbe7f4" stroke-width="1.6"/><ellipse cx="34.2" cy="186.8" rx="1.8" ry="3.0" transform="rotate(0 34.2 186.8)" fill="#e3eef9" stroke="#839fbd" stroke-width="1.1"/><ellipse cx="38" cy="186.8" rx="1.8" ry="3.0" transform="rotate(0 38 186.8)" fill="#e3eef9" stroke="#839fbd" stroke-width="1.1"/><ellipse cx="45.5" cy="186.8" rx="2.1" ry="3.4" transform="rotate(0 45.5 186.8)" fill="#e3eef9" stroke="#839fbd" stroke-width="1.1"/><ellipse cx="49" cy="186.8" rx="2.1" ry="3.4" transform="rotate(0 49 186.8)" fill="#e3eef9" stroke="#839fbd" stroke-width="1.1"/><ellipse cx="52.5" cy="186.8" rx="2.1" ry="3.4" transform="rotate(0 52.5 186.8)" fill="#e3eef9" stroke="#839fbd" stroke-width="1.1"/><ellipse cx="58" cy="186.8" rx="1.8" ry="3.0" transform="rotate(0 58 186.8)" fill="#e3eef9" stroke="#839fbd" stroke-width="1.1"/><ellipse cx="61.5" cy="186.8" rx="1.8" ry="3.0" transform="rotate(0 61.5 186.8)" fill="#e3eef9" stroke="#839fbd" stroke-width="1.1"/><ellipse cx="65" cy="186.8" rx="1.8" ry="3.0" transform="rotate(0 65 186.8)" fill="#e3eef9" stroke="#839fbd" stroke-width="1.1"/><circle cx="29.4" cy="186.8" r="3.3" fill="url(#sO)"/><ellipse cx="113.6" cy="186.8" rx="1.8" ry="3.0" transform="rotate(-180 113.6 186.8)" fill="#e3eef9" stroke="#839fbd" stroke-width="1.1"/><ellipse cx="109.8" cy="186.8" rx="1.8" ry="3.0" transform="rotate(-180 109.8 186.8)" fill="#e3eef9" stroke="#839fbd" stroke-width="1.1"/><ellipse cx="102.3" cy="186.8" rx="2.1" ry="3.4" transform="rotate(-180 102.3 186.8)" fill="#e3eef9" stroke="#839fbd" stroke-width="1.1"/><ellipse cx="98.8" cy="186.8" rx="2.1" ry="3.4" transform="rotate(-180 98.8 186.8)" fill="#e3eef9" stroke="#839fbd" stroke-width="1.1"/><ellipse cx="95.3" cy="186.8" rx="2.1" ry="3.4" transform="rotate(-180 95.3 186.8)" fill="#e3eef9" stroke="#839fbd" stroke-width="1.1"/><ellipse cx="89.8" cy="186.8" rx="1.8" ry="3.0" transform="rotate(-180 89.8 186.8)" fill="#e3eef9" stroke="#839fbd" stroke-width="1.1"/><ellipse cx="86.3" cy="186.8" rx="1.8" ry="3.0" transform="rotate(-180 86.3 186.8)" fill="#e3eef9" stroke="#839fbd" stroke-width="1.1"/><ellipse cx="82.8" cy="186.8" rx="1.8" ry="3.0" transform="rotate(-180 82.8 186.8)" fill="#e3eef9" stroke="#839fbd" stroke-width="1.1"/><circle cx="118.4" cy="186.8" r="3.3" fill="url(#sO)"/><line x1="72.3" y1="143.8" x2="67.5" y2="237.6" stroke="#9fb5cf" stroke-width="3.4"/><line x1="72.3" y1="143.8" x2="67.5" y2="237.6" stroke="#dbe7f4" stroke-width="1.6"/><ellipse cx="71.93" cy="150.99" rx="1.8" ry="3.0" transform="rotate(92.93 71.93 150.99)" fill="#e3eef9" stroke="#839fbd" stroke-width="1.1"/><ellipse cx="71.74" cy="154.79" rx="1.8" ry="3.0" transform="rotate(92.93 71.74 154.79)" fill="#e3eef9" stroke="#839fbd" stroke-width="1.1"/><ellipse cx="71.35" cy="162.28" rx="2.1" ry="3.4" transform="rotate(92.93 71.35 162.28)" fill="#e3eef9" stroke="#839fbd" stroke-width="1.1"/><ellipse cx="71.18" cy="165.77" rx="2.1" ry="3.4" transform="rotate(92.93 71.18 165.77)" fill="#e3eef9" stroke="#839fbd" stroke-width="1.1"/><ellipse cx="71" cy="169.27" rx="2.1" ry="3.4" transform="rotate(92.93 71 169.27)" fill="#e3eef9" stroke="#839fbd" stroke-width="1.1"/><ellipse cx="70.72" cy="174.76" rx="1.8" ry="3.0" transform="rotate(92.93 70.72 174.76)" fill="#e3eef9" stroke="#839fbd" stroke-width="1.1"/><ellipse cx="70.54" cy="178.25" rx="1.8" ry="3.0" transform="rotate(92.93 70.54 178.25)" fill="#e3eef9" stroke="#839fbd" stroke-width="1.1"/><ellipse cx="70.36" cy="181.75" rx="1.8" ry="3.0" transform="rotate(92.93 70.36 181.75)" fill="#e3eef9" stroke="#839fbd" stroke-width="1.1"/><circle cx="72.18" cy="146.2" r="3.3" fill="url(#sO)"/><ellipse cx="67.87" cy="230.41" rx="1.8" ry="3.0" transform="rotate(-87.07 67.87 230.41)" fill="#e3eef9" stroke="#839fbd" stroke-width="1.1"/><ellipse cx="68.06" cy="226.61" rx="1.8" ry="3.0" transform="rotate(-87.07 68.06 226.61)" fill="#e3eef9" stroke="#839fbd" stroke-width="1.1"/><ellipse cx="68.45" cy="219.12" rx="2.1" ry="3.4" transform="rotate(-87.07 68.45 219.12)" fill="#e3eef9" stroke="#839fbd" stroke-width="1.1"/><ellipse cx="68.62" cy="215.63" rx="2.1" ry="3.4" transform="rotate(-87.07 68.62 215.63)" fill="#e3eef9" stroke="#839fbd" stroke-width="1.1"/><ellipse cx="68.8" cy="212.13" rx="2.1" ry="3.4" transform="rotate(-87.07 68.8 212.13)" fill="#e3eef9" stroke="#839fbd" stroke-width="1.1"/><ellipse cx="69.08" cy="206.64" rx="1.8" ry="3.0" transform="rotate(-87.07 69.08 206.64)" fill="#e3eef9" stroke="#839fbd" stroke-width="1.1"/><ellipse cx="69.26" cy="203.15" rx="1.8" ry="3.0" transform="rotate(-87.07 69.26 203.15)" fill="#e3eef9" stroke="#839fbd" stroke-width="1.1"/><ellipse cx="69.44" cy="199.65" rx="1.8" ry="3.0" transform="rotate(-87.07 69.44 199.65)" fill="#e3eef9" stroke="#839fbd" stroke-width="1.1"/><circle cx="67.62" cy="235.2" r="3.3" fill="url(#sO)"/><circle cx="65.4" cy="186.8" r="3.4" fill="url(#sSe)"/><circle cx="73.4" cy="187.8" r="3.2" fill="url(#sSe)"/><circle cx="69.4" cy="182.8" r="2.6" fill="url(#sC)"/><circle cx="70.4" cy="191.8" r="2.6" fill="url(#sC)"/>
<circle cx="183" cy="191.8" r="6" fill="url(#sFA)"/><line x1="131.9" y1="186.8" x2="227.3" y2="186.8" stroke="#9fb5cf" stroke-width="3.4"/><line x1="131.9" y1="186.8" x2="227.3" y2="186.8" stroke="#dbe7f4" stroke-width="1.6"/><ellipse cx="139.1" cy="186.8" rx="1.8" ry="3.0" transform="rotate(0 139.1 186.8)" fill="#e3eef9" stroke="#839fbd" stroke-width="1.1"/><ellipse cx="142.9" cy="186.8" rx="1.8" ry="3.0" transform="rotate(0 142.9 186.8)" fill="#e3eef9" stroke="#839fbd" stroke-width="1.1"/><ellipse cx="150.4" cy="186.8" rx="2.1" ry="3.4" transform="rotate(0 150.4 186.8)" fill="#e3eef9" stroke="#839fbd" stroke-width="1.1"/><ellipse cx="153.9" cy="186.8" rx="2.1" ry="3.4" transform="rotate(0 153.9 186.8)" fill="#e3eef9" stroke="#839fbd" stroke-width="1.1"/><ellipse cx="157.4" cy="186.8" rx="2.1" ry="3.4" transform="rotate(0 157.4 186.8)" fill="#e3eef9" stroke="#839fbd" stroke-width="1.1"/><ellipse cx="162.9" cy="186.8" rx="1.8" ry="3.0" transform="rotate(0 162.9 186.8)" fill="#e3eef9" stroke="#839fbd" stroke-width="1.1"/><ellipse cx="166.4" cy="186.8" rx="1.8" ry="3.0" transform="rotate(0 166.4 186.8)" fill="#e3eef9" stroke="#839fbd" stroke-width="1.1"/><ellipse cx="169.9" cy="186.8" rx="1.8" ry="3.0" transform="rotate(0 169.9 186.8)" fill="#e3eef9" stroke="#839fbd" stroke-width="1.1"/><circle cx="134.3" cy="186.8" r="3.3" fill="url(#sO)"/><ellipse cx="220.1" cy="186.8" rx="1.8" ry="3.0" transform="rotate(-180 220.1 186.8)" fill="#e3eef9" stroke="#839fbd" stroke-width="1.1"/><ellipse cx="216.3" cy="186.8" rx="1.8" ry="3.0" transform="rotate(-180 216.3 186.8)" fill="#e3eef9" stroke="#839fbd" stroke-width="1.1"/><ellipse cx="208.8" cy="186.8" rx="2.1" ry="3.4" transform="rotate(-180 208.8 186.8)" fill="#e3eef9" stroke="#839fbd" stroke-width="1.1"/><ellipse cx="205.3" cy="186.8" rx="2.1" ry="3.4" transform="rotate(-180 205.3 186.8)" fill="#e3eef9" stroke="#839fbd" stroke-width="1.1"/><ellipse cx="201.8" cy="186.8" rx="2.1" ry="3.4" transform="rotate(-180 201.8 186.8)" fill="#e3eef9" stroke="#839fbd" stroke-width="1.1"/><ellipse cx="196.3" cy="186.8" rx="1.8" ry="3.0" transform="rotate(-180 196.3 186.8)" fill="#e3eef9" stroke="#839fbd" stroke-width="1.1"/><ellipse cx="192.8" cy="186.8" rx="1.8" ry="3.0" transform="rotate(-180 192.8 186.8)" fill="#e3eef9" stroke="#839fbd" stroke-width="1.1"/><ellipse cx="189.3" cy="186.8" rx="1.8" ry="3.0" transform="rotate(-180 189.3 186.8)" fill="#e3eef9" stroke="#839fbd" stroke-width="1.1"/><circle cx="224.9" cy="186.8" r="3.3" fill="url(#sO)"/><line x1="183.6" y1="143.8" x2="188.4" y2="237.6" stroke="#9fb5cf" stroke-width="3.4"/><line x1="183.6" y1="143.8" x2="188.4" y2="237.6" stroke="#dbe7f4" stroke-width="1.6"/><ellipse cx="183.97" cy="150.99" rx="1.8" ry="3.0" transform="rotate(87.07 183.97 150.99)" fill="#e3eef9" stroke="#839fbd" stroke-width="1.1"/><ellipse cx="184.16" cy="154.79" rx="1.8" ry="3.0" transform="rotate(87.07 184.16 154.79)" fill="#e3eef9" stroke="#839fbd" stroke-width="1.1"/><ellipse cx="184.55" cy="162.28" rx="2.1" ry="3.4" transform="rotate(87.07 184.55 162.28)" fill="#e3eef9" stroke="#839fbd" stroke-width="1.1"/><ellipse cx="184.72" cy="165.77" rx="2.1" ry="3.4" transform="rotate(87.07 184.72 165.77)" fill="#e3eef9" stroke="#839fbd" stroke-width="1.1"/><ellipse cx="184.9" cy="169.27" rx="2.1" ry="3.4" transform="rotate(87.07 184.9 169.27)" fill="#e3eef9" stroke="#839fbd" stroke-width="1.1"/><ellipse cx="185.18" cy="174.76" rx="1.8" ry="3.0" transform="rotate(87.07 185.18 174.76)" fill="#e3eef9" stroke="#839fbd" stroke-width="1.1"/><ellipse cx="185.36" cy="178.25" rx="1.8" ry="3.0" transform="rotate(87.07 185.36 178.25)" fill="#e3eef9" stroke="#839fbd" stroke-width="1.1"/><ellipse cx="185.54" cy="181.75" rx="1.8" ry="3.0" transform="rotate(87.07 185.54 181.75)" fill="#e3eef9" stroke="#839fbd" stroke-width="1.1"/><circle cx="183.72" cy="146.2" r="3.3" fill="url(#sO)"/><ellipse cx="188.03" cy="230.41" rx="1.8" ry="3.0" transform="rotate(-92.93 188.03 230.41)" fill="#e3eef9" stroke="#839fbd" stroke-width="1.1"/><ellipse cx="187.84" cy="226.61" rx="1.8" ry="3.0" transform="rotate(-92.93 187.84 226.61)" fill="#e3eef9" stroke="#839fbd" stroke-width="1.1"/><ellipse cx="187.45" cy="219.12" rx="2.1" ry="3.4" transform="rotate(-92.93 187.45 219.12)" fill="#e3eef9" stroke="#839fbd" stroke-width="1.1"/><ellipse cx="187.28" cy="215.63" rx="2.1" ry="3.4" transform="rotate(-92.93 187.28 215.63)" fill="#e3eef9" stroke="#839fbd" stroke-width="1.1"/><ellipse cx="187.1" cy="212.13" rx="2.1" ry="3.4" transform="rotate(-92.93 187.1 212.13)" fill="#e3eef9" stroke="#839fbd" stroke-width="1.1"/><ellipse cx="186.82" cy="206.64" rx="1.8" ry="3.0" transform="rotate(-92.93 186.82 206.64)" fill="#e3eef9" stroke="#839fbd" stroke-width="1.1"/><ellipse cx="186.64" cy="203.15" rx="1.8" ry="3.0" transform="rotate(-92.93 186.64 203.15)" fill="#e3eef9" stroke="#839fbd" stroke-width="1.1"/><ellipse cx="186.46" cy="199.65" rx="1.8" ry="3.0" transform="rotate(-92.93 186.46 199.65)" fill="#e3eef9" stroke="#839fbd" stroke-width="1.1"/><circle cx="188.28" cy="235.2" r="3.3" fill="url(#sO)"/><circle cx="181.5" cy="186.8" r="3.4" fill="url(#sSe)"/><circle cx="189.5" cy="187.8" r="3.2" fill="url(#sSe)"/><circle cx="185.5" cy="182.8" r="2.6" fill="url(#sC)"/><circle cx="186.5" cy="191.8" r="2.6" fill="url(#sC)"/>
<circle cx="297" cy="194.3" r="6" fill="url(#sFA)"/><line x1="249.5" y1="188.3" x2="345" y2="188.3" stroke="#9fb5cf" stroke-width="3.4"/><line x1="249.5" y1="188.3" x2="345" y2="188.3" stroke="#dbe7f4" stroke-width="1.6"/><ellipse cx="256.7" cy="188.3" rx="1.8" ry="3.0" transform="rotate(0 256.7 188.3)" fill="#e3eef9" stroke="#839fbd" stroke-width="1.1"/><ellipse cx="260.5" cy="188.3" rx="1.8" ry="3.0" transform="rotate(0 260.5 188.3)" fill="#e3eef9" stroke="#839fbd" stroke-width="1.1"/><ellipse cx="268" cy="188.3" rx="2.1" ry="3.4" transform="rotate(0 268 188.3)" fill="#e3eef9" stroke="#839fbd" stroke-width="1.1"/><ellipse cx="271.5" cy="188.3" rx="2.1" ry="3.4" transform="rotate(0 271.5 188.3)" fill="#e3eef9" stroke="#839fbd" stroke-width="1.1"/><ellipse cx="275" cy="188.3" rx="2.1" ry="3.4" transform="rotate(0 275 188.3)" fill="#e3eef9" stroke="#839fbd" stroke-width="1.1"/><ellipse cx="280.5" cy="188.3" rx="1.8" ry="3.0" transform="rotate(0 280.5 188.3)" fill="#e3eef9" stroke="#839fbd" stroke-width="1.1"/><ellipse cx="284" cy="188.3" rx="1.8" ry="3.0" transform="rotate(0 284 188.3)" fill="#e3eef9" stroke="#839fbd" stroke-width="1.1"/><ellipse cx="287.5" cy="188.3" rx="1.8" ry="3.0" transform="rotate(0 287.5 188.3)" fill="#e3eef9" stroke="#839fbd" stroke-width="1.1"/><circle cx="251.9" cy="188.3" r="3.3" fill="url(#sO)"/><ellipse cx="337.8" cy="188.3" rx="1.8" ry="3.0" transform="rotate(-180 337.8 188.3)" fill="#e3eef9" stroke="#839fbd" stroke-width="1.1"/><ellipse cx="334" cy="188.3" rx="1.8" ry="3.0" transform="rotate(-180 334 188.3)" fill="#e3eef9" stroke="#839fbd" stroke-width="1.1"/><ellipse cx="326.5" cy="188.3" rx="2.1" ry="3.4" transform="rotate(-180 326.5 188.3)" fill="#e3eef9" stroke="#839fbd" stroke-width="1.1"/><ellipse cx="323" cy="188.3" rx="2.1" ry="3.4" transform="rotate(-180 323 188.3)" fill="#e3eef9" stroke="#839fbd" stroke-width="1.1"/><ellipse cx="319.5" cy="188.3" rx="2.1" ry="3.4" transform="rotate(-180 319.5 188.3)" fill="#e3eef9" stroke="#839fbd" stroke-width="1.1"/><ellipse cx="314" cy="188.3" rx="1.8" ry="3.0" transform="rotate(-180 314 188.3)" fill="#e3eef9" stroke="#839fbd" stroke-width="1.1"/><ellipse cx="310.5" cy="188.3" rx="1.8" ry="3.0" transform="rotate(-180 310.5 188.3)" fill="#e3eef9" stroke="#839fbd" stroke-width="1.1"/><ellipse cx="307" cy="188.3" rx="1.8" ry="3.0" transform="rotate(-180 307 188.3)" fill="#e3eef9" stroke="#839fbd" stroke-width="1.1"/><circle cx="342.6" cy="188.3" r="3.3" fill="url(#sO)"/><line x1="298.8" y1="145.4" x2="305.2" y2="239.2" stroke="#9fb5cf" stroke-width="3.4"/><line x1="298.8" y1="145.4" x2="305.2" y2="239.2" stroke="#dbe7f4" stroke-width="1.6"/><ellipse cx="299.29" cy="152.58" rx="1.8" ry="3.0" transform="rotate(86.1 299.29 152.58)" fill="#e3eef9" stroke="#839fbd" stroke-width="1.1"/><ellipse cx="299.55" cy="156.37" rx="1.8" ry="3.0" transform="rotate(86.1 299.55 156.37)" fill="#e3eef9" stroke="#839fbd" stroke-width="1.1"/><ellipse cx="300.06" cy="163.86" rx="2.1" ry="3.4" transform="rotate(86.1 300.06 163.86)" fill="#e3eef9" stroke="#839fbd" stroke-width="1.1"/><ellipse cx="300.3" cy="167.35" rx="2.1" ry="3.4" transform="rotate(86.1 300.3 167.35)" fill="#e3eef9" stroke="#839fbd" stroke-width="1.1"/><ellipse cx="300.54" cy="170.84" rx="2.1" ry="3.4" transform="rotate(86.1 300.54 170.84)" fill="#e3eef9" stroke="#839fbd" stroke-width="1.1"/><ellipse cx="300.91" cy="176.33" rx="1.8" ry="3.0" transform="rotate(86.1 300.91 176.33)" fill="#e3eef9" stroke="#839fbd" stroke-width="1.1"/><ellipse cx="301.15" cy="179.82" rx="1.8" ry="3.0" transform="rotate(86.1 301.15 179.82)" fill="#e3eef9" stroke="#839fbd" stroke-width="1.1"/><ellipse cx="301.39" cy="183.31" rx="1.8" ry="3.0" transform="rotate(86.1 301.39 183.31)" fill="#e3eef9" stroke="#839fbd" stroke-width="1.1"/><circle cx="298.96" cy="147.79" r="3.3" fill="url(#sO)"/><ellipse cx="304.71" cy="232.02" rx="1.8" ry="3.0" transform="rotate(-93.9 304.71 232.02)" fill="#e3eef9" stroke="#839fbd" stroke-width="1.1"/><ellipse cx="304.45" cy="228.23" rx="1.8" ry="3.0" transform="rotate(-93.9 304.45 228.23)" fill="#e3eef9" stroke="#839fbd" stroke-width="1.1"/><ellipse cx="303.94" cy="220.74" rx="2.1" ry="3.4" transform="rotate(-93.9 303.94 220.74)" fill="#e3eef9" stroke="#839fbd" stroke-width="1.1"/><ellipse cx="303.7" cy="217.25" rx="2.1" ry="3.4" transform="rotate(-93.9 303.7 217.25)" fill="#e3eef9" stroke="#839fbd" stroke-width="1.1"/><ellipse cx="303.46" cy="213.76" rx="2.1" ry="3.4" transform="rotate(-93.9 303.46 213.76)" fill="#e3eef9" stroke="#839fbd" stroke-width="1.1"/><ellipse cx="303.09" cy="208.27" rx="1.8" ry="3.0" transform="rotate(-93.9 303.09 208.27)" fill="#e3eef9" stroke="#839fbd" stroke-width="1.1"/><ellipse cx="302.85" cy="204.78" rx="1.8" ry="3.0" transform="rotate(-93.9 302.85 204.78)" fill="#e3eef9" stroke="#839fbd" stroke-width="1.1"/><ellipse cx="302.61" cy="201.29" rx="1.8" ry="3.0" transform="rotate(-93.9 302.61 201.29)" fill="#e3eef9" stroke="#839fbd" stroke-width="1.1"/><circle cx="305.04" cy="236.81" r="3.3" fill="url(#sO)"/><circle cx="297.5" cy="188.3" r="3.4" fill="url(#sSe)"/><circle cx="305.5" cy="189.3" r="3.2" fill="url(#sSe)"/><circle cx="301.5" cy="184.3" r="2.6" fill="url(#sC)"/><circle cx="302.5" cy="193.3" r="2.6" fill="url(#sC)"/>
<path d="M130.5,74 Q130,57 119,53.5" fill="none" stroke="#111" stroke-width="1.2"/><polygon points="117.5,53 121.66,56.81 123,51.78" fill="#111"/><text x="131" y="61" font-family='"Liberation Sans", sans-serif' font-weight="bold" font-size="10" fill="#111">e<tspan dy="-3.8" font-size="6.5">-</tspan></text>
<path d="M243,63.5 Q250,52 264,55" fill="none" stroke="#111" stroke-width="1.2"/><polygon points="267,56 263.19,51.85 261.41,56.73" fill="#111"/><text x="243" y="51" font-family='"Liberation Sans", sans-serif' font-weight="bold" font-size="10" fill="#111">e<tspan dy="-3.8" font-size="6.5">-</tspan></text>
<path d="M71.5,117.5 Q58,117 52,127" fill="none" stroke="#111" stroke-width="1.2"/><polygon points="51,129 55.47,125.57 50.76,123.37" fill="#111"/><text x="57" y="114.5" font-family='"Liberation Sans", sans-serif' font-weight="bold" font-size="10" fill="#111">e<tspan dy="-3.8" font-size="6.5">-</tspan></text>
<path d="M306.5,127 Q316,126 318,107" fill="none" stroke="#111" stroke-width="1.2"/><polygon points="318,104 314.97,108.75 320.15,109.21" fill="#111"/><text x="316" y="124.5" font-family='"Liberation Sans", sans-serif' font-weight="bold" font-size="10" fill="#111">e<tspan dy="-3.8" font-size="6.5">-</tspan></text>
<path d="M137,139.5 Q153,141 154.5,154" fill="none" stroke="#111" stroke-width="1.2"/><polygon points="155,157 157.42,151.91 152.23,152.09" fill="#111"/><text x="150" y="143" font-family='"Liberation Sans", sans-serif' font-weight="bold" font-size="10" fill="#111">e<tspan dy="-3.8" font-size="6.5">-</tspan></text>
<path d="M240,191 Q243,203 252,206" fill="none" stroke="#111" stroke-width="1.2"/><polygon points="255,207.5 251.19,203.35 249.41,208.23" fill="#111"/><text x="230" y="204" font-family='"Liberation Sans", sans-serif' font-weight="bold" font-size="10" fill="#111">e<tspan dy="-3.8" font-size="6.5">-</tspan></text>
<circle cx="88.8" cy="263.4" r="4.4" fill="url(#sFA)"/>
<text x="97.3" y="267.8" font-family='"Liberation Sans", sans-serif' font-weight="bold" font-size="13.4" fill="#111">FA / MA</text>
<circle cx="164.5" cy="263.4" r="4.4" fill="url(#sPbL)"/>
<text x="168.6" y="267.8" font-family='"Liberation Sans", sans-serif' font-weight="bold" font-size="13.4" fill="#111">Pb</text>
<circle cx="202.8" cy="263.4" r="4.4" fill="url(#sSeL)"/>
<text x="206.8" y="267.8" font-family='"Liberation Sans", sans-serif' font-weight="bold" font-size="13.4" fill="#111">Se</text>
<circle cx="240.9" cy="263.4" r="4.2" fill="url(#sOL)"/>
<text x="245.6" y="267.8" font-family='"Liberation Sans", sans-serif' font-weight="bold" font-size="13.4" fill="#111">O</text>
<circle cx="275.5" cy="263.4" r="3.2" fill="url(#sI)"/>
<text x="279.8" y="267.8" font-family='"Liberation Sans", sans-serif' font-weight="bold" font-size="13.4" fill="#111">I</text>
<rect x="746.1" y="0" width="418" height="590.1" fill="#abe2c9"/>
<pattern id="wm" x="750" y="2" width="24.5" height="24.5" patternUnits="userSpaceOnUse"><g fill="none" stroke="#b7e9d2" stroke-width="1.5" stroke-linecap="round" opacity="0.75"><path d="M4,9 Q8,5 13,7"/><path d="M5,13 Q9,11 12,13"/><path d="M4,17 L10,15"/></g></pattern>
<rect x="746.1" y="0" width="418" height="590.1" fill="url(#wm)"/>
<rect x="746.1" y="0" width="418" height="1.4" fill="#bdeed8"/>
<rect x="746.1" y="0" width="2.2" height="590.1" fill="#a4d6bd"/>
<rect x="746.1" y="588.4" width="418" height="1.7" fill="#a4d6bd"/>
<path d="M853.54,33.91 A25.8,14.1 0 0 1 866.28,59.01 M834.87,59.16 A25.8,14.1 0 0 1 847.26,33.91" fill="none" stroke="#3e5ba9" stroke-width="2.2" transform="rotate(-4 850.4 47.9)"/>
<path d="M846.3,32 L849.6,34.6 L846.3,37.2 M854.3,32 L851,34.6 L854.3,37.2" fill="none" stroke="#3e5ba9" stroke-width="1.6"/>
<text x="835.4" y="66.2" font-family='"Liberation Serif", serif' font-size="14.5" font-style="italic" font-weight="bold" fill="#3e5ba9" textLength="31" lengthAdjust="spacingAndGlyphs">SCM</text>
<text x="891.3" y="36" font-family='"Liberation Sans", "Noto Sans CJK SC", sans-serif' font-size="9.5" fill="#3f5eae" font-weight="bold" textLength="188.5" lengthAdjust="spacingAndGlyphs">华南国家计量测试中心</text>
<text x="891.3" y="48.4" font-family='"Liberation Sans", "Noto Sans CJK SC", sans-serif' font-size="9.5" fill="#3f5eae" font-weight="bold" textLength="188.5" lengthAdjust="spacingAndGlyphs">广东省计量科学研究院</text>
<text x="883.9" y="60.8" font-family='"Liberation Serif", serif' font-size="8.9" fill="#3e5ba9" font-weight="bold" textLength="203.4" lengthAdjust="spacingAndGlyphs">SOUTH CHINA NATIONAL CENTER OF METROLOGY</text>
<text x="902.3" y="70.4" font-family='"Liberation Serif", serif' font-size="8.9" fill="#3e5ba9" font-weight="bold" textLength="166.3" lengthAdjust="spacingAndGlyphs">GUANGDONG INSTITUTE OF METROLOGY</text>
<text x="909.2" y="101.6" font-family='"Liberation Serif", "Noto Serif CJK SC", serif' font-size="15.2" fill="#1c2420" letter-spacing="10.2">校准结果</text>
<text x="894" y="114.8" font-family='"Liberation Serif", serif' font-size="11.2" fill="#1a2620" textLength="126.3" lengthAdjust="spacingAndGlyphs" stroke="#1a2620" stroke-width="0.15">RESULTS OF CALIBRATION</text>
<text x="784.8" y="131.6" font-family='"Liberation Serif", "Noto Serif CJK SC", serif' font-size="7.6" fill="#1f2b25" textLength="80" lengthAdjust="spacingAndGlyphs" stroke="#1f2b25" stroke-width="0.18">证书编号 NYX202400073</text>
<text x="784.2" y="141.5" font-family='"Liberation Mono", "Noto Serif CJK SC", monospace' font-size="8.4" fill="#1f2b25" textLength="56" lengthAdjust="spacingAndGlyphs" stroke="#1f2b25" stroke-width="0.18">Certificate No.</text>
<text x="911.3" y="130.6" font-family='"Liberation Serif", "Noto Serif CJK SC", serif' font-size="7.6" fill="#1f2b25" textLength="88.3" lengthAdjust="spacingAndGlyphs" stroke="#1f2b25" stroke-width="0.18">原始记录号 NYX202400073</text>
<text x="914.8" y="140" font-family='"Liberation Mono", "Noto Serif CJK SC", monospace' font-size="8.4" fill="#1f2b25" textLength="36" lengthAdjust="spacingAndGlyphs" stroke="#1f2b25" stroke-width="0.18">Record No.</text>
<text x="1068.9" y="132" font-family='"Liberation Serif", "Noto Serif CJK SC", serif' font-size="7.6" fill="#1f2b25" textLength="56.8" lengthAdjust="spacingAndGlyphs" stroke="#1f2b25" stroke-width="0.18">第 3 页,共 4 页</text>
<text x="1064.1" y="141.3" font-family='"Liberation Mono", "Noto Serif CJK SC", monospace' font-size="8.4" fill="#1f2b25" textLength="34.6" lengthAdjust="spacingAndGlyphs" stroke="#1f2b25" stroke-width="0.18">Page &#160;&#160;&#160; of</text>
<line x1="783.8" y1="147.1" x2="1125.1" y2="147.1" stroke="#55776a" stroke-width="0.75"/>
<text x="793.7" y="157.3" font-family='"Liberation Serif", "Noto Serif CJK SC", serif' font-size="7.2" fill="#1f2b25" textLength="79" lengthAdjust="spacingAndGlyphs" stroke="#1f2b25" stroke-width="0.18">一、外观检查：&#160;&#160;符合要求</text>
<text x="793.7" y="168.2" font-family='"Liberation Serif", "Noto Serif CJK SC", serif' font-size="7.6" fill="#1f2b25" textLength="65.8" lengthAdjust="spacingAndGlyphs" stroke="#1f2b25" stroke-width="0.18">Apparent Inspecti Pass.</text>
<text x="793.7" y="188.9" font-family='"Liberation Serif", "Noto Serif CJK SC", serif' font-size="7.2" fill="#1f2b25" textLength="44.3" lengthAdjust="spacingAndGlyphs" stroke="#1f2b25" stroke-width="0.18">二、测试条件：</text>
<text x="863.9" y="188.9" font-family='"Liberation Serif", "Noto Serif CJK SC", serif' font-size="7.2" fill="#1f2b25" textLength="107.6" lengthAdjust="spacingAndGlyphs" stroke="#1f2b25" stroke-width="0.18">温度(25±2)℃；辐照度1000W/m²。</text>
<text x="793.7" y="199.9" font-family='"Liberation Serif", "Noto Serif CJK SC", serif' font-size="7.3" fill="#1f2b25" textLength="191.7" lengthAdjust="spacingAndGlyphs" stroke="#1f2b25" stroke-width="0.18">Test conditions:&#160;&#160;&#160;Temperature: (25±2)℃；Irradiance：&#160;1000W/m².</text>
<text x="793.8" y="216.4" font-family='"Liberation Serif", "Noto Serif CJK SC", serif' font-size="7.2" fill="#1f2b25" textLength="62.2" lengthAdjust="spacingAndGlyphs" stroke="#1f2b25" stroke-width="0.18">三、电流-电压曲线：</text>
<text x="793.8" y="226.3" font-family='"Liberation Serif", "Noto Serif CJK SC", serif' font-size="7.6" fill="#1f2b25" textLength="38.4" lengthAdjust="spacingAndGlyphs" stroke="#1f2b25" stroke-width="0.18">The IV curve:</text>
<rect x="820.8" y="229" width="250.1" height="177.8" fill="#ffffff"/>
<g stroke="#333" stroke-width="0.8"><line x1="851.7" y1="376" x2="851.7" y2="373"/><line x1="866.09" y1="376" x2="866.09" y2="374.2"/><line x1="880.48" y1="376" x2="880.48" y2="373"/><line x1="894.87" y1="376" x2="894.87" y2="374.2"/><line x1="909.26" y1="376" x2="909.26" y2="373"/><line x1="923.65" y1="376" x2="923.65" y2="374.2"/><line x1="938.04" y1="376" x2="938.04" y2="373"/><line x1="952.43" y1="376" x2="952.43" y2="374.2"/><line x1="966.82" y1="376" x2="966.82" y2="373"/><line x1="981.21" y1="376" x2="981.21" y2="374.2"/><line x1="995.6" y1="376" x2="995.6" y2="373"/><line x1="1009.99" y1="376" x2="1009.99" y2="374.2"/><line x1="1024.38" y1="376" x2="1024.38" y2="373"/><line x1="1038.77" y1="376" x2="1038.77" y2="374.2"/><line x1="851.7" y1="376" x2="854.7" y2="376"/><line x1="1039.1" y1="376" x2="1036.1" y2="376"/><line x1="851.7" y1="370.41" x2="853.3" y2="370.41"/><line x1="1039.1" y1="370.41" x2="1037.5" y2="370.41"/><line x1="851.7" y1="364.82" x2="853.3" y2="364.82"/><line x1="1039.1" y1="364.82" x2="1037.5" y2="364.82"/><line x1="851.7" y1="359.22" x2="853.3" y2="359.22"/><line x1="1039.1" y1="359.22" x2="1037.5" y2="359.22"/><line x1="851.7" y1="353.63" x2="853.3" y2="353.63"/><line x1="1039.1" y1="353.63" x2="1037.5" y2="353.63"/><line x1="851.7" y1="348.04" x2="854.7" y2="348.04"/><line x1="1039.1" y1="348.04" x2="1036.1" y2="348.04"/><line x1="851.7" y1="342.45" x2="853.3" y2="342.45"/><line x1="1039.1" y1="342.45" x2="1037.5" y2="342.45"/><line x1="851.7" y1="336.86" x2="853.3" y2="336.86"/><line x1="1039.1" y1="336.86" x2="1037.5" y2="336.86"/><line x1="851.7" y1="331.26" x2="853.3" y2="331.26"/><line x1="1039.1" y1="331.26" x2="1037.5" y2="331.26"/><line x1="851.7" y1="325.67" x2="853.3" y2="325.67"/><line x1="1039.1" y1="325.67" x2="1037.5" y2="325.67"/><line x1="851.7" y1="320.08" x2="854.7" y2="320.08"/><line x1="1039.1" y1="320.08" x2="1036.1" y2="320.08"/><line x1="851.7" y1="314.49" x2="853.3" y2="314.49"/><line x1="1039.1" y1="314.49" x2="1037.5" y2="314.49"/><line x1="851.7" y1="308.9" x2="853.3" y2="308.9"/><line x1="1039.1" y1="308.9" x2="1037.5" y2="308.9"/><line x1="851.7" y1="303.3" x2="853.3" y2="303.3"/><line x1="1039.1" y1="303.3" x2="1037.5" y2="303.3"/><line x1="851.7" y1="297.71" x2="853.3" y2="297.71"/><line x1="1039.1" y1="297.71" x2="1037.5" y2="297.71"/><line x1="851.7" y1="292.12" x2="854.7" y2="292.12"/><line x1="1039.1" y1="292.12" x2="1036.1" y2="292.12"/><line x1="851.7" y1="286.53" x2="853.3" y2="286.53"/><line x1="1039.1" y1="286.53" x2="1037.5" y2="286.53"/><line x1="851.7" y1="280.94" x2="853.3" y2="280.94"/><line x1="1039.1" y1="280.94" x2="1037.5" y2="280.94"/><line x1="851.7" y1="275.34" x2="853.3" y2="275.34"/><line x1="1039.1" y1="275.34" x2="1037.5" y2="275.34"/><line x1="851.7" y1="269.75" x2="853.3" y2="269.75"/><line x1="1039.1" y1="269.75" x2="1037.5" y2="269.75"/><line x1="851.7" y1="264.16" x2="854.7" y2="264.16"/><line x1="1039.1" y1="264.16" x2="1036.1" y2="264.16"/><line x1="851.7" y1="258.57" x2="853.3" y2="258.57"/><line x1="1039.1" y1="258.57" x2="1037.5" y2="258.57"/><line x1="851.7" y1="252.98" x2="853.3" y2="252.98"/><line x1="1039.1" y1="252.98" x2="1037.5" y2="252.98"/><line x1="851.7" y1="247.38" x2="853.3" y2="247.38"/><line x1="1039.1" y1="247.38" x2="1037.5" y2="247.38"/><line x1="851.7" y1="241.79" x2="853.3" y2="241.79"/><line x1="1039.1" y1="241.79" x2="1037.5" y2="241.79"/><line x1="851.7" y1="236.2" x2="854.7" y2="236.2"/><line x1="1039.1" y1="236.2" x2="1036.1" y2="236.2"/></g>
<rect x="851.7" y="236.2" width="187.4" height="139.8" fill="none" stroke="#333" stroke-width="1"/>
<text x="846.3" y="379.3" font-family='"Liberation Serif", "Noto Serif CJK SC", serif' font-size="9.6" fill="#333" text-anchor="end">0.0</text>
<text x="1045.8" y="379.3" font-family='"Liberation Serif", "Noto Serif CJK SC", serif' font-size="9.6" fill="#333">0.0</text>
<text x="846.3" y="351.34" font-family='"Liberation Serif", "Noto Serif CJK SC", serif' font-size="9.6" fill="#333" text-anchor="end">0.5</text>
<text x="1045.8" y="351.34" font-family='"Liberation Serif", "Noto Serif CJK SC", serif' font-size="9.6" fill="#333">0.5</text>
<text x="846.3" y="323.38" font-family='"Liberation Serif", "Noto Serif CJK SC", serif' font-size="9.6" fill="#333" text-anchor="end">1.0</text>
<text x="1045.8" y="323.38" font-family='"Liberation Serif", "Noto Serif CJK SC", serif' font-size="9.6" fill="#333">1.0</text>
<text x="846.3" y="295.42" font-family='"Liberation Serif", "Noto Serif CJK SC", serif' font-size="9.6" fill="#333" text-anchor="end">1.5</text>
<text x="1045.8" y="295.42" font-family='"Liberation Serif", "Noto Serif CJK SC", serif' font-size="9.6" fill="#333">1.5</text>
<text x="846.3" y="267.46" font-family='"Liberation Serif", "Noto Serif CJK SC", serif' font-size="9.6" fill="#333" text-anchor="end">2.0</text>
<text x="1045.8" y="267.46" font-family='"Liberation Serif", "Noto Serif CJK SC", serif' font-size="9.6" fill="#333">2.0</text>
<text x="846.3" y="239.5" font-family='"Liberation Serif", "Noto Serif CJK SC", serif' font-size="9.6" fill="#333" text-anchor="end">2.5</text>
<text x="1045.8" y="239.5" font-family='"Liberation Serif", "Noto Serif CJK SC", serif' font-size="9.6" fill="#333">2.5</text>
<text x="851.7" y="391" font-family='"Liberation Serif", "Noto Serif CJK SC", serif' font-size="9.6" fill="#333" text-anchor="middle">0</text>
<text x="880.48" y="391" font-family='"Liberation Serif", "Noto Serif CJK SC", serif' font-size="9.6" fill="#333" text-anchor="middle">0.2</text>
<text x="909.26" y="391" font-family='"Liberation Serif", "Noto Serif CJK SC", serif' font-size="9.6" fill="#333" text-anchor="middle">0.4</text>
<text x="938.04" y="391" font-family='"Liberation Serif", "Noto Serif CJK SC", serif' font-size="9.6" fill="#333" text-anchor="middle">0.6</text>
<text x="966.82" y="391" font-family='"Liberation Serif", "Noto Serif CJK SC", serif' font-size="9.6" fill="#333" text-anchor="middle">0.8</text>
<text x="995.6" y="391" font-family='"Liberation Serif", "Noto Serif CJK SC", serif' font-size="9.6" fill="#333" text-anchor="middle">1</text>
<text x="1024.38" y="391" font-family='"Liberation Serif", "Noto Serif CJK SC", serif' font-size="9.6" fill="#333" text-anchor="middle">1.2</text>
<text x="944.5" y="404.3" font-family='"Liberation Serif", "Noto Serif CJK SC", serif' font-size="9" fill="#444" text-anchor="middle">Voltage (V)</text>
<text transform="translate(830,308.5) rotate(-90)" text-anchor="middle" font-family='"Liberation Serif", "Noto Serif CJK SC", serif' font-size="8.6" fill="#444">Current (mA)</text>
<text transform="translate(1069.6,306.8) rotate(-90)" text-anchor="middle" font-family='"Liberation Serif", "Noto Serif CJK SC", serif' font-size="8.9" fill="#444">Power (mW)</text>
<polyline points="851.7,250.35 852.13,250.35 852.55,250.34 852.98,250.34 853.4,250.33 853.83,250.33 854.25,250.32 854.68,250.32 855.1,250.31 855.53,250.31 855.95,250.3 856.38,250.3 856.8,250.3 857.23,250.29 857.65,250.29 858.08,250.28 858.5,250.28 858.93,250.28 859.35,250.27 859.78,250.27 860.2,250.27 860.63,250.26 861.05,250.26 861.48,250.26 861.9,250.26 862.33,250.25 862.76,250.25 863.18,250.25 863.61,250.25 864.03,250.25 864.46,250.24 864.88,250.24 865.31,250.24 865.73,250.24 866.16,250.24 866.58,250.24 867.01,250.24 867.43,250.24 867.86,250.24 868.28,250.24 868.71,250.24 869.13,250.24 869.56,250.24 869.98,250.24 870.41,250.24 870.83,250.24 871.26,250.24 871.68,250.24 872.11,250.24 872.54,250.24 872.96,250.24 873.39,250.24 873.81,250.25 874.24,250.25 874.66,250.25 875.09,250.25 875.51,250.26 875.94,250.26 876.36,250.26 876.79,250.26 877.21,250.27 877.64,250.27 878.06,250.27 878.49,250.28 878.91,250.28 879.34,250.28 879.76,250.29 880.19,250.29 880.61,250.29 881.04,250.3 881.46,250.3 881.89,250.31 882.31,250.31 882.74,250.32 883.17,250.32 883.59,250.32 884.02,250.33 884.44,250.33 884.87,250.34 885.29,250.34 885.72,250.35 886.14,250.35 886.57,250.36 886.99,250.37 887.42,250.37 887.84,250.38 888.27,250.38 888.69,250.39 889.12,250.39 889.54,250.4 889.97,250.4 890.39,250.41 890.82,250.42 891.24,250.42 891.67,250.43 892.09,250.43 892.52,250.44 892.95,250.45 893.37,250.45 893.8,250.46 894.22,250.46 894.65,250.47 895.07,250.48 895.5,250.48 895.92,250.49 896.35,250.49 896.77,250.5 897.2,250.5 897.62,250.51 898.05,250.52 898.47,250.52 898.9,250.53 899.32,250.53 899.75,250.54 900.17,250.54 900.6,250.55 901.02,250.56 901.45,250.56 901.87,250.57 902.3,250.57 902.72,250.58 903.15,250.58 903.58,250.59 904,250.59 904.43,250.6 904.85,250.6 905.28,250.61 905.7,250.61 906.13,250.61 906.55,250.62 906.98,250.62 907.4,250.63 907.83,250.63 908.25,250.63 908.68,250.64 909.1,250.64 909.53,250.64 909.95,250.65 910.38,250.65 910.8,250.65 911.23,250.66 911.65,250.66 912.08,250.66 912.5,250.66 912.93,250.67 913.36,250.67 913.78,250.67 914.21,250.67 914.63,250.67 915.06,250.68 915.48,250.68 915.91,250.68 916.33,250.68 916.76,250.68 917.18,250.68 917.61,250.68 918.03,250.68 918.46,250.68 918.88,250.68 919.31,250.68 919.73,250.68 920.16,250.68 920.58,250.68 921.01,250.68 921.43,250.68 921.86,250.68 922.28,250.68 922.71,250.68 923.13,250.68 923.56,250.67 923.99,250.67 924.41,250.67 924.84,250.67 925.26,250.67 925.69,250.66 926.11,250.66 926.54,250.66 926.96,250.66 927.39,250.65 927.81,250.65 928.24,250.65 928.66,250.64 929.09,250.64 929.51,250.64 929.94,250.63 930.36,250.63 930.79,250.63 931.21,250.62 931.64,250.62 932.06,250.61 932.49,250.61 932.91,250.6 933.34,250.6 933.77,250.6 934.19,250.59 934.62,250.59 935.04,250.58 935.47,250.58 935.89,250.57 936.32,250.57 936.74,250.56 937.17,250.55 937.59,250.55 938.02,250.54 938.44,250.54 938.87,250.53 939.29,250.53 939.72,250.52 940.14,250.52 940.57,250.51 940.99,250.5 941.42,250.5 941.84,250.49 942.27,250.49 942.69,250.48 943.12,250.47 943.54,250.47 943.97,250.46 944.4,250.46 944.82,250.45 945.25,250.44 945.67,250.44 946.1,250.43 946.52,250.43 946.95,250.42 947.37,250.42 947.8,250.41 948.22,250.4 948.65,250.4 949.07,250.39 949.5,250.39 949.92,250.38 950.35,250.38 950.77,250.37 951.2,250.36 951.62,250.36 952.05,250.35 952.47,250.35 952.9,250.34 953.32,250.34 953.75,250.33 954.18,250.33 954.6,250.32 955.03,250.32 955.45,250.32 955.88,250.31 956.3,250.31 956.73,250.3 957.15,250.3 957.58,250.29 958,250.29 958.43,250.29 958.85,250.28 959.28,250.28 959.7,250.28 960.13,250.27 960.55,250.27 960.98,250.27 961.4,250.26 961.83,250.26 962.25,250.26 962.68,250.26 963.1,250.25 963.53,250.25 963.95,250.25 964.38,250.25 964.81,250.25 965.23,250.25 965.66,250.25 966.08,250.24 966.51,250.24 966.93,250.24 967.36,250.24 967.78,250.24 968.21,250.24 968.63,250.24 969.06,250.24 969.48,250.24 969.91,250.25 970.33,250.25 970.76,250.25 971.18,250.25 971.61,250.25 972.03,250.25 972.46,250.25 972.88,250.26 973.31,250.26 973.73,250.26 974.16,250.27 974.59,250.27 975.01,250.27 975.44,250.28 975.86,250.28 976.29,250.29 976.71,250.29 977.14,250.3 977.56,250.3 977.99,250.31 978.41,250.32 978.84,250.32 979.26,250.33 979.69,250.34 980.11,250.35 980.54,250.35 980.96,250.36 981.39,250.37 981.81,250.38 982.24,250.39 982.66,250.41 983.09,250.42 983.51,250.43 983.94,250.45 984.36,250.46 984.79,250.48 985.22,250.49 985.64,250.51 986.07,250.53 986.49,250.55 986.92,250.57 987.34,250.59 987.77,250.62 988.19,250.64 988.62,250.67 989.04,250.7 989.47,250.73 989.89,250.77 990.32,250.8 990.74,250.84 991.17,250.88 991.59,250.93 992.02,250.97 992.44,251.02 992.87,251.08 993.29,251.14 993.72,251.2 994.14,251.27 994.57,251.34 995,251.42 995.42,251.5 995.85,251.59 996.27,251.69 996.7,251.79 997.12,251.9 997.55,252.03 997.97,252.16 998.4,252.3 998.82,252.45 999.25,252.61 999.67,252.79 1000.1,252.98 1000.52,253.19 1000.95,253.41 1001.37,253.65 1001.8,253.91 1002.22,254.19 1002.65,254.49 1003.07,254.81 1003.5,255.17 1003.92,255.55 1004.35,255.96 1004.77,256.4 1005.2,256.89 1005.63,257.41 1006.05,257.97 1006.48,258.58 1006.9,259.23 1007.33,259.94 1007.75,260.71 1008.18,261.54 1008.6,262.44 1009.03,263.41 1009.45,264.46 1009.88,265.6 1010.3,266.83 1010.73,268.16 1011.15,269.6 1011.58,271.15 1012,272.84 1012.43,274.66 1012.85,276.63 1013.28,278.76 1013.7,281.06 1014.13,283.56 1014.55,286.26 1014.98,289.17 1015.41,292.33 1015.83,295.75 1016.26,299.45 1016.68,303.45 1017.11,307.77 1017.53,312.45 1017.96,317.52 1018.38,323 1018.81,328.93 1019.23,335.34 1019.66,342.28 1020.08,349.79 1020.51,357.92 1020.93,366.71 1021.36,376.22" fill="none" stroke="#4b7db5" stroke-width="1.4"/>
<polyline points="851.7,376 852.13,375.63 852.55,375.26 852.98,374.89 853.4,374.51 853.83,374.14 854.25,373.77 854.68,373.4 855.1,373.03 855.53,372.66 855.95,372.29 856.38,371.91 856.8,371.54 857.23,371.17 857.65,370.8 858.08,370.43 858.5,370.06 858.93,369.68 859.35,369.31 859.78,368.94 860.2,368.57 860.63,368.2 861.05,367.83 861.48,367.45 861.9,367.08 862.33,366.71 862.76,366.34 863.18,365.97 863.61,365.6 864.03,365.22 864.46,364.85 864.88,364.48 865.31,364.11 865.73,363.74 866.16,363.37 866.58,362.99 867.01,362.62 867.43,362.25 867.86,361.88 868.28,361.51 868.71,361.14 869.13,360.76 869.56,360.39 869.98,360.02 870.41,359.65 870.83,359.28 871.26,358.91 871.68,358.53 872.11,358.16 872.54,357.79 872.96,357.42 873.39,357.05 873.81,356.68 874.24,356.31 874.66,355.93 875.09,355.56 875.51,355.19 875.94,354.82 876.36,354.45 876.79,354.08 877.21,353.71 877.64,353.34 878.06,352.97 878.49,352.6 878.91,352.22 879.34,351.85 879.76,351.48 880.19,351.11 880.61,350.74 881.04,350.37 881.46,350 881.89,349.63 882.31,349.26 882.74,348.89 883.17,348.52 883.59,348.15 884.02,347.78 884.44,347.41 884.87,347.04 885.29,346.67 885.72,346.3 886.14,345.93 886.57,345.56 886.99,345.19 887.42,344.82 887.84,344.45 888.27,344.08 888.69,343.71 889.12,343.34 889.54,342.97 889.97,342.6 890.39,342.23 890.82,341.86 891.24,341.49 891.67,341.12 892.09,340.75 892.52,340.38 892.95,340.01 893.37,339.64 893.8,339.27 894.22,338.91 894.65,338.54 895.07,338.17 895.5,337.8 895.92,337.43 896.35,337.06 896.77,336.69 897.2,336.32 897.62,335.95 898.05,335.58 898.47,335.22 898.9,334.85 899.32,334.48 899.75,334.11 900.17,333.74 900.6,333.37 901.02,333 901.45,332.63 901.87,332.26 902.3,331.9 902.72,331.53 903.15,331.16 903.58,330.79 904,330.42 904.43,330.05 904.85,329.68 905.28,329.31 905.7,328.94 906.13,328.58 906.55,328.21 906.98,327.84 907.4,327.47 907.83,327.1 908.25,326.73 908.68,326.36 909.1,325.99 909.53,325.62 909.95,325.26 910.38,324.89 910.8,324.52 911.23,324.15 911.65,323.78 912.08,323.41 912.5,323.04 912.93,322.67 913.36,322.3 913.78,321.93 914.21,321.56 914.63,321.19 915.06,320.82 915.48,320.45 915.91,320.08 916.33,319.71 916.76,319.34 917.18,318.97 917.61,318.6 918.03,318.23 918.46,317.86 918.88,317.49 919.31,317.12 919.73,316.75 920.16,316.38 920.58,316.01 921.01,315.64 921.43,315.27 921.86,314.9 922.28,314.53 922.71,314.16 923.13,313.79 923.56,313.42 923.99,313.04 924.41,312.67 924.84,312.3 925.26,311.93 925.69,311.56 926.11,311.19 926.54,310.82 926.96,310.44 927.39,310.07 927.81,309.7 928.24,309.33 928.66,308.96 929.09,308.58 929.51,308.21 929.94,307.84 930.36,307.47 930.79,307.09 931.21,306.72 931.64,306.35 932.06,305.97 932.49,305.6 932.91,305.23 933.34,304.86 933.77,304.48 934.19,304.11 934.62,303.74 935.04,303.36 935.47,302.99 935.89,302.62 936.32,302.24 936.74,301.87 937.17,301.49 937.59,301.12 938.02,300.75 938.44,300.37 938.87,300 939.29,299.62 939.72,299.25 940.14,298.88 940.57,298.5 940.99,298.13 941.42,297.75 941.84,297.38 942.27,297 942.69,296.63 943.12,296.25 943.54,295.88 943.97,295.5 944.4,295.13 944.82,294.75 945.25,294.38 945.67,294 946.1,293.63 946.52,293.25 946.95,292.88 947.37,292.5 947.8,292.13 948.22,291.76 948.65,291.38 949.07,291.01 949.5,290.63 949.92,290.26 950.35,289.88 950.77,289.51 951.2,289.13 951.62,288.76 952.05,288.38 952.47,288.01 952.9,287.63 953.32,287.26 953.75,286.88 954.18,286.51 954.6,286.13 955.03,285.76 955.45,285.38 955.88,285.01 956.3,284.63 956.73,284.26 957.15,283.88 957.58,283.51 958,283.14 958.43,282.76 958.85,282.39 959.28,282.01 959.7,281.64 960.13,281.27 960.55,280.89 960.98,280.52 961.4,280.14 961.83,279.77 962.25,279.4 962.68,279.02 963.1,278.65 963.53,278.28 963.95,277.9 964.38,277.53 964.81,277.16 965.23,276.79 965.66,276.41 966.08,276.04 966.51,275.67 966.93,275.3 967.36,274.93 967.78,274.55 968.21,274.18 968.63,273.81 969.06,273.44 969.48,273.07 969.91,272.7 970.33,272.33 970.76,271.96 971.18,271.59 971.61,271.22 972.03,270.85 972.46,270.48 972.88,270.11 973.31,269.74 973.73,269.37 974.16,269 974.59,268.63 975.01,268.26 975.44,267.89 975.86,267.53 976.29,267.16 976.71,266.79 977.14,266.43 977.56,266.06 977.99,265.69 978.41,265.33 978.84,264.96 979.26,264.6 979.69,264.23 980.11,263.87 980.54,263.51 980.96,263.14 981.39,262.78 981.81,262.42 982.24,262.06 982.66,261.7 983.09,261.34 983.51,260.98 983.94,260.62 984.36,260.26 984.79,259.91 985.22,259.55 985.64,259.2 986.07,258.84 986.49,258.49 986.92,258.14 987.34,257.79 987.77,257.44 988.19,257.1 988.62,256.75 989.04,256.41 989.47,256.07 989.89,255.73 990.32,255.4 990.74,255.06 991.17,254.73 991.59,254.41 992.02,254.08 992.44,253.76 992.87,253.45 993.29,253.14 993.72,252.83 994.14,252.53 994.57,252.23 995,251.94 995.42,251.66 995.85,251.38 996.27,251.11 996.7,250.85 997.12,250.59 997.55,250.35 997.97,250.11 998.4,249.89 998.82,249.68 999.25,249.48 999.67,249.3 1000.1,249.13 1000.52,248.98 1000.95,248.85 1001.37,248.74 1001.8,248.65 1002.22,248.58 1002.65,248.54 1003.07,248.52 1003.5,248.53 1003.92,248.58 1004.35,248.66 1004.77,248.78 1005.2,248.94 1005.63,249.14 1006.05,249.4 1006.48,249.7 1006.9,250.06 1007.33,250.49 1007.75,250.98 1008.18,251.54 1008.6,252.18 1009.03,252.91 1009.45,253.73 1009.88,254.65 1010.3,255.67 1010.73,256.82 1011.15,258.1 1011.58,259.51 1012,261.08 1012.43,262.81 1012.85,264.71 1013.28,266.81 1013.7,269.12 1014.13,271.65 1014.55,274.43 1014.98,277.48 1015.41,280.82 1015.83,284.47 1016.26,288.46 1016.68,292.82 1017.11,297.58 1017.53,302.77 1017.96,308.43 1018.38,314.61 1018.81,321.34 1019.23,328.67 1019.66,336.65 1020.08,345.34 1020.51,354.79 1020.93,365.07 1021.36,376.26" fill="none" stroke="#4b7db5" stroke-width="1.4"/>
<text x="793.4" y="420.9" font-family='"Liberation Serif", "Noto Serif CJK SC", serif' font-size="7.2" fill="#1f2b25" textLength="58.4" lengthAdjust="spacingAndGlyphs" stroke="#1f2b25" stroke-width="0.18">四、光电性能参数：</text>
<text x="793.4" y="431.9" font-family='"Liberation Serif", "Noto Serif CJK SC", serif' font-size="7.4" fill="#1f2b25" textLength="99.3" lengthAdjust="spacingAndGlyphs" stroke="#1f2b25" stroke-width="0.18">Results of&#160; photoelectric properties:</text>
<text x="943.8" y="443.6" font-family='"Liberation Serif", "Noto Serif CJK SC", serif' font-size="7.6" fill="#1f2b25" text-anchor="middle" textLength="36.5" lengthAdjust="spacingAndGlyphs" stroke="#1f2b25" stroke-width="0.18">表1(Table 1)</text>
<line x1="808" y1="445.9" x2="1094.2" y2="445.9" stroke="#1f2a24" stroke-width="1.1"/>
<line x1="808" y1="509.5" x2="1094.2" y2="509.5" stroke="#1f2a24" stroke-width="0.7"/>
<line x1="808" y1="520.3" x2="1094.2" y2="520.3" stroke="#1f2a24" stroke-width="1.1"/>
<text x="825.5" y="454.6" font-family='"Liberation Serif", "Noto Serif CJK SC", serif' font-size="7.2" fill="#1f2b25" text-anchor="middle" stroke="#1f2b25" stroke-width="0.18">短路电流</text>
<text x="862" y="454.6" font-family='"Liberation Serif", "Noto Serif CJK SC", serif' font-size="7.2" fill="#1f2b25" text-anchor="middle" stroke="#1f2b25" stroke-width="0.18">短路电流</text>
<text x="898.5" y="454.6" font-family='"Liberation Serif", "Noto Serif CJK SC", serif' font-size="7.2" fill="#1f2b25" text-anchor="middle" stroke="#1f2b25" stroke-width="0.18">开路电压</text>
<text x="933.6" y="454.6" font-family='"Liberation Serif", "Noto Serif CJK SC", serif' font-size="7.2" fill="#1f2b25" text-anchor="middle" stroke="#1f2b25" stroke-width="0.18">填充因子</text>
<text x="967.2" y="454.6" font-family='"Liberation Serif", "Noto Serif CJK SC", serif' font-size="7.2" fill="#1f2b25" text-anchor="middle" stroke="#1f2b25" stroke-width="0.18">最大功率</text>
<text x="1003.1" y="454.6" font-family='"Liberation Serif", "Noto Serif CJK SC", serif' font-size="7.2" fill="#1f2b25" text-anchor="middle" stroke="#1f2b25" stroke-width="0.18">最佳工作</text>
<text x="1041.1" y="454.6" font-family='"Liberation Serif", "Noto Serif CJK SC", serif' font-size="7.2" fill="#1f2b25" text-anchor="middle" stroke="#1f2b25" stroke-width="0.18">最佳工作电</text>
<text x="1077.3" y="454.6" font-family='"Liberation Serif", "Noto Serif CJK SC", serif' font-size="7.2" fill="#1f2b25" text-anchor="middle" stroke="#1f2b25" stroke-width="0.18">转换效率</text>
<text x="825.5" y="464" font-family='"Liberation Serif", "Noto Serif CJK SC", serif' font-size="7.2" fill="#1f2b25" text-anchor="middle" stroke="#1f2b25" stroke-width="0.18">密度<tspan font-style="italic">J</tspan><tspan font-size="4.5" dy="1.5">sc</tspan></text>
<text x="862" y="464" font-family='"Liberation Serif", "Noto Serif CJK SC", serif' font-size="7.2" fill="#1f2b25" text-anchor="middle" stroke="#1f2b25" stroke-width="0.18"><tspan font-style="italic">I</tspan><tspan font-size="4.5" dy="1.5">sc</tspan></text>
<text x="898.5" y="464" font-family='"Liberation Serif", "Noto Serif CJK SC", serif' font-size="7.2" fill="#1f2b25" text-anchor="middle" stroke="#1f2b25" stroke-width="0.18"><tspan font-style="italic">V</tspan><tspan font-size="4.5" dy="1.5">oc</tspan></text>
<text x="933.6" y="464" font-family='"Liberation Serif", "Noto Serif CJK SC", serif' font-size="7.2" fill="#1f2b25" text-anchor="middle" stroke="#1f2b25" stroke-width="0.18"><tspan font-style="italic">FF</tspan></text>
<text x="967.2" y="464" font-family='"Liberation Serif", "Noto Serif CJK SC", serif' font-size="7.2" fill="#1f2b25" text-anchor="middle" stroke="#1f2b25" stroke-width="0.18"><tspan font-style="italic">P</tspan><tspan font-size="4.5" dy="1.5">m</tspan></text>
<text x="1003.1" y="464" font-family='"Liberation Serif", "Noto Serif CJK SC", serif' font-size="7.2" fill="#1f2b25" text-anchor="middle" stroke="#1f2b25" stroke-width="0.18">电流<tspan font-style="italic">I</tspan><tspan font-size="4.5" dy="1.5">m</tspan></text>
<text x="1041.1" y="464" font-family='"Liberation Serif", "Noto Serif CJK SC", serif' font-size="7.2" fill="#1f2b25" text-anchor="middle" stroke="#1f2b25" stroke-width="0.18">压<tspan font-style="italic">V</tspan><tspan font-size="4.5" dy="1.5">m</tspan></text>
<text x="1077.3" y="464" font-family='"Liberation Serif", "Noto Serif CJK SC", serif' font-size="7.2" fill="#1f2b25" text-anchor="middle" stroke="#1f2b25" stroke-width="0.18"><tspan font-style="italic">η</tspan></text>
<text x="825.5" y="474.9" font-family='"Liberation Serif", "Noto Serif CJK SC", serif' font-size="7.4" fill="#1f2b25" text-anchor="middle" stroke="#1f2b25" stroke-width="0.18">Short ciruit</text>
<text x="825.5" y="484.3" font-family='"Liberation Serif", "Noto Serif CJK SC", serif' font-size="7.4" fill="#1f2b25" text-anchor="middle" stroke="#1f2b25" stroke-width="0.18">current</text>
<text x="825.5" y="493" font-family='"Liberation Serif", "Noto Serif CJK SC", serif' font-size="7.4" fill="#1f2b25" text-anchor="middle" stroke="#1f2b25" stroke-width="0.18">density</text>
<text x="862" y="479.1" font-family='"Liberation Serif", "Noto Serif CJK SC", serif' font-size="7.4" fill="#1f2b25" text-anchor="middle" stroke="#1f2b25" stroke-width="0.18">Short ciruit</text>
<text x="862" y="488.6" font-family='"Liberation Serif", "Noto Serif CJK SC", serif' font-size="7.4" fill="#1f2b25" text-anchor="middle" stroke="#1f2b25" stroke-width="0.18">current</text>
<text x="898.5" y="474.9" font-family='"Liberation Serif", "Noto Serif CJK SC", serif' font-size="7.4" fill="#1f2b25" text-anchor="middle" stroke="#1f2b25" stroke-width="0.18">Open</text>
<text x="898.5" y="484.3" font-family='"Liberation Serif", "Noto Serif CJK SC", serif' font-size="7.4" fill="#1f2b25" text-anchor="middle" stroke="#1f2b25" stroke-width="0.18">circuit</text>
<text x="898.5" y="493" font-family='"Liberation Serif", "Noto Serif CJK SC", serif' font-size="7.4" fill="#1f2b25" text-anchor="middle" stroke="#1f2b25" stroke-width="0.18">voltage</text>
<text x="933.6" y="484.3" font-family='"Liberation Serif", "Noto Serif CJK SC", serif' font-size="7.4" fill="#1f2b25" text-anchor="middle" stroke="#1f2b25" stroke-width="0.18">Fill factor</text>
<text x="967.2" y="479.1" font-family='"Liberation Serif", "Noto Serif CJK SC", serif' font-size="7.4" fill="#1f2b25" text-anchor="middle" stroke="#1f2b25" stroke-width="0.18">Maximum</text>
<text x="967.2" y="488.6" font-family='"Liberation Serif", "Noto Serif CJK SC", serif' font-size="7.4" fill="#1f2b25" text-anchor="middle" stroke="#1f2b25" stroke-width="0.18">power</text>
<text x="1003.1" y="474.9" font-family='"Liberation Serif", "Noto Serif CJK SC", serif' font-size="7.4" fill="#1f2b25" text-anchor="middle" stroke="#1f2b25" stroke-width="0.18">Optimum</text>
<text x="1003.1" y="484.3" font-family='"Liberation Serif", "Noto Serif CJK SC", serif' font-size="7.4" fill="#1f2b25" text-anchor="middle" stroke="#1f2b25" stroke-width="0.18">working</text>
<text x="1003.1" y="493" font-family='"Liberation Serif", "Noto Serif CJK SC", serif' font-size="7.4" fill="#1f2b25" text-anchor="middle" stroke="#1f2b25" stroke-width="0.18">current</text>
<text x="1041.1" y="474.9" font-family='"Liberation Serif", "Noto Serif CJK SC", serif' font-size="7.4" fill="#1f2b25" text-anchor="middle" stroke="#1f2b25" stroke-width="0.18">Optimum</text>
<text x="1041.1" y="484.3" font-family='"Liberation Serif", "Noto Serif CJK SC", serif' font-size="7.4" fill="#1f2b25" text-anchor="middle" stroke="#1f2b25" stroke-width="0.18">working</text>
<text x="1041.1" y="493" font-family='"Liberation Serif", "Noto Serif CJK SC", serif' font-size="7.4" fill="#1f2b25" text-anchor="middle" stroke="#1f2b25" stroke-width="0.18">voltage</text>
<text x="1077.3" y="484.3" font-family='"Liberation Serif", "Noto Serif CJK SC", serif' font-size="7.4" fill="#1f2b25" text-anchor="middle" stroke="#1f2b25" stroke-width="0.18">Efficiency</text>
<text x="825.5" y="504.8" font-family='"Liberation Serif", "Noto Serif CJK SC", serif' font-size="7.2" fill="#1f2b25" text-anchor="middle" stroke="#1f2b25" stroke-width="0.18">mA/cm<tspan font-size="4.5" dy="-2.5">2</tspan></text>
<text x="862" y="504.8" font-family='"Liberation Serif", "Noto Serif CJK SC", serif' font-size="7.2" fill="#1f2b25" text-anchor="middle" stroke="#1f2b25" stroke-width="0.18">mA</text>
<text x="898.5" y="504.8" font-family='"Liberation Serif", "Noto Serif CJK SC", serif' font-size="7.2" fill="#1f2b25" text-anchor="middle" stroke="#1f2b25" stroke-width="0.18">V</text>
<text x="933.6" y="504.8" font-family='"Liberation Serif", "Noto Serif CJK SC", serif' font-size="7.2" fill="#1f2b25" text-anchor="middle" stroke="#1f2b25" stroke-width="0.18">%</text>
<text x="967.2" y="504.8" font-family='"Liberation Serif", "Noto Serif CJK SC", serif' font-size="7.2" fill="#1f2b25" text-anchor="middle" stroke="#1f2b25" stroke-width="0.18">mW</text>
<text x="1003.1" y="504.8" font-family='"Liberation Serif", "Noto Serif CJK SC", serif' font-size="7.2" fill="#1f2b25" text-anchor="middle" stroke="#1f2b25" stroke-width="0.18">mA</text>
<text x="1041.1" y="504.8" font-family='"Liberation Serif", "Noto Serif CJK SC", serif' font-size="7.2" fill="#1f2b25" text-anchor="middle" stroke="#1f2b25" stroke-width="0.18">V</text>
<text x="1077.3" y="504.8" font-family='"Liberation Serif", "Noto Serif CJK SC", serif' font-size="7.2" fill="#1f2b25" text-anchor="middle" stroke="#1f2b25" stroke-width="0.18">%</text>
<text x="825.5" y="517.3" font-family='"Liberation Serif", "Noto Serif CJK SC", serif' font-size="7.4" fill="#1f2b25" text-anchor="middle" stroke="#1f2b25" stroke-width="0.18">25.02</text>
<text x="862" y="517.3" font-family='"Liberation Serif", "Noto Serif CJK SC", serif' font-size="7.4" fill="#1f2b25" text-anchor="middle" stroke="#1f2b25" stroke-width="0.18">2.244</text>
<text x="898.5" y="517.3" font-family='"Liberation Serif", "Noto Serif CJK SC", serif' font-size="7.4" fill="#1f2b25" text-anchor="middle" stroke="#1f2b25" stroke-width="0.18">1.178</text>
<text x="933.6" y="517.3" font-family='"Liberation Serif", "Noto Serif CJK SC", serif' font-size="7.4" fill="#1f2b25" text-anchor="middle" stroke="#1f2b25" stroke-width="0.18">86.3</text>
<text x="967.2" y="517.3" font-family='"Liberation Serif", "Noto Serif CJK SC", serif' font-size="7.4" fill="#1f2b25" text-anchor="middle" stroke="#1f2b25" stroke-width="0.18">2.281</text>
<text x="1003.1" y="517.3" font-family='"Liberation Serif", "Noto Serif CJK SC", serif' font-size="7.4" fill="#1f2b25" text-anchor="middle" stroke="#1f2b25" stroke-width="0.18">2.164</text>
<text x="1041.1" y="517.3" font-family='"Liberation Serif", "Noto Serif CJK SC", serif' font-size="7.4" fill="#1f2b25" text-anchor="middle" stroke="#1f2b25" stroke-width="0.18">1.054</text>
<text x="1077.3" y="517.3" font-family='"Liberation Serif", "Noto Serif CJK SC", serif' font-size="7.4" fill="#1f2b25" text-anchor="middle" stroke="#1f2b25" stroke-width="0.18">25.44</text>
<line x1="785" y1="546.3" x2="1106" y2="546.3" stroke="#587a69" stroke-width="0.9"/>
<clipPath id="stampclip"><rect x="1143.3" y="200" width="30" height="130"/></clipPath>
<g clip-path="url(#stampclip)" fill="#b01a22"><circle cx="1162.6" cy="268" r="39.4" fill="none" stroke="#b01a22" stroke-width="2.4"/><polygon points="1156.16,264.28 1148.88,270.09 1151.8,278.93 1144.03,273.8 1136.52,279.3 1139,270.33 1131.44,264.89 1140.74,264.47 1143.58,255.6 1146.85,264.32"/><text transform="translate(1143.8,248.5) rotate(-14)" font-family='"Liberation Serif","Noto Serif CJK SC",serif' font-size="12" font-weight="bold">量</text><text transform="translate(1154,250.5) rotate(24)" font-family='"Liberation Serif","Noto Serif CJK SC",serif' font-size="12" font-weight="bold">测</text><text x="1143.3" y="295.5" font-family='"Liberation Sans","Noto Sans CJK SC",sans-serif' font-size="12" font-weight="bold">专用章</text></g></svg></body></html>
